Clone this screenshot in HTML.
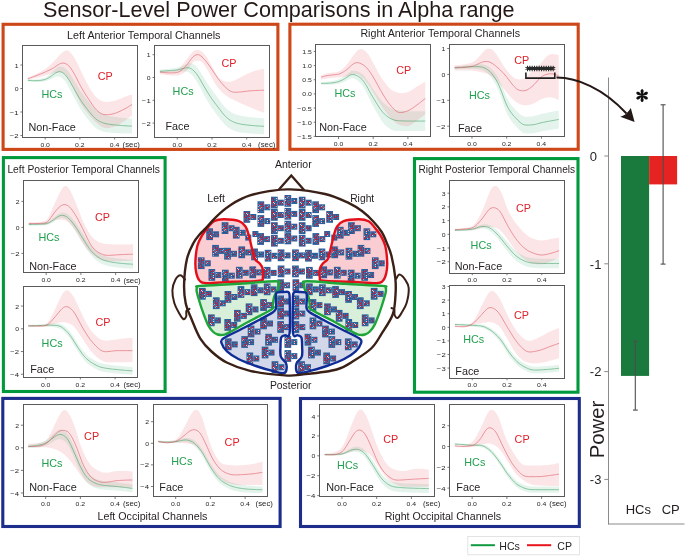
<!DOCTYPE html>
<html><head><meta charset="utf-8"><style>
html,body{margin:0;padding:0;background:#fff;width:685px;height:557px;overflow:hidden}
svg{display:block;will-change:transform}
text{font-family:"Liberation Sans", sans-serif}
</style></head><body>
<svg width="685" height="557" viewBox="0 0 685 557" font-family='"Liberation Sans", sans-serif'>
<rect width="685" height="557" fill="#ffffff"/>
<text x="43" y="17.1" font-size="22.4" fill="#231815" text-anchor="start" textLength="471.4" lengthAdjust="spacingAndGlyphs">Sensor-Level Power Comparisons in Alpha range</text>
<rect x="3.1" y="24.3" width="274.8" height="125.1" fill="none" stroke="#cd4719" stroke-width="3.1"/>
<rect x="289.9" y="24.2" width="288.3" height="125.1" fill="none" stroke="#cd4719" stroke-width="3.1"/>
<rect x="3.4" y="157.6" width="161.7" height="233.9" fill="none" stroke="#009a3d" stroke-width="3.1"/>
<rect x="414.5" y="158.6" width="163.5" height="233.6" fill="none" stroke="#009a3d" stroke-width="3.1"/>
<rect x="2.8" y="398.4" width="277.3" height="128.1" fill="none" stroke="#1c2d8c" stroke-width="3.1"/>
<rect x="300.5" y="398.5" width="278.8" height="128" fill="none" stroke="#1c2d8c" stroke-width="3.1"/>
<text x="67.1" y="38.5" font-size="10.6" fill="#231f20" text-anchor="start" textLength="153.4" lengthAdjust="spacingAndGlyphs">Left Anterior Temporal Channels</text>
<text x="360.4" y="37" font-size="10.6" fill="#231f20" text-anchor="start" textLength="159.6" lengthAdjust="spacingAndGlyphs">Right Anterior Temporal Channels</text>
<text x="7.4" y="172.8" font-size="10.4" fill="#231f20" text-anchor="start" textLength="152.6" lengthAdjust="spacingAndGlyphs">Left Posterior Temporal Channels</text>
<text x="418.5" y="173.3" font-size="10.3" fill="#231f20" text-anchor="start" textLength="156.6" lengthAdjust="spacingAndGlyphs">Right Posterior Temporal Channels</text>
<text x="97.5" y="520.1" font-size="10.6" fill="#231f20" text-anchor="start" textLength="109.9" lengthAdjust="spacingAndGlyphs">Left Occipital Channels</text>
<text x="384.7" y="520.1" font-size="10.6" fill="#231f20" text-anchor="start" textLength="116.4" lengthAdjust="spacingAndGlyphs">Right Occipital Channels</text>
<path d="M27.81,79.1 L28.98,79.21 L30.15,79.3 L31.32,79.37 L32.49,79.41 L33.66,79.41 L34.83,79.39 L36,79.35 L37.17,79.26 L38.34,79.14 L39.51,78.98 L40.68,78.77 L41.85,78.52 L43.02,78.22 L44.19,77.85 L45.36,77.38 L46.53,76.79 L47.7,76.05 L48.87,75.19 L50.04,74.22 L51.21,73.19 L52.39,72.1 L53.56,70.98 L54.73,69.84 L55.9,68.76 L57.07,67.82 L58.24,67.09 L59.41,66.64 L60.58,66.46 L61.75,66.54 L62.92,66.85 L64.09,67.38 L65.26,68.16 L66.43,69.21 L67.6,70.52 L68.77,72.05 L69.94,73.73 L71.11,75.51 L72.28,77.37 L73.45,79.29 L74.62,81.25 L75.79,83.23 L76.96,85.2 L78.13,87.12 L79.3,88.97 L80.47,90.73 L81.64,92.42 L82.81,94.04 L83.98,95.61 L85.15,97.14 L86.32,98.63 L87.5,100.1 L88.67,101.56 L89.84,103.02 L91.01,104.48 L92.18,105.9 L93.35,107.27 L94.52,108.54 L95.69,109.68 L96.86,110.68 L98.03,111.55 L99.2,112.3 L100.37,112.97 L101.54,113.57 L102.71,114.09 L103.88,114.55 L105.05,114.95 L106.22,115.29 L107.39,115.58 L108.56,115.83 L109.73,116.06 L110.9,116.26 L112.07,116.45 L113.24,116.63 L114.41,116.79 L115.58,116.95 L116.75,117.11 L117.92,117.26 L119.09,117.4 L120.26,117.54 L121.43,117.68 L122.61,117.81 L123.78,117.93 L124.95,118.05 L126.12,118.16 L127.29,118.26 L128.46,118.35 L129.63,118.43 L130.8,118.51 L131.97,118.58 L131.97,133.62 L130.8,133.61 L129.63,133.6 L128.46,133.58 L127.29,133.56 L126.12,133.53 L124.95,133.49 L123.78,133.45 L122.61,133.41 L121.43,133.36 L120.26,133.31 L119.09,133.25 L117.92,133.19 L116.75,133.13 L115.58,133.07 L114.41,133 L113.24,132.93 L112.07,132.85 L110.9,132.76 L109.73,132.65 L108.56,132.53 L107.39,132.38 L106.22,132.19 L105.05,131.97 L103.88,131.71 L102.71,131.39 L101.54,131.01 L100.37,130.58 L99.2,130.07 L98.03,129.48 L96.86,128.77 L95.69,127.92 L94.52,126.92 L93.35,125.77 L92.18,124.51 L91.01,123.16 L89.84,121.75 L88.67,120.32 L87.5,118.85 L86.32,117.34 L85.15,115.79 L83.98,114.17 L82.81,112.5 L81.64,110.75 L80.47,108.91 L79.3,106.98 L78.13,104.95 L76.96,102.83 L75.79,100.64 L74.62,98.42 L73.45,96.2 L72.28,94 L71.11,91.8 L69.94,89.59 L68.77,87.41 L67.6,85.29 L66.43,83.32 L65.26,81.57 L64.09,80.09 L62.92,78.86 L61.75,77.87 L60.58,77.12 L59.41,76.64 L58.24,76.44 L57.07,76.53 L55.9,76.86 L54.73,77.35 L53.56,77.92 L52.39,78.5 L51.21,79.06 L50.04,79.59 L48.87,80.1 L47.7,80.56 L46.53,80.95 L45.36,81.27 L44.19,81.52 L43.02,81.7 L41.85,81.85 L40.68,81.96 L39.51,82.03 L38.34,82.07 L37.17,82.08 L36,82.07 L34.83,82.03 L33.66,81.97 L32.49,81.9 L31.32,81.81 L30.15,81.7 L28.98,81.58 L27.81,81.45Z" fill="rgb(48,168,115)" fill-opacity="0.13"/>
<path d="M27.81,77.92 L28.98,77.41 L30.15,76.9 L31.32,76.37 L32.49,75.84 L33.66,75.29 L34.83,74.73 L36,74.16 L37.17,73.59 L38.34,73.01 L39.51,72.42 L40.68,71.81 L41.85,71.17 L43.02,70.49 L44.19,69.76 L45.36,68.97 L46.53,68.11 L47.7,67.17 L48.87,66.17 L50.04,65.12 L51.21,64.01 L52.39,62.87 L53.56,61.68 L54.73,60.44 L55.9,59.14 L57.07,57.81 L58.24,56.48 L59.41,55.2 L60.58,54 L61.75,52.92 L62.92,51.98 L64.09,51.22 L65.26,50.68 L66.43,50.44 L67.6,50.58 L68.77,51.11 L69.94,52.01 L71.11,53.23 L72.28,54.7 L73.45,56.35 L74.62,58.19 L75.79,60.22 L76.96,62.44 L78.13,64.8 L79.3,67.25 L80.47,69.73 L81.64,72.21 L82.81,74.69 L83.98,77.14 L85.15,79.54 L86.32,81.85 L87.5,84.07 L88.67,86.19 L89.84,88.21 L91.01,90.16 L92.18,92 L93.35,93.72 L94.52,95.27 L95.69,96.61 L96.86,97.75 L98.03,98.7 L99.2,99.5 L100.37,100.19 L101.54,100.78 L102.71,101.26 L103.88,101.62 L105.05,101.85 L106.22,101.95 L107.39,101.94 L108.56,101.85 L109.73,101.7 L110.9,101.5 L112.07,101.27 L113.24,101 L114.41,100.71 L115.58,100.38 L116.75,100 L117.92,99.58 L119.09,99.13 L120.26,98.66 L121.43,98.19 L122.61,97.73 L123.78,97.28 L124.95,96.84 L126.12,96.42 L127.29,96 L128.46,95.59 L129.63,95.18 L130.8,94.78 L131.97,94.38 L131.97,115.53 L130.8,116.45 L129.63,117.36 L128.46,118.25 L127.29,119.12 L126.12,119.95 L124.95,120.75 L123.78,121.53 L122.61,122.28 L121.43,123.01 L120.26,123.72 L119.09,124.4 L117.92,125.03 L116.75,125.6 L115.58,126.11 L114.41,126.56 L113.24,126.95 L112.07,127.3 L110.9,127.62 L109.73,127.88 L108.56,128.09 L107.39,128.2 L106.22,128.21 L105.05,128.07 L103.88,127.76 L102.71,127.29 L101.54,126.67 L100.37,125.95 L99.2,125.14 L98.03,124.26 L96.86,123.31 L95.69,122.28 L94.52,121.15 L93.35,119.93 L92.18,118.63 L91.01,117.27 L89.84,115.88 L88.67,114.47 L87.5,113.05 L86.32,111.61 L85.15,110.13 L83.98,108.58 L82.81,106.94 L81.64,105.16 L80.47,103.2 L79.3,101.02 L78.13,98.63 L76.96,96.09 L75.79,93.5 L74.62,90.93 L73.45,88.46 L72.28,86.09 L71.11,83.84 L69.94,81.71 L68.77,79.73 L67.6,77.89 L66.43,76.22 L65.26,74.77 L64.09,73.64 L62.92,72.87 L61.75,72.46 L60.58,72.32 L59.41,72.36 L58.24,72.49 L57.07,72.66 L55.9,72.86 L54.73,73.08 L53.56,73.32 L52.39,73.58 L51.21,73.87 L50.04,74.18 L48.87,74.5 L47.7,74.84 L46.53,75.18 L45.36,75.51 L44.19,75.85 L43.02,76.18 L41.85,76.51 L40.68,76.83 L39.51,77.15 L38.34,77.45 L37.17,77.74 L36,78.01 L34.83,78.27 L33.66,78.51 L32.49,78.74 L31.32,78.96 L30.15,79.17 L28.98,79.37 L27.81,79.57Z" fill="rgb(232,70,85)" fill-opacity="0.14"/>
<path d="M27.81,80.28 L28.98,80.39 L30.15,80.5 L31.32,80.59 L32.49,80.65 L33.66,80.69 L34.83,80.71 L36,80.71 L37.17,80.67 L38.34,80.61 L39.51,80.51 L40.68,80.36 L41.85,80.18 L43.02,79.96 L44.19,79.68 L45.36,79.33 L46.53,78.87 L47.7,78.31 L48.87,77.64 L50.04,76.91 L51.21,76.12 L52.39,75.3 L53.56,74.45 L54.73,73.6 L55.9,72.81 L57.07,72.17 L58.24,71.77 L59.41,71.64 L60.58,71.79 L61.75,72.21 L62.92,72.85 L64.09,73.73 L65.26,74.87 L66.43,76.26 L67.6,77.9 L68.77,79.73 L69.94,81.66 L71.11,83.65 L72.28,85.68 L73.45,87.74 L74.62,89.84 L75.79,91.94 L76.96,94.02 L78.13,96.04 L79.3,97.98 L80.47,99.82 L81.64,101.58 L82.81,103.27 L83.98,104.89 L85.15,106.46 L86.32,107.99 L87.5,109.48 L88.67,110.94 L89.84,112.39 L91.01,113.82 L92.18,115.2 L93.35,116.52 L94.52,117.73 L95.69,118.8 L96.86,119.72 L98.03,120.51 L99.2,121.19 L100.37,121.77 L101.54,122.29 L102.71,122.74 L103.88,123.13 L105.05,123.46 L106.22,123.74 L107.39,123.98 L108.56,124.18 L109.73,124.35 L110.9,124.51 L112.07,124.65 L113.24,124.78 L114.41,124.9 L115.58,125.01 L116.75,125.12 L117.92,125.22 L119.09,125.33 L120.26,125.42 L121.43,125.52 L122.61,125.61 L123.78,125.69 L124.95,125.77 L126.12,125.84 L127.29,125.91 L128.46,125.97 L129.63,126.02 L130.8,126.06 L131.97,126.1" fill="none" stroke="#45a266" stroke-width="0.6"/>
<path d="M27.81,78.63 L28.98,78.24 L30.15,77.84 L31.32,77.44 L32.49,77.03 L33.66,76.61 L34.83,76.18 L36,75.75 L37.17,75.3 L38.34,74.85 L39.51,74.4 L40.68,73.93 L41.85,73.45 L43.02,72.96 L44.19,72.46 L45.36,71.94 L46.53,71.42 L47.7,70.87 L48.87,70.32 L50.04,69.75 L51.21,69.16 L52.39,68.53 L53.56,67.87 L54.73,67.14 L55.9,66.36 L57.07,65.55 L58.24,64.76 L59.41,64.05 L60.58,63.51 L61.75,63.17 L62.92,63.07 L64.09,63.2 L65.26,63.54 L66.43,64.09 L67.6,64.85 L68.77,65.86 L69.94,67.15 L71.11,68.7 L72.28,70.47 L73.45,72.42 L74.62,74.51 L75.79,76.71 L76.96,79 L78.13,81.33 L79.3,83.63 L80.47,85.84 L81.64,87.95 L82.81,89.97 L83.98,91.92 L85.15,93.8 L86.32,95.64 L87.5,97.44 L88.67,99.23 L89.84,101.01 L91.01,102.76 L92.18,104.48 L93.35,106.12 L94.52,107.65 L95.69,109.02 L96.86,110.24 L98.03,111.3 L99.2,112.24 L100.37,113.05 L101.54,113.71 L102.71,114.19 L103.88,114.5 L105.05,114.65 L106.22,114.69 L107.39,114.65 L108.56,114.57 L109.73,114.46 L110.9,114.3 L112.07,114.1 L113.24,113.84 L114.41,113.52 L115.58,113.13 L116.75,112.68 L117.92,112.19 L119.09,111.66 L120.26,111.11 L121.43,110.54 L122.61,109.97 L123.78,109.37 L124.95,108.76 L126.12,108.12 L127.29,107.44 L128.46,106.74 L129.63,106 L130.8,105.25 L131.97,104.48" fill="none" stroke="#dc5a66" stroke-width="0.6"/>
<rect x="22.5" y="45.5" width="115" height="92" fill="none" stroke="#5a5a5a" stroke-width="1"/>
<line x1="20.4" y1="65" x2="22.6" y2="65" stroke="#5a5a5a" stroke-width="0.8"/>
<text x="18.6" y="67.5" font-size="6.25" fill="#1e1e1e" text-anchor="end" textLength="3.82" lengthAdjust="spacingAndGlyphs">1</text>
<line x1="20.4" y1="88.5" x2="22.6" y2="88.5" stroke="#5a5a5a" stroke-width="0.8"/>
<text x="18.6" y="91" font-size="6.25" fill="#1e1e1e" text-anchor="end" textLength="3.82" lengthAdjust="spacingAndGlyphs">0</text>
<line x1="20.4" y1="112" x2="22.6" y2="112" stroke="#5a5a5a" stroke-width="0.8"/>
<text x="18.6" y="114.5" font-size="6.25" fill="#1e1e1e" text-anchor="end" textLength="8.84" lengthAdjust="spacingAndGlyphs">−1</text>
<line x1="20.4" y1="135.5" x2="22.6" y2="135.5" stroke="#5a5a5a" stroke-width="0.8"/>
<text x="18.6" y="138" font-size="6.25" fill="#1e1e1e" text-anchor="end" textLength="8.84" lengthAdjust="spacingAndGlyphs">−2</text>
<line x1="45.17" y1="137.3" x2="45.17" y2="139.5" stroke="#5a5a5a" stroke-width="0.8"/>
<text x="45.17" y="146.6" font-size="6.25" fill="#1e1e1e" text-anchor="middle" textLength="9.54" lengthAdjust="spacingAndGlyphs">0.0</text>
<line x1="79.89" y1="137.3" x2="79.89" y2="139.5" stroke="#5a5a5a" stroke-width="0.8"/>
<text x="79.89" y="146.6" font-size="6.25" fill="#1e1e1e" text-anchor="middle" textLength="9.54" lengthAdjust="spacingAndGlyphs">0.2</text>
<line x1="114.61" y1="137.3" x2="114.61" y2="139.5" stroke="#5a5a5a" stroke-width="0.8"/>
<text x="114.61" y="146.6" font-size="6.25" fill="#1e1e1e" text-anchor="middle" textLength="9.54" lengthAdjust="spacingAndGlyphs">0.4</text>
<text x="122.6" y="146.9" font-size="7.3" fill="#1e1e1e" textLength="17.3" lengthAdjust="spacingAndGlyphs">(sec)</text>
<text x="97.8" y="79.9" font-size="10.8" fill="#e0202a" text-anchor="start" >CP</text>
<text x="41.5" y="97.8" font-size="10.8" fill="#22a050" text-anchor="start" >HCs</text>
<text x="28.4" y="131.3" font-size="10.8" fill="#231f20" text-anchor="start" >Non-Face</text>
<path d="M159.91,69.52 L161.08,69.42 L162.25,69.32 L163.42,69.21 L164.59,69.11 L165.76,68.99 L166.93,68.88 L168.1,68.76 L169.27,68.64 L170.44,68.52 L171.61,68.4 L172.78,68.27 L173.95,68.13 L175.12,67.97 L176.29,67.77 L177.46,67.52 L178.63,67.21 L179.8,66.82 L180.97,66.39 L182.14,65.93 L183.31,65.45 L184.49,64.97 L185.66,64.49 L186.83,64.01 L188,63.58 L189.17,63.27 L190.34,63.14 L191.51,63.27 L192.68,63.68 L193.85,64.35 L195.02,65.25 L196.19,66.35 L197.36,67.66 L198.53,69.17 L199.7,70.88 L200.87,72.72 L202.04,74.63 L203.21,76.55 L204.38,78.43 L205.55,80.28 L206.72,82.09 L207.89,83.89 L209.06,85.66 L210.23,87.41 L211.4,89.11 L212.57,90.77 L213.74,92.38 L214.91,93.96 L216.08,95.53 L217.25,97.1 L218.42,98.69 L219.6,100.29 L220.77,101.89 L221.94,103.44 L223.11,104.9 L224.28,106.27 L225.45,107.53 L226.62,108.69 L227.79,109.74 L228.96,110.69 L230.13,111.53 L231.3,112.26 L232.47,112.9 L233.64,113.46 L234.81,113.95 L235.98,114.39 L237.15,114.77 L238.32,115.09 L239.49,115.38 L240.66,115.64 L241.83,115.88 L243,116.09 L244.17,116.28 L245.34,116.47 L246.51,116.63 L247.68,116.79 L248.85,116.94 L250.02,117.08 L251.19,117.22 L252.36,117.35 L253.53,117.48 L254.71,117.6 L255.88,117.71 L257.05,117.82 L258.22,117.93 L259.39,118.02 L260.56,118.1 L261.73,118.18 L262.9,118.25 L264.07,118.31 L264.07,134.27 L262.9,134.25 L261.73,134.21 L260.56,134.18 L259.39,134.13 L258.22,134.08 L257.05,134.02 L255.88,133.95 L254.71,133.87 L253.53,133.79 L252.36,133.71 L251.19,133.62 L250.02,133.53 L248.85,133.43 L247.68,133.33 L246.51,133.22 L245.34,133.1 L244.17,132.97 L243,132.82 L241.83,132.65 L240.66,132.47 L239.49,132.26 L238.32,132.02 L237.15,131.74 L235.98,131.42 L234.81,131.04 L233.64,130.59 L232.47,130.09 L231.3,129.5 L230.13,128.82 L228.96,128.05 L227.79,127.16 L226.62,126.17 L225.45,125.09 L224.28,123.91 L223.11,122.62 L221.94,121.23 L220.77,119.76 L219.6,118.24 L218.42,116.7 L217.25,115.17 L216.08,113.65 L214.91,112.13 L213.74,110.58 L212.57,108.96 L211.4,107.28 L210.23,105.51 L209.06,103.65 L207.89,101.72 L206.72,99.73 L205.55,97.67 L204.38,95.54 L203.21,93.33 L202.04,91.07 L200.87,88.77 L199.7,86.52 L198.53,84.38 L197.36,82.41 L196.19,80.6 L195.02,78.92 L193.85,77.34 L192.68,75.87 L191.51,74.54 L190.34,73.42 L189.17,72.56 L188,71.96 L186.83,71.6 L185.66,71.42 L184.49,71.38 L183.31,71.42 L182.14,71.53 L180.97,71.68 L179.8,71.85 L178.63,72.02 L177.46,72.16 L176.29,72.27 L175.12,72.35 L173.95,72.41 L172.78,72.46 L171.61,72.5 L170.44,72.54 L169.27,72.59 L168.1,72.65 L166.93,72.71 L165.76,72.77 L164.59,72.84 L163.42,72.92 L162.25,73 L161.08,73.08 L159.91,73.17Z" fill="rgb(48,168,115)" fill-opacity="0.13"/>
<path d="M159.91,70.66 L161.08,70.66 L162.25,70.66 L163.42,70.66 L164.59,70.66 L165.76,70.66 L166.93,70.65 L168.1,70.63 L169.27,70.6 L170.44,70.54 L171.61,70.44 L172.78,70.3 L173.95,70.12 L175.12,69.89 L176.29,69.56 L177.46,69.09 L178.63,68.42 L179.8,67.51 L180.97,66.38 L182.14,65.08 L183.31,63.67 L184.49,62.2 L185.66,60.7 L186.83,59.17 L188,57.59 L189.17,56 L190.34,54.46 L191.51,53.06 L192.68,51.89 L193.85,51.02 L195.02,50.43 L196.19,50.1 L197.36,50 L198.53,50.11 L199.7,50.43 L200.87,50.98 L202.04,51.73 L203.21,52.71 L204.38,53.93 L205.55,55.39 L206.72,57.09 L207.89,58.98 L209.06,60.98 L210.23,63.04 L211.4,65.11 L212.57,67.19 L213.74,69.3 L214.91,71.41 L216.08,73.47 L217.25,75.37 L218.42,77.02 L219.6,78.35 L220.77,79.36 L221.94,80.1 L223.11,80.65 L224.28,81.07 L225.45,81.41 L226.62,81.65 L227.79,81.8 L228.96,81.85 L230.13,81.76 L231.3,81.54 L232.47,81.2 L233.64,80.75 L234.81,80.22 L235.98,79.66 L237.15,79.08 L238.32,78.49 L239.49,77.89 L240.66,77.28 L241.83,76.65 L243,76.02 L244.17,75.4 L245.34,74.8 L246.51,74.22 L247.68,73.67 L248.85,73.15 L250.02,72.64 L251.19,72.16 L252.36,71.72 L253.53,71.3 L254.71,70.92 L255.88,70.57 L257.05,70.25 L258.22,69.96 L259.39,69.69 L260.56,69.45 L261.73,69.23 L262.9,69.02 L264.07,68.84 L264.07,112.84 L262.9,112.41 L261.73,111.98 L260.56,111.54 L259.39,111.1 L258.22,110.65 L257.05,110.19 L255.88,109.73 L254.71,109.26 L253.53,108.79 L252.36,108.31 L251.19,107.83 L250.02,107.34 L248.85,106.85 L247.68,106.35 L246.51,105.84 L245.34,105.33 L244.17,104.81 L243,104.28 L241.83,103.75 L240.66,103.21 L239.49,102.67 L238.32,102.11 L237.15,101.55 L235.98,100.99 L234.81,100.43 L233.64,99.87 L232.47,99.31 L231.3,98.74 L230.13,98.15 L228.96,97.52 L227.79,96.85 L226.62,96.1 L225.45,95.26 L224.28,94.32 L223.11,93.28 L221.94,92.13 L220.77,90.89 L219.6,89.56 L218.42,88.13 L217.25,86.61 L216.08,84.97 L214.91,83.19 L213.74,81.24 L212.57,79.13 L211.4,76.92 L210.23,74.68 L209.06,72.49 L207.89,70.41 L206.72,68.47 L205.55,66.65 L204.38,64.97 L203.21,63.49 L202.04,62.28 L200.87,61.41 L199.7,60.88 L198.53,60.63 L197.36,60.59 L196.19,60.72 L195.02,61.05 L193.85,61.69 L192.68,62.68 L191.51,64.04 L190.34,65.65 L189.17,67.36 L188,69 L186.83,70.43 L185.66,71.62 L184.49,72.57 L183.31,73.36 L182.14,74.02 L180.97,74.57 L179.8,75 L178.63,75.31 L177.46,75.49 L176.29,75.57 L175.12,75.59 L173.95,75.56 L172.78,75.5 L171.61,75.43 L170.44,75.35 L169.27,75.26 L168.1,75.16 L166.93,75.05 L165.76,74.92 L164.59,74.77 L163.42,74.62 L162.25,74.45 L161.08,74.27 L159.91,74.08Z" fill="rgb(232,70,85)" fill-opacity="0.14"/>
<path d="M159.91,71.34 L161.08,71.25 L162.25,71.16 L163.42,71.07 L164.59,70.98 L165.76,70.88 L166.93,70.79 L168.1,70.7 L169.27,70.62 L170.44,70.53 L171.61,70.45 L172.78,70.37 L173.95,70.27 L175.12,70.16 L176.29,70.02 L177.46,69.84 L178.63,69.61 L179.8,69.34 L180.97,69.03 L182.14,68.73 L183.31,68.44 L184.49,68.17 L185.66,67.95 L186.83,67.81 L188,67.77 L189.17,67.91 L190.34,68.28 L191.51,68.91 L192.68,69.77 L193.85,70.85 L195.02,72.08 L196.19,73.48 L197.36,75.03 L198.53,76.78 L199.7,78.7 L200.87,80.75 L202.04,82.85 L203.21,84.94 L204.38,86.98 L205.55,88.97 L206.72,90.91 L207.89,92.81 L209.06,94.66 L210.23,96.46 L211.4,98.19 L212.57,99.87 L213.74,101.48 L214.91,103.05 L216.08,104.59 L217.25,106.14 L218.42,107.7 L219.6,109.27 L220.77,110.82 L221.94,112.33 L223.11,113.76 L224.28,115.09 L225.45,116.31 L226.62,117.43 L227.79,118.45 L228.96,119.37 L230.13,120.18 L231.3,120.88 L232.47,121.49 L233.64,122.03 L234.81,122.49 L235.98,122.9 L237.15,123.26 L238.32,123.56 L239.49,123.82 L240.66,124.06 L241.83,124.27 L243,124.45 L244.17,124.63 L245.34,124.78 L246.51,124.93 L247.68,125.06 L248.85,125.19 L250.02,125.3 L251.19,125.42 L252.36,125.53 L253.53,125.64 L254.71,125.74 L255.88,125.83 L257.05,125.92 L258.22,126 L259.39,126.07 L260.56,126.14 L261.73,126.2 L262.9,126.25 L264.07,126.29" fill="none" stroke="#45a266" stroke-width="0.6"/>
<path d="M159.91,72.03 L161.08,72.21 L162.25,72.38 L163.42,72.53 L164.59,72.66 L165.76,72.77 L166.93,72.84 L168.1,72.89 L169.27,72.91 L170.44,72.91 L171.61,72.9 L172.78,72.87 L173.95,72.83 L175.12,72.76 L176.29,72.63 L177.46,72.4 L178.63,72.01 L179.8,71.43 L180.97,70.65 L182.14,69.71 L183.31,68.64 L184.49,67.48 L185.66,66.22 L186.83,64.85 L188,63.36 L189.17,61.78 L190.34,60.17 L191.51,58.64 L192.68,57.29 L193.85,56.19 L195.02,55.37 L196.19,54.85 L197.36,54.63 L198.53,54.74 L199.7,55.2 L200.87,55.96 L202.04,56.96 L203.21,58.12 L204.38,59.4 L205.55,60.77 L206.72,62.23 L207.89,63.77 L209.06,65.38 L210.23,67.04 L211.4,68.73 L212.57,70.46 L213.74,72.21 L214.91,73.97 L216.08,75.71 L217.25,77.41 L218.42,79.03 L219.6,80.59 L220.77,82.09 L221.94,83.51 L223.11,84.85 L224.28,86.1 L225.45,87.26 L226.62,88.34 L227.79,89.34 L228.96,90.24 L230.13,90.99 L231.3,91.57 L232.47,91.95 L233.64,92.15 L234.81,92.23 L235.98,92.23 L237.15,92.2 L238.32,92.14 L239.49,92.07 L240.66,91.97 L241.83,91.84 L243,91.69 L244.17,91.53 L245.34,91.36 L246.51,91.2 L247.68,91.07 L248.85,90.95 L250.02,90.86 L251.19,90.77 L252.36,90.7 L253.53,90.63 L254.71,90.56 L255.88,90.5 L257.05,90.45 L258.22,90.4 L259.39,90.36 L260.56,90.33 L261.73,90.3 L262.9,90.28 L264.07,90.27" fill="none" stroke="#dc5a66" stroke-width="0.6"/>
<rect x="154.5" y="45.5" width="115" height="92" fill="none" stroke="#5a5a5a" stroke-width="1"/>
<line x1="152.5" y1="54.7" x2="154.7" y2="54.7" stroke="#5a5a5a" stroke-width="0.8"/>
<text x="150.7" y="57.2" font-size="6.25" fill="#1e1e1e" text-anchor="end" textLength="3.82" lengthAdjust="spacingAndGlyphs">1</text>
<line x1="152.5" y1="77.5" x2="154.7" y2="77.5" stroke="#5a5a5a" stroke-width="0.8"/>
<text x="150.7" y="80" font-size="6.25" fill="#1e1e1e" text-anchor="end" textLength="3.82" lengthAdjust="spacingAndGlyphs">0</text>
<line x1="152.5" y1="100.3" x2="154.7" y2="100.3" stroke="#5a5a5a" stroke-width="0.8"/>
<text x="150.7" y="102.8" font-size="6.25" fill="#1e1e1e" text-anchor="end" textLength="8.84" lengthAdjust="spacingAndGlyphs">−1</text>
<line x1="152.5" y1="123.1" x2="154.7" y2="123.1" stroke="#5a5a5a" stroke-width="0.8"/>
<text x="150.7" y="125.6" font-size="6.25" fill="#1e1e1e" text-anchor="end" textLength="8.84" lengthAdjust="spacingAndGlyphs">−2</text>
<line x1="177.27" y1="137.3" x2="177.27" y2="139.5" stroke="#5a5a5a" stroke-width="0.8"/>
<text x="177.27" y="146.6" font-size="6.25" fill="#1e1e1e" text-anchor="middle" textLength="9.54" lengthAdjust="spacingAndGlyphs">0.0</text>
<line x1="211.99" y1="137.3" x2="211.99" y2="139.5" stroke="#5a5a5a" stroke-width="0.8"/>
<text x="211.99" y="146.6" font-size="6.25" fill="#1e1e1e" text-anchor="middle" textLength="9.54" lengthAdjust="spacingAndGlyphs">0.2</text>
<line x1="246.71" y1="137.3" x2="246.71" y2="139.5" stroke="#5a5a5a" stroke-width="0.8"/>
<text x="246.71" y="146.6" font-size="6.25" fill="#1e1e1e" text-anchor="middle" textLength="9.54" lengthAdjust="spacingAndGlyphs">0.4</text>
<text x="258.1" y="146.9" font-size="7.3" fill="#1e1e1e" textLength="17.3" lengthAdjust="spacingAndGlyphs">(sec)</text>
<text x="221.4" y="67.2" font-size="10.8" fill="#e0202a" text-anchor="start" >CP</text>
<text x="172.6" y="94.8" font-size="10.8" fill="#22a050" text-anchor="start" >HCs</text>
<text x="165.4" y="130.2" font-size="10.8" fill="#231f20" text-anchor="start" >Face</text>
<path d="M321.11,82.01 L322.28,81.97 L323.45,81.91 L324.62,81.85 L325.79,81.77 L326.96,81.67 L328.13,81.57 L329.3,81.44 L330.47,81.29 L331.64,81.11 L332.81,80.9 L333.98,80.65 L335.15,80.37 L336.32,80.05 L337.49,79.69 L338.66,79.26 L339.83,78.76 L341,78.18 L342.17,77.52 L343.34,76.78 L344.51,75.97 L345.69,75.09 L346.86,74.14 L348.03,73.17 L349.2,72.27 L350.37,71.52 L351.54,70.99 L352.71,70.71 L353.88,70.66 L355.05,70.78 L356.22,71.02 L357.39,71.35 L358.56,71.77 L359.73,72.28 L360.9,72.92 L362.07,73.75 L363.24,74.81 L364.41,76.12 L365.58,77.64 L366.75,79.33 L367.92,81.13 L369.09,82.99 L370.26,84.85 L371.43,86.67 L372.6,88.43 L373.77,90.14 L374.94,91.82 L376.11,93.49 L377.28,95.15 L378.45,96.78 L379.62,98.37 L380.8,99.87 L381.97,101.26 L383.14,102.51 L384.31,103.62 L385.48,104.58 L386.65,105.44 L387.82,106.22 L388.99,106.94 L390.16,107.61 L391.33,108.22 L392.5,108.77 L393.67,109.22 L394.84,109.59 L396.01,109.88 L397.18,110.11 L398.35,110.3 L399.52,110.46 L400.69,110.61 L401.86,110.75 L403.03,110.87 L404.2,110.97 L405.37,111.05 L406.54,111.1 L407.71,111.13 L408.88,111.15 L410.05,111.16 L411.22,111.16 L412.39,111.16 L413.56,111.16 L414.73,111.16 L415.91,111.16 L417.08,111.16 L418.25,111.16 L419.42,111.16 L420.59,111.16 L421.76,111.16 L422.93,111.16 L424.1,111.16 L425.27,111.16 L425.27,130.97 L424.1,130.97 L422.93,130.97 L421.76,130.97 L420.59,130.97 L419.42,130.97 L418.25,130.97 L417.08,130.97 L415.91,130.97 L414.73,130.97 L413.56,130.97 L412.39,130.97 L411.22,130.97 L410.05,130.97 L408.88,130.98 L407.71,130.98 L406.54,130.99 L405.37,131 L404.2,131.02 L403.03,131.04 L401.86,131.06 L400.69,131.07 L399.52,131.08 L398.35,131.08 L397.18,131.04 L396.01,130.96 L394.84,130.8 L393.67,130.54 L392.5,130.16 L391.33,129.65 L390.16,129.03 L388.99,128.29 L387.82,127.46 L386.65,126.52 L385.48,125.44 L384.31,124.22 L383.14,122.81 L381.97,121.23 L380.8,119.48 L379.62,117.59 L378.45,115.61 L377.28,113.57 L376.11,111.5 L374.94,109.41 L373.77,107.3 L372.6,105.14 L371.43,102.9 L370.26,100.56 L369.09,98.13 L367.92,95.68 L366.75,93.25 L365.58,90.91 L364.41,88.74 L363.24,86.79 L362.07,85.09 L360.9,83.65 L359.73,82.43 L358.56,81.39 L357.39,80.48 L356.22,79.71 L355.05,79.07 L353.88,78.59 L352.71,78.3 L351.54,78.25 L350.37,78.46 L349.2,78.91 L348.03,79.53 L346.86,80.23 L345.69,80.91 L344.51,81.55 L343.34,82.13 L342.17,82.65 L341,83.12 L339.83,83.51 L338.66,83.83 L337.49,84.09 L336.32,84.3 L335.15,84.46 L333.98,84.6 L332.81,84.7 L331.64,84.78 L330.47,84.83 L329.3,84.85 L328.13,84.87 L326.96,84.87 L325.79,84.87 L324.62,84.87 L323.45,84.86 L322.28,84.86 L321.11,84.84Z" fill="rgb(48,168,115)" fill-opacity="0.13"/>
<path d="M321.11,75.22 L322.28,74.87 L323.45,74.52 L324.62,74.19 L325.79,73.87 L326.96,73.59 L328.13,73.33 L329.3,73.1 L330.47,72.9 L331.64,72.74 L332.81,72.59 L333.98,72.45 L335.15,72.3 L336.32,72.12 L337.49,71.85 L338.66,71.47 L339.83,70.93 L341,70.2 L342.17,69.28 L343.34,68.21 L344.51,67.02 L345.69,65.74 L346.86,64.37 L348.03,62.91 L349.2,61.35 L350.37,59.69 L351.54,57.98 L352.71,56.29 L353.88,54.66 L355.05,53.15 L356.22,51.79 L357.39,50.63 L358.56,49.73 L359.73,49.18 L360.9,49 L362.07,49.17 L363.24,49.64 L364.41,50.34 L365.58,51.26 L366.75,52.43 L367.92,53.86 L369.09,55.57 L370.26,57.49 L371.43,59.56 L372.6,61.71 L373.77,63.89 L374.94,66.11 L376.11,68.34 L377.28,70.55 L378.45,72.7 L379.62,74.75 L380.8,76.68 L381.97,78.5 L383.14,80.25 L384.31,81.92 L385.48,83.52 L386.65,85.03 L387.82,86.42 L388.99,87.66 L390.16,88.75 L391.33,89.66 L392.5,90.43 L393.67,91.08 L394.84,91.63 L396.01,92.11 L397.18,92.51 L398.35,92.83 L399.52,93.04 L400.69,93.15 L401.86,93.17 L403.03,93.09 L404.2,92.94 L405.37,92.73 L406.54,92.45 L407.71,92.1 L408.88,91.66 L410.05,91.11 L411.22,90.45 L412.39,89.71 L413.56,88.92 L414.73,88.12 L415.91,87.34 L417.08,86.58 L418.25,85.85 L419.42,85.15 L420.59,84.45 L421.76,83.77 L422.93,83.08 L424.1,82.41 L425.27,81.73 L425.27,114.28 L424.1,115.19 L422.93,116.09 L421.76,116.99 L420.59,117.87 L419.42,118.74 L418.25,119.61 L417.08,120.48 L415.91,121.38 L414.73,122.3 L413.56,123.22 L412.39,124.09 L411.22,124.87 L410.05,125.5 L408.88,125.93 L407.71,126.17 L406.54,126.24 L405.37,126.19 L404.2,126.06 L403.03,125.87 L401.86,125.62 L400.69,125.32 L399.52,124.93 L398.35,124.43 L397.18,123.79 L396.01,123 L394.84,122.06 L393.67,121.01 L392.5,119.88 L391.33,118.69 L390.16,117.44 L388.99,116.12 L387.82,114.72 L386.65,113.24 L385.48,111.69 L384.31,110.07 L383.14,108.41 L381.97,106.68 L380.8,104.9 L379.62,103.06 L378.45,101.17 L377.28,99.24 L376.11,97.29 L374.94,95.36 L373.77,93.45 L372.6,91.56 L371.43,89.67 L370.26,87.82 L369.09,86 L367.92,84.27 L366.75,82.65 L365.58,81.17 L364.41,79.82 L363.24,78.59 L362.07,77.45 L360.9,76.42 L359.73,75.51 L358.56,74.78 L357.39,74.26 L356.22,73.97 L355.05,73.92 L353.88,74.07 L352.71,74.37 L351.54,74.77 L350.37,75.2 L349.2,75.62 L348.03,75.99 L346.86,76.3 L345.69,76.55 L344.51,76.76 L343.34,76.93 L342.17,77.08 L341,77.22 L339.83,77.34 L338.66,77.45 L337.49,77.54 L336.32,77.62 L335.15,77.7 L333.98,77.77 L332.81,77.84 L331.64,77.93 L330.47,78.03 L329.3,78.15 L328.13,78.31 L326.96,78.49 L325.79,78.7 L324.62,78.93 L323.45,79.19 L322.28,79.47 L321.11,79.75Z" fill="rgb(232,70,85)" fill-opacity="0.14"/>
<path d="M321.11,83.43 L322.28,83.41 L323.45,83.39 L324.62,83.36 L325.79,83.32 L326.96,83.27 L328.13,83.22 L329.3,83.15 L330.47,83.06 L331.64,82.94 L332.81,82.8 L333.98,82.62 L335.15,82.42 L336.32,82.18 L337.49,81.89 L338.66,81.55 L339.83,81.14 L341,80.65 L342.17,80.09 L343.34,79.45 L344.51,78.76 L345.69,78 L346.86,77.18 L348.03,76.35 L349.2,75.59 L350.37,74.99 L351.54,74.62 L352.71,74.51 L353.88,74.62 L355.05,74.92 L356.22,75.36 L357.39,75.92 L358.56,76.58 L359.73,77.35 L360.9,78.28 L362.07,79.42 L363.24,80.8 L364.41,82.43 L365.58,84.27 L366.75,86.29 L367.92,88.41 L369.09,90.56 L370.26,92.71 L371.43,94.79 L372.6,96.79 L373.77,98.72 L374.94,100.62 L376.11,102.5 L377.28,104.36 L378.45,106.2 L379.62,107.98 L380.8,109.67 L381.97,111.24 L383.14,112.66 L384.31,113.92 L385.48,115.01 L386.65,115.98 L387.82,116.84 L388.99,117.62 L390.16,118.32 L391.33,118.94 L392.5,119.46 L393.67,119.88 L394.84,120.2 L396.01,120.42 L397.18,120.57 L398.35,120.69 L399.52,120.77 L400.69,120.84 L401.86,120.9 L403.03,120.95 L404.2,120.99 L405.37,121.02 L406.54,121.05 L407.71,121.06 L408.88,121.06 L410.05,121.07 L411.22,121.07 L412.39,121.07 L413.56,121.07 L414.73,121.07 L415.91,121.07 L417.08,121.07 L418.25,121.07 L419.42,121.07 L420.59,121.07 L421.76,121.07 L422.93,121.07 L424.1,121.07 L425.27,121.07" fill="none" stroke="#45a266" stroke-width="0.6"/>
<path d="M321.11,77.2 L322.28,76.85 L323.45,76.52 L324.62,76.2 L325.79,75.91 L326.96,75.65 L328.13,75.44 L329.3,75.26 L330.47,75.11 L331.64,75 L332.81,74.9 L333.98,74.81 L335.15,74.7 L336.32,74.57 L337.49,74.39 L338.66,74.13 L339.83,73.75 L341,73.26 L342.17,72.65 L343.34,71.96 L344.51,71.2 L345.69,70.37 L346.86,69.45 L348.03,68.46 L349.2,67.4 L350.37,66.32 L351.54,65.28 L352.71,64.34 L353.88,63.57 L355.05,63 L356.22,62.68 L357.39,62.61 L358.56,62.76 L359.73,63.1 L360.9,63.6 L362.07,64.22 L363.24,64.95 L364.41,65.79 L365.58,66.76 L366.75,67.89 L367.92,69.22 L369.09,70.73 L370.26,72.41 L371.43,74.2 L372.6,76.07 L373.77,78.03 L374.94,80.07 L376.11,82.17 L377.28,84.32 L378.45,86.47 L379.62,88.59 L380.8,90.65 L381.97,92.66 L383.14,94.62 L384.31,96.54 L385.48,98.4 L386.65,100.18 L387.82,101.87 L388.99,103.45 L390.16,104.93 L391.33,106.32 L392.5,107.65 L393.67,108.9 L394.84,110.04 L396.01,111.01 L397.18,111.76 L398.35,112.26 L399.52,112.52 L400.69,112.57 L401.86,112.47 L403.03,112.27 L404.2,111.99 L405.37,111.66 L406.54,111.27 L407.71,110.83 L408.88,110.32 L410.05,109.72 L411.22,109.03 L412.39,108.26 L413.56,107.44 L414.73,106.59 L415.91,105.73 L417.08,104.86 L418.25,103.99 L419.42,103.11 L420.59,102.21 L421.76,101.28 L422.93,100.35 L424.1,99.39 L425.27,98.43" fill="none" stroke="#dc5a66" stroke-width="0.6"/>
<rect x="315.5" y="44.5" width="115" height="92" fill="none" stroke="#5a5a5a" stroke-width="1"/>
<line x1="313.7" y1="51.45" x2="315.9" y2="51.45" stroke="#5a5a5a" stroke-width="0.8"/>
<text x="311.9" y="53.95" font-size="6.25" fill="#1e1e1e" text-anchor="end" textLength="9.54" lengthAdjust="spacingAndGlyphs">1.5</text>
<line x1="313.7" y1="65.6" x2="315.9" y2="65.6" stroke="#5a5a5a" stroke-width="0.8"/>
<text x="311.9" y="68.1" font-size="6.25" fill="#1e1e1e" text-anchor="end" textLength="9.54" lengthAdjust="spacingAndGlyphs">1.0</text>
<line x1="313.7" y1="79.75" x2="315.9" y2="79.75" stroke="#5a5a5a" stroke-width="0.8"/>
<text x="311.9" y="82.25" font-size="6.25" fill="#1e1e1e" text-anchor="end" textLength="9.54" lengthAdjust="spacingAndGlyphs">0.5</text>
<line x1="313.7" y1="93.9" x2="315.9" y2="93.9" stroke="#5a5a5a" stroke-width="0.8"/>
<text x="311.9" y="96.4" font-size="6.25" fill="#1e1e1e" text-anchor="end" textLength="9.54" lengthAdjust="spacingAndGlyphs">0.0</text>
<line x1="313.7" y1="108.05" x2="315.9" y2="108.05" stroke="#5a5a5a" stroke-width="0.8"/>
<text x="311.9" y="110.55" font-size="6.25" fill="#1e1e1e" text-anchor="end" textLength="14.57" lengthAdjust="spacingAndGlyphs">−0.5</text>
<line x1="313.7" y1="122.2" x2="315.9" y2="122.2" stroke="#5a5a5a" stroke-width="0.8"/>
<text x="311.9" y="124.7" font-size="6.25" fill="#1e1e1e" text-anchor="end" textLength="14.57" lengthAdjust="spacingAndGlyphs">−1.0</text>
<line x1="313.7" y1="136.35" x2="315.9" y2="136.35" stroke="#5a5a5a" stroke-width="0.8"/>
<text x="311.9" y="138.85" font-size="6.25" fill="#1e1e1e" text-anchor="end" textLength="14.57" lengthAdjust="spacingAndGlyphs">−1.5</text>
<line x1="338.47" y1="136.9" x2="338.47" y2="139.1" stroke="#5a5a5a" stroke-width="0.8"/>
<text x="338.47" y="146.2" font-size="6.25" fill="#1e1e1e" text-anchor="middle" textLength="9.54" lengthAdjust="spacingAndGlyphs">0.0</text>
<line x1="373.19" y1="136.9" x2="373.19" y2="139.1" stroke="#5a5a5a" stroke-width="0.8"/>
<text x="373.19" y="146.2" font-size="6.25" fill="#1e1e1e" text-anchor="middle" textLength="9.54" lengthAdjust="spacingAndGlyphs">0.2</text>
<line x1="407.91" y1="136.9" x2="407.91" y2="139.1" stroke="#5a5a5a" stroke-width="0.8"/>
<text x="407.91" y="146.2" font-size="6.25" fill="#1e1e1e" text-anchor="middle" textLength="9.54" lengthAdjust="spacingAndGlyphs">0.4</text>
<text x="396.2" y="74.2" font-size="10.8" fill="#e0202a" text-anchor="start" >CP</text>
<text x="334.4" y="96.8" font-size="10.8" fill="#22a050" text-anchor="start" >HCs</text>
<text x="319.3" y="131.2" font-size="10.8" fill="#231f20" text-anchor="start" >Non-Face</text>
<path d="M454.61,66.63 L455.78,66.54 L456.95,66.45 L458.12,66.35 L459.29,66.25 L460.46,66.13 L461.63,66 L462.8,65.86 L463.97,65.71 L465.14,65.53 L466.31,65.35 L467.48,65.17 L468.65,64.99 L469.82,64.83 L470.99,64.69 L472.16,64.57 L473.33,64.47 L474.5,64.38 L475.67,64.28 L476.84,64.19 L478.01,64.09 L479.19,64.02 L480.36,64 L481.53,64.06 L482.7,64.22 L483.87,64.5 L485.04,64.88 L486.21,65.36 L487.38,65.93 L488.55,66.62 L489.72,67.44 L490.89,68.41 L492.06,69.53 L493.23,70.79 L494.4,72.18 L495.57,73.7 L496.74,75.37 L497.91,77.24 L499.08,79.38 L500.25,81.82 L501.42,84.54 L502.59,87.46 L503.76,90.44 L504.93,93.36 L506.1,96.07 L507.27,98.52 L508.44,100.66 L509.61,102.54 L510.78,104.21 L511.95,105.73 L513.12,107.14 L514.3,108.45 L515.47,109.69 L516.64,110.88 L517.81,112.04 L518.98,113.15 L520.15,114.21 L521.32,115.14 L522.49,115.87 L523.66,116.36 L524.83,116.63 L526,116.72 L527.17,116.72 L528.34,116.68 L529.51,116.61 L530.68,116.52 L531.85,116.4 L533.02,116.24 L534.19,116.02 L535.36,115.74 L536.53,115.41 L537.7,115.05 L538.87,114.7 L540.04,114.37 L541.21,114.07 L542.38,113.79 L543.55,113.52 L544.72,113.26 L545.89,113 L547.06,112.75 L548.23,112.51 L549.41,112.26 L550.58,112.02 L551.75,111.78 L552.92,111.54 L554.09,111.31 L555.26,111.08 L556.43,110.85 L557.6,110.63 L558.77,110.4 L558.77,128.53 L557.6,128.71 L556.43,128.9 L555.26,129.08 L554.09,129.27 L552.92,129.46 L551.75,129.65 L550.58,129.84 L549.41,130.04 L548.23,130.23 L547.06,130.43 L545.89,130.63 L544.72,130.83 L543.55,131.04 L542.38,131.26 L541.21,131.49 L540.04,131.74 L538.87,132.01 L537.7,132.31 L536.53,132.61 L535.36,132.88 L534.19,133.11 L533.02,133.27 L531.85,133.38 L530.68,133.44 L529.51,133.47 L528.34,133.47 L527.17,133.46 L526,133.4 L524.83,133.24 L523.66,132.92 L522.49,132.38 L521.32,131.59 L520.15,130.6 L518.98,129.49 L517.81,128.32 L516.64,127.11 L515.47,125.87 L514.3,124.56 L513.12,123.18 L511.95,121.7 L510.78,120.1 L509.61,118.33 L508.44,116.34 L507.27,114.04 L506.1,111.4 L504.93,108.42 L503.76,105.15 L502.59,101.74 L501.42,98.32 L500.25,95.03 L499.08,91.99 L497.91,89.21 L496.74,86.69 L495.57,84.37 L494.4,82.23 L493.23,80.24 L492.06,78.43 L490.89,76.82 L489.72,75.42 L488.55,74.22 L487.38,73.19 L486.21,72.3 L485.04,71.52 L483.87,70.85 L482.7,70.3 L481.53,69.88 L480.36,69.57 L479.19,69.36 L478.01,69.2 L476.84,69.08 L475.67,68.98 L474.5,68.89 L473.33,68.81 L472.16,68.76 L470.99,68.72 L469.82,68.71 L468.65,68.74 L467.48,68.78 L466.31,68.83 L465.14,68.89 L463.97,68.94 L462.8,68.99 L461.63,69.02 L460.46,69.06 L459.29,69.09 L458.12,69.12 L456.95,69.15 L455.78,69.19 L454.61,69.22Z" fill="rgb(48,168,115)" fill-opacity="0.13"/>
<path d="M454.61,65.34 L455.78,65.27 L456.95,65.19 L458.12,65.1 L459.29,64.99 L460.46,64.88 L461.63,64.75 L462.8,64.6 L463.97,64.45 L465.14,64.27 L466.31,64.08 L467.48,63.86 L468.65,63.6 L469.82,63.29 L470.99,62.9 L472.16,62.4 L473.33,61.75 L474.5,60.94 L475.67,59.97 L476.84,58.88 L478.01,57.69 L479.19,56.45 L480.36,55.14 L481.53,53.79 L482.7,52.42 L483.87,51.14 L485.04,50.07 L486.21,49.31 L487.38,48.86 L488.55,48.68 L489.72,48.73 L490.89,49.01 L492.06,49.58 L493.23,50.47 L494.4,51.66 L495.57,53.1 L496.74,54.73 L497.91,56.52 L499.08,58.42 L500.25,60.37 L501.42,62.32 L502.59,64.2 L503.76,66.01 L504.93,67.73 L506.1,69.36 L507.27,70.9 L508.44,72.35 L509.61,73.69 L510.78,74.93 L511.95,76.08 L513.12,77.12 L514.3,78 L515.47,78.67 L516.64,79.12 L517.81,79.35 L518.98,79.43 L520.15,79.4 L521.32,79.3 L522.49,79.1 L523.66,78.76 L524.83,78.19 L526,77.35 L527.17,76.25 L528.34,74.98 L529.51,73.66 L530.68,72.39 L531.85,71.21 L533.02,70.14 L534.19,69.13 L535.36,68.16 L536.53,67.18 L537.7,66.17 L538.87,65.08 L540.04,63.91 L541.21,62.63 L542.38,61.28 L543.55,59.9 L544.72,58.55 L545.89,57.3 L547.06,56.21 L548.23,55.33 L549.41,54.7 L550.58,54.31 L551.75,54.12 L552.92,54.08 L554.09,54.15 L555.26,54.31 L556.43,54.55 L557.6,54.87 L558.77,55.23 L558.77,100.3 L557.6,99.66 L556.43,99.07 L555.26,98.53 L554.09,98.09 L552.92,97.75 L551.75,97.51 L550.58,97.38 L549.41,97.36 L548.23,97.44 L547.06,97.59 L545.89,97.81 L544.72,98.09 L543.55,98.42 L542.38,98.8 L541.21,99.27 L540.04,99.83 L538.87,100.5 L537.7,101.24 L536.53,102 L535.36,102.73 L534.19,103.36 L533.02,103.87 L531.85,104.27 L530.68,104.59 L529.51,104.83 L528.34,105.04 L527.17,105.19 L526,105.29 L524.83,105.32 L523.66,105.24 L522.49,105.05 L521.32,104.72 L520.15,104.26 L518.98,103.7 L517.81,103.04 L516.64,102.31 L515.47,101.51 L514.3,100.6 L513.12,99.58 L511.95,98.44 L510.78,97.21 L509.61,95.9 L508.44,94.56 L507.27,93.19 L506.1,91.79 L504.93,90.38 L503.76,88.94 L502.59,87.5 L501.42,86.07 L500.25,84.7 L499.08,83.41 L497.91,82.19 L496.74,81.03 L495.57,79.93 L494.4,78.86 L493.23,77.84 L492.06,76.87 L490.89,75.98 L489.72,75.17 L488.55,74.46 L487.38,73.87 L486.21,73.39 L485.04,73.01 L483.87,72.71 L482.7,72.47 L481.53,72.25 L480.36,72.04 L479.19,71.82 L478.01,71.58 L476.84,71.34 L475.67,71.1 L474.5,70.89 L473.33,70.73 L472.16,70.62 L470.99,70.56 L469.82,70.53 L468.65,70.52 L467.48,70.52 L466.31,70.52 L465.14,70.52 L463.97,70.52 L462.8,70.52 L461.63,70.52 L460.46,70.52 L459.29,70.52 L458.12,70.52 L456.95,70.52 L455.78,70.52 L454.61,70.52Z" fill="rgb(232,70,85)" fill-opacity="0.14"/>
<path d="M454.61,67.93 L455.78,67.86 L456.95,67.8 L458.12,67.74 L459.29,67.67 L460.46,67.59 L461.63,67.51 L462.8,67.42 L463.97,67.32 L465.14,67.21 L466.31,67.09 L467.48,66.97 L468.65,66.86 L469.82,66.77 L470.99,66.7 L472.16,66.66 L473.33,66.64 L474.5,66.63 L475.67,66.63 L476.84,66.63 L478.01,66.65 L479.19,66.69 L480.36,66.79 L481.53,66.97 L482.7,67.26 L483.87,67.67 L485.04,68.2 L486.21,68.83 L487.38,69.56 L488.55,70.42 L489.72,71.43 L490.89,72.62 L492.06,73.98 L493.23,75.52 L494.4,77.21 L495.57,79.04 L496.74,81.03 L497.91,83.23 L499.08,85.68 L500.25,88.43 L501.42,91.43 L502.59,94.6 L503.76,97.8 L504.93,100.89 L506.1,103.74 L507.27,106.28 L508.44,108.5 L509.61,110.43 L510.78,112.15 L511.95,113.72 L513.12,115.16 L514.3,116.51 L515.47,117.78 L516.64,119 L517.81,120.18 L518.98,121.32 L520.15,122.41 L521.32,123.36 L522.49,124.12 L523.66,124.64 L524.83,124.93 L526,125.06 L527.17,125.09 L528.34,125.08 L529.51,125.04 L530.68,124.98 L531.85,124.89 L533.02,124.76 L534.19,124.56 L535.36,124.31 L536.53,124.01 L537.7,123.68 L538.87,123.36 L540.04,123.06 L541.21,122.78 L542.38,122.52 L543.55,122.28 L544.72,122.04 L545.89,121.82 L547.06,121.59 L548.23,121.37 L549.41,121.15 L550.58,120.93 L551.75,120.71 L552.92,120.5 L554.09,120.29 L555.26,120.08 L556.43,119.87 L557.6,119.67 L558.77,119.47" fill="none" stroke="#45a266" stroke-width="0.6"/>
<path d="M454.61,67.41 L455.78,67.38 L456.95,67.35 L458.12,67.32 L459.29,67.29 L460.46,67.25 L461.63,67.21 L462.8,67.16 L463.97,67.12 L465.14,67.07 L466.31,67.02 L467.48,66.95 L468.65,66.88 L469.82,66.77 L470.99,66.63 L472.16,66.4 L473.33,66.08 L474.5,65.66 L475.67,65.14 L476.84,64.57 L478.01,63.99 L479.19,63.41 L480.36,62.86 L481.53,62.38 L482.7,61.99 L483.87,61.72 L485.04,61.57 L486.21,61.53 L487.38,61.58 L488.55,61.76 L489.72,62.1 L490.89,62.62 L492.06,63.31 L493.23,64.12 L494.4,64.99 L495.57,65.91 L496.74,66.87 L497.91,67.88 L499.08,68.93 L500.25,70.04 L501.42,71.2 L502.59,72.4 L503.76,73.65 L504.93,74.96 L506.1,76.34 L507.27,77.81 L508.44,79.34 L509.61,80.9 L510.78,82.45 L511.95,83.94 L513.12,85.34 L514.3,86.63 L515.47,87.79 L516.64,88.78 L517.81,89.57 L518.98,90.12 L520.15,90.48 L521.32,90.69 L522.49,90.79 L523.66,90.78 L524.83,90.65 L526,90.35 L527.17,89.87 L528.34,89.22 L529.51,88.44 L530.68,87.56 L531.85,86.61 L533.02,85.59 L534.19,84.49 L535.36,83.28 L536.53,81.99 L537.7,80.65 L538.87,79.34 L540.04,78.12 L541.21,77.06 L542.38,76.19 L543.55,75.51 L544.72,74.99 L545.89,74.58 L547.06,74.26 L548.23,74.01 L549.41,73.86 L550.58,73.79 L551.75,73.82 L552.92,73.96 L554.09,74.19 L555.26,74.53 L556.43,74.94 L557.6,75.43 L558.77,75.95" fill="none" stroke="#dc5a66" stroke-width="0.6"/>
<rect x="449.5" y="44.5" width="115" height="92" fill="none" stroke="#5a5a5a" stroke-width="1"/>
<line x1="447.2" y1="48.5" x2="449.4" y2="48.5" stroke="#5a5a5a" stroke-width="0.8"/>
<text x="445.4" y="51" font-size="6.25" fill="#1e1e1e" text-anchor="end" textLength="3.82" lengthAdjust="spacingAndGlyphs">1</text>
<line x1="447.2" y1="74.4" x2="449.4" y2="74.4" stroke="#5a5a5a" stroke-width="0.8"/>
<text x="445.4" y="76.9" font-size="6.25" fill="#1e1e1e" text-anchor="end" textLength="3.82" lengthAdjust="spacingAndGlyphs">0</text>
<line x1="447.2" y1="100.3" x2="449.4" y2="100.3" stroke="#5a5a5a" stroke-width="0.8"/>
<text x="445.4" y="102.8" font-size="6.25" fill="#1e1e1e" text-anchor="end" textLength="8.84" lengthAdjust="spacingAndGlyphs">−1</text>
<line x1="447.2" y1="126.2" x2="449.4" y2="126.2" stroke="#5a5a5a" stroke-width="0.8"/>
<text x="445.4" y="128.7" font-size="6.25" fill="#1e1e1e" text-anchor="end" textLength="8.84" lengthAdjust="spacingAndGlyphs">−2</text>
<line x1="471.97" y1="136.5" x2="471.97" y2="138.7" stroke="#5a5a5a" stroke-width="0.8"/>
<text x="471.97" y="145.8" font-size="6.25" fill="#1e1e1e" text-anchor="middle" textLength="9.54" lengthAdjust="spacingAndGlyphs">0.0</text>
<line x1="506.69" y1="136.5" x2="506.69" y2="138.7" stroke="#5a5a5a" stroke-width="0.8"/>
<text x="506.69" y="145.8" font-size="6.25" fill="#1e1e1e" text-anchor="middle" textLength="9.54" lengthAdjust="spacingAndGlyphs">0.2</text>
<line x1="541.41" y1="136.5" x2="541.41" y2="138.7" stroke="#5a5a5a" stroke-width="0.8"/>
<text x="541.41" y="145.8" font-size="6.25" fill="#1e1e1e" text-anchor="middle" textLength="9.54" lengthAdjust="spacingAndGlyphs">0.4</text>
<text x="514.2" y="63.7" font-size="10.8" fill="#e0202a" text-anchor="start" >CP</text>
<text x="468.9" y="98.6" font-size="10.8" fill="#22a050" text-anchor="start" >HCs</text>
<text x="457.9" y="131.6" font-size="10.8" fill="#231f20" text-anchor="start" >Face</text>
<path d="M28.81,223.24 L29.98,223.21 L31.15,223.17 L32.32,223.13 L33.49,223.08 L34.66,223.03 L35.83,222.98 L37,222.93 L38.17,222.87 L39.34,222.81 L40.51,222.74 L41.68,222.67 L42.85,222.59 L44.02,222.48 L45.19,222.31 L46.36,222.06 L47.53,221.68 L48.7,221.15 L49.87,220.49 L51.04,219.72 L52.21,218.87 L53.39,217.97 L54.56,217.02 L55.73,216.04 L56.9,215.07 L58.07,214.18 L59.24,213.46 L60.41,212.95 L61.58,212.68 L62.75,212.6 L63.92,212.69 L65.09,212.94 L66.26,213.38 L67.43,214.02 L68.6,214.87 L69.77,215.89 L70.94,217.04 L72.11,218.3 L73.28,219.65 L74.45,221.12 L75.62,222.7 L76.79,224.39 L77.96,226.15 L79.13,227.96 L80.3,229.79 L81.47,231.65 L82.64,233.52 L83.81,235.41 L84.98,237.32 L86.15,239.22 L87.32,241.07 L88.5,242.83 L89.67,244.46 L90.84,245.93 L92.01,247.26 L93.18,248.45 L94.35,249.55 L95.52,250.57 L96.69,251.52 L97.86,252.4 L99.03,253.21 L100.2,253.94 L101.37,254.58 L102.54,255.14 L103.71,255.6 L104.88,256 L106.05,256.35 L107.22,256.65 L108.39,256.92 L109.56,257.17 L110.73,257.4 L111.9,257.61 L113.07,257.8 L114.24,257.98 L115.41,258.15 L116.58,258.3 L117.75,258.44 L118.92,258.57 L120.09,258.7 L121.26,258.82 L122.43,258.93 L123.61,259.04 L124.78,259.15 L125.95,259.24 L127.12,259.33 L128.29,259.41 L129.46,259.48 L130.63,259.54 L131.8,259.59 L132.97,259.64 L132.97,268.74 L131.8,268.69 L130.63,268.64 L129.46,268.58 L128.29,268.51 L127.12,268.43 L125.95,268.34 L124.78,268.25 L123.61,268.14 L122.43,268.03 L121.26,267.92 L120.09,267.8 L118.92,267.67 L117.75,267.54 L116.58,267.4 L115.41,267.25 L114.24,267.08 L113.07,266.9 L111.9,266.71 L110.73,266.5 L109.56,266.27 L108.39,266.02 L107.22,265.75 L106.05,265.45 L104.88,265.1 L103.71,264.7 L102.54,264.24 L101.37,263.68 L100.2,263.04 L99.03,262.31 L97.86,261.5 L96.69,260.62 L95.52,259.67 L94.35,258.65 L93.18,257.55 L92.01,256.36 L90.84,255.03 L89.67,253.56 L88.5,251.93 L87.32,250.17 L86.15,248.32 L84.98,246.42 L83.81,244.51 L82.64,242.61 L81.47,240.72 L80.3,238.82 L79.13,236.91 L77.96,234.99 L76.79,233.07 L75.62,231.19 L74.45,229.38 L73.28,227.66 L72.11,226.03 L70.94,224.49 L69.77,223.04 L68.6,221.73 L67.43,220.6 L66.26,219.68 L65.09,218.99 L63.92,218.5 L62.75,218.19 L61.58,218.05 L60.41,218.12 L59.24,218.41 L58.07,218.92 L56.9,219.6 L55.73,220.36 L54.56,221.15 L53.39,221.91 L52.21,222.63 L51.04,223.32 L49.87,223.96 L48.7,224.5 L47.53,224.92 L46.36,225.21 L45.19,225.4 L44.02,225.5 L42.85,225.55 L41.68,225.59 L40.51,225.61 L39.34,225.63 L38.17,225.65 L37,225.67 L35.83,225.69 L34.66,225.71 L33.49,225.74 L32.32,225.76 L31.15,225.79 L29.98,225.81 L28.81,225.84Z" fill="rgb(48,168,115)" fill-opacity="0.13"/>
<path d="M28.81,222.2 L29.98,222.2 L31.15,222.2 L32.32,222.2 L33.49,222.2 L34.66,222.2 L35.83,222.19 L37,222.17 L38.17,222.13 L39.34,222.06 L40.51,221.96 L41.68,221.8 L42.85,221.58 L44.02,221.26 L45.19,220.76 L46.36,219.93 L47.53,218.64 L48.7,216.82 L49.87,214.52 L51.04,211.87 L52.21,209.06 L53.39,206.27 L54.56,203.58 L55.73,201 L56.9,198.5 L58.07,196.04 L59.24,193.65 L60.41,191.4 L61.58,189.4 L62.75,187.76 L63.92,186.59 L65.09,185.98 L66.26,186.02 L67.43,186.72 L68.6,188.03 L69.77,189.85 L70.94,192.04 L72.11,194.47 L73.28,197.03 L74.45,199.69 L75.62,202.45 L76.79,205.34 L77.96,208.36 L79.13,211.47 L80.3,214.57 L81.47,217.58 L82.64,220.42 L83.81,223.05 L84.98,225.48 L86.15,227.74 L87.32,229.86 L88.5,231.85 L89.67,233.69 L90.84,235.36 L92.01,236.83 L93.18,238.1 L94.35,239.16 L95.52,240.07 L96.69,240.85 L97.86,241.54 L99.03,242.13 L100.2,242.63 L101.37,243.04 L102.54,243.35 L103.71,243.59 L104.88,243.76 L106.05,243.9 L107.22,244.01 L108.39,244.11 L109.56,244.19 L110.73,244.27 L111.9,244.34 L113.07,244.4 L114.24,244.45 L115.41,244.49 L116.58,244.52 L117.75,244.54 L118.92,244.55 L120.09,244.55 L121.26,244.55 L122.43,244.55 L123.61,244.54 L124.78,244.53 L125.95,244.52 L127.12,244.5 L128.29,244.47 L129.46,244.44 L130.63,244.4 L131.8,244.35 L132.97,244.3 L132.97,260.55 L131.8,260.62 L130.63,260.69 L129.46,260.75 L128.29,260.82 L127.12,260.88 L125.95,260.93 L124.78,260.98 L123.61,261.03 L122.43,261.07 L121.26,261.11 L120.09,261.14 L118.92,261.16 L117.75,261.18 L116.58,261.19 L115.41,261.19 L114.24,261.2 L113.07,261.2 L111.9,261.2 L110.73,261.2 L109.56,261.19 L108.39,261.17 L107.22,261.12 L106.05,261.01 L104.88,260.84 L103.71,260.58 L102.54,260.24 L101.37,259.84 L100.2,259.38 L99.03,258.87 L97.86,258.3 L96.69,257.66 L95.52,256.94 L94.35,256.12 L93.18,255.22 L92.01,254.24 L90.84,253.18 L89.67,252.03 L88.5,250.77 L87.32,249.41 L86.15,247.93 L84.98,246.35 L83.81,244.69 L82.64,242.96 L81.47,241.17 L80.3,239.3 L79.13,237.35 L77.96,235.33 L76.79,233.29 L75.62,231.31 L74.45,229.45 L73.28,227.76 L72.11,226.25 L70.94,224.91 L69.77,223.69 L68.6,222.6 L67.43,221.65 L66.26,220.88 L65.09,220.32 L63.92,219.96 L62.75,219.78 L61.58,219.72 L60.41,219.75 L59.24,219.82 L58.07,219.92 L56.9,220.07 L55.73,220.28 L54.56,220.59 L53.39,221.04 L52.21,221.63 L51.04,222.31 L49.87,223.01 L48.7,223.65 L47.53,224.15 L46.36,224.49 L45.19,224.67 L44.02,224.76 L42.85,224.79 L41.68,224.8 L40.51,224.8 L39.34,224.8 L38.17,224.8 L37,224.8 L35.83,224.8 L34.66,224.8 L33.49,224.8 L32.32,224.8 L31.15,224.8 L29.98,224.8 L28.81,224.8Z" fill="rgb(232,70,85)" fill-opacity="0.14"/>
<path d="M28.81,224.54 L29.98,224.51 L31.15,224.48 L32.32,224.45 L33.49,224.41 L34.66,224.37 L35.83,224.34 L37,224.3 L38.17,224.26 L39.34,224.22 L40.51,224.18 L41.68,224.13 L42.85,224.07 L44.02,223.99 L45.19,223.85 L46.36,223.64 L47.53,223.3 L48.7,222.83 L49.87,222.22 L51.04,221.52 L52.21,220.75 L53.39,219.94 L54.56,219.08 L55.73,218.2 L56.9,217.33 L58.07,216.55 L59.24,215.93 L60.41,215.54 L61.58,215.37 L62.75,215.4 L63.92,215.6 L65.09,215.97 L66.26,216.53 L67.43,217.31 L68.6,218.3 L69.77,219.47 L70.94,220.76 L72.11,222.16 L73.28,223.66 L74.45,225.25 L75.62,226.95 L76.79,228.73 L77.96,230.57 L79.13,232.43 L80.3,234.31 L81.47,236.18 L82.64,238.06 L83.81,239.96 L84.98,241.87 L86.15,243.77 L87.32,245.62 L88.5,247.38 L89.67,249.01 L90.84,250.48 L92.01,251.81 L93.18,253 L94.35,254.1 L95.52,255.12 L96.69,256.07 L97.86,256.95 L99.03,257.76 L100.2,258.49 L101.37,259.13 L102.54,259.69 L103.71,260.15 L104.88,260.55 L106.05,260.9 L107.22,261.2 L108.39,261.47 L109.56,261.72 L110.73,261.95 L111.9,262.16 L113.07,262.35 L114.24,262.53 L115.41,262.7 L116.58,262.85 L117.75,262.99 L118.92,263.12 L120.09,263.25 L121.26,263.37 L122.43,263.48 L123.61,263.59 L124.78,263.7 L125.95,263.79 L127.12,263.88 L128.29,263.96 L129.46,264.03 L130.63,264.09 L131.8,264.14 L132.97,264.19" fill="none" stroke="#45a266" stroke-width="0.6"/>
<path d="M28.81,223.5 L29.98,223.5 L31.15,223.5 L32.32,223.5 L33.49,223.5 L34.66,223.5 L35.83,223.5 L37,223.49 L38.17,223.48 L39.34,223.46 L40.51,223.43 L41.68,223.38 L42.85,223.31 L44.02,223.18 L45.19,222.93 L46.36,222.47 L47.53,221.7 L48.7,220.57 L49.87,219.12 L51.04,217.45 L52.21,215.7 L53.39,214 L54.56,212.42 L55.73,210.97 L56.9,209.63 L58.07,208.38 L59.24,207.23 L60.41,206.23 L61.58,205.43 L62.75,204.89 L63.92,204.63 L65.09,204.65 L66.26,204.92 L67.43,205.45 L68.6,206.23 L69.77,207.27 L70.94,208.56 L72.11,210.05 L73.28,211.71 L74.45,213.48 L75.62,215.36 L76.79,217.34 L77.96,219.44 L79.13,221.64 L80.3,223.9 L81.47,226.22 L82.64,228.56 L83.81,230.94 L84.98,233.36 L86.15,235.81 L87.32,238.27 L88.5,240.65 L89.67,242.87 L90.84,244.84 L92.01,246.55 L93.18,247.99 L94.35,249.23 L95.52,250.3 L96.69,251.23 L97.86,252.04 L99.03,252.75 L100.2,253.36 L101.37,253.91 L102.54,254.38 L103.71,254.77 L104.88,255.07 L106.05,255.26 L107.22,255.36 L108.39,255.39 L109.56,255.36 L110.73,255.31 L111.9,255.23 L113.07,255.14 L114.24,255.05 L115.41,254.96 L116.58,254.87 L117.75,254.79 L118.92,254.72 L120.09,254.66 L121.26,254.6 L122.43,254.55 L123.61,254.5 L124.78,254.45 L125.95,254.41 L127.12,254.36 L128.29,254.32 L129.46,254.28 L130.63,254.25 L131.8,254.21 L132.97,254.18" fill="none" stroke="#dc5a66" stroke-width="0.6"/>
<rect x="23.5" y="180.5" width="115" height="92" fill="none" stroke="#5a5a5a" stroke-width="1"/>
<line x1="21.4" y1="201.4" x2="23.6" y2="201.4" stroke="#5a5a5a" stroke-width="0.8"/>
<text x="19.6" y="203.9" font-size="6.25" fill="#1e1e1e" text-anchor="end" textLength="3.82" lengthAdjust="spacingAndGlyphs">2</text>
<line x1="21.4" y1="227.4" x2="23.6" y2="227.4" stroke="#5a5a5a" stroke-width="0.8"/>
<text x="19.6" y="229.9" font-size="6.25" fill="#1e1e1e" text-anchor="end" textLength="3.82" lengthAdjust="spacingAndGlyphs">0</text>
<line x1="21.4" y1="253.4" x2="23.6" y2="253.4" stroke="#5a5a5a" stroke-width="0.8"/>
<text x="19.6" y="255.9" font-size="6.25" fill="#1e1e1e" text-anchor="end" textLength="8.84" lengthAdjust="spacingAndGlyphs">−2</text>
<line x1="46.17" y1="272.9" x2="46.17" y2="275.1" stroke="#5a5a5a" stroke-width="0.8"/>
<text x="46.17" y="282.2" font-size="6.25" fill="#1e1e1e" text-anchor="middle" textLength="9.54" lengthAdjust="spacingAndGlyphs">0.0</text>
<line x1="80.89" y1="272.9" x2="80.89" y2="275.1" stroke="#5a5a5a" stroke-width="0.8"/>
<text x="80.89" y="282.2" font-size="6.25" fill="#1e1e1e" text-anchor="middle" textLength="9.54" lengthAdjust="spacingAndGlyphs">0.2</text>
<line x1="115.61" y1="272.9" x2="115.61" y2="275.1" stroke="#5a5a5a" stroke-width="0.8"/>
<text x="115.61" y="282.2" font-size="6.25" fill="#1e1e1e" text-anchor="middle" textLength="9.54" lengthAdjust="spacingAndGlyphs">0.4</text>
<text x="123.4" y="282.5" font-size="7.3" fill="#1e1e1e" textLength="17.3" lengthAdjust="spacingAndGlyphs">(sec)</text>
<text x="94.9" y="220.9" font-size="10.8" fill="#e0202a" text-anchor="start" >CP</text>
<text x="38.4" y="240.8" font-size="10.8" fill="#22a050" text-anchor="start" >HCs</text>
<text x="29.2" y="269.9" font-size="10.8" fill="#231f20" text-anchor="start" >Non-Face</text>
<path d="M28.31,324.71 L29.48,324.67 L30.65,324.64 L31.82,324.61 L32.99,324.57 L34.16,324.52 L35.33,324.48 L36.5,324.43 L37.67,324.37 L38.84,324.31 L40.01,324.24 L41.18,324.17 L42.35,324.1 L43.52,324.02 L44.69,323.94 L45.86,323.87 L47.03,323.79 L48.2,323.7 L49.37,323.62 L50.54,323.54 L51.71,323.46 L52.89,323.39 L54.06,323.33 L55.23,323.29 L56.4,323.27 L57.57,323.31 L58.74,323.44 L59.91,323.71 L61.08,324.14 L62.25,324.74 L63.42,325.49 L64.59,326.36 L65.76,327.33 L66.93,328.39 L68.1,329.57 L69.27,330.89 L70.44,332.37 L71.61,333.98 L72.78,335.7 L73.95,337.49 L75.12,339.31 L76.29,341.13 L77.46,342.91 L78.63,344.66 L79.8,346.38 L80.97,348.05 L82.14,349.65 L83.31,351.16 L84.48,352.54 L85.65,353.79 L86.82,354.92 L88,355.94 L89.17,356.88 L90.34,357.74 L91.51,358.53 L92.68,359.28 L93.85,359.99 L95.02,360.65 L96.19,361.28 L97.36,361.85 L98.53,362.36 L99.7,362.8 L100.87,363.17 L102.04,363.48 L103.21,363.74 L104.38,363.97 L105.55,364.18 L106.72,364.37 L107.89,364.54 L109.06,364.71 L110.23,364.86 L111.4,365 L112.57,365.13 L113.74,365.26 L114.91,365.38 L116.08,365.5 L117.25,365.62 L118.42,365.74 L119.59,365.85 L120.76,365.96 L121.93,366.07 L123.11,366.18 L124.28,366.29 L125.45,366.38 L126.62,366.48 L127.79,366.57 L128.96,366.66 L130.13,366.74 L131.3,366.81 L132.47,366.89 L132.47,374.85 L131.3,374.77 L130.13,374.7 L128.96,374.61 L127.79,374.53 L126.62,374.44 L125.45,374.34 L124.28,374.24 L123.11,374.14 L121.93,374.03 L120.76,373.92 L119.59,373.81 L118.42,373.69 L117.25,373.58 L116.08,373.46 L114.91,373.34 L113.74,373.22 L112.57,373.09 L111.4,372.96 L110.23,372.82 L109.06,372.67 L107.89,372.5 L106.72,372.33 L105.55,372.14 L104.38,371.93 L103.21,371.7 L102.04,371.44 L100.87,371.13 L99.7,370.76 L98.53,370.32 L97.36,369.81 L96.19,369.24 L95.02,368.61 L93.85,367.94 L92.68,367.24 L91.51,366.49 L90.34,365.69 L89.17,364.84 L88,363.9 L86.82,362.88 L85.65,361.75 L84.48,360.5 L83.31,359.12 L82.14,357.61 L80.97,355.99 L79.8,354.29 L78.63,352.54 L77.46,350.72 L76.29,348.83 L75.12,346.9 L73.95,344.93 L72.78,342.98 L71.61,341.09 L70.44,339.29 L69.27,337.62 L68.1,336.1 L66.93,334.72 L65.76,333.46 L64.59,332.29 L63.42,331.23 L62.25,330.28 L61.08,329.48 L59.91,328.83 L58.74,328.33 L57.57,327.97 L56.4,327.69 L55.23,327.46 L54.06,327.27 L52.89,327.1 L51.71,326.96 L50.54,326.84 L49.37,326.75 L48.2,326.69 L47.03,326.65 L45.86,326.64 L44.69,326.65 L43.52,326.66 L42.35,326.69 L41.18,326.72 L40.01,326.75 L38.84,326.77 L37.67,326.8 L36.5,326.82 L35.33,326.84 L34.16,326.87 L32.99,326.89 L31.82,326.91 L30.65,326.93 L29.48,326.96 L28.31,326.98Z" fill="rgb(48,168,115)" fill-opacity="0.13"/>
<path d="M28.31,325.39 L29.48,325.39 L30.65,325.39 L31.82,325.39 L32.99,325.39 L34.16,325.39 L35.33,325.38 L36.5,325.38 L37.67,325.36 L38.84,325.33 L40.01,325.28 L41.18,325.22 L42.35,325.11 L43.52,324.94 L44.69,324.64 L45.86,324.09 L47.03,323.18 L48.2,321.84 L49.37,320.1 L50.54,318.05 L51.71,315.81 L52.89,313.49 L54.06,311.16 L55.23,308.8 L56.4,306.37 L57.57,303.86 L58.74,301.3 L59.91,298.79 L61.08,296.41 L62.25,294.29 L63.42,292.54 L64.59,291.25 L65.76,290.5 L66.93,290.3 L68.1,290.61 L69.27,291.36 L70.44,292.45 L71.61,293.81 L72.78,295.45 L73.95,297.35 L75.12,299.51 L76.29,301.89 L77.46,304.41 L78.63,306.99 L79.8,309.57 L80.97,312.08 L82.14,314.51 L83.31,316.88 L84.48,319.21 L85.65,321.49 L86.82,323.71 L88,325.82 L89.17,327.77 L90.34,329.53 L91.51,331.09 L92.68,332.48 L93.85,333.74 L95.02,334.9 L96.19,335.99 L97.36,337 L98.53,337.92 L99.7,338.72 L100.87,339.4 L102.04,339.92 L103.21,340.29 L104.38,340.5 L105.55,340.59 L106.72,340.58 L107.89,340.51 L109.06,340.4 L110.23,340.26 L111.4,340.11 L112.57,339.95 L113.74,339.79 L114.91,339.63 L116.08,339.48 L117.25,339.32 L118.42,339.16 L119.59,339 L120.76,338.85 L121.93,338.7 L123.11,338.56 L124.28,338.42 L125.45,338.3 L126.62,338.18 L127.79,338.07 L128.96,337.96 L130.13,337.86 L131.3,337.76 L132.47,337.67 L132.47,361.77 L131.3,361.88 L130.13,361.98 L128.96,362.07 L127.79,362.15 L126.62,362.22 L125.45,362.27 L124.28,362.31 L123.11,362.33 L121.93,362.34 L120.76,362.34 L119.59,362.34 L118.42,362.34 L117.25,362.34 L116.08,362.34 L114.91,362.34 L113.74,362.34 L112.57,362.34 L111.4,362.34 L110.23,362.34 L109.06,362.33 L107.89,362.29 L106.72,362.19 L105.55,362 L104.38,361.68 L103.21,361.22 L102.04,360.62 L100.87,359.92 L99.7,359.14 L98.53,358.29 L97.36,357.38 L96.19,356.4 L95.02,355.32 L93.85,354.16 L92.68,352.9 L91.51,351.57 L90.34,350.16 L89.17,348.68 L88,347.11 L86.82,345.45 L85.65,343.71 L84.48,341.92 L83.31,340.11 L82.14,338.3 L80.97,336.5 L79.8,334.72 L78.63,332.93 L77.46,331.17 L76.29,329.47 L75.12,327.9 L73.95,326.54 L72.78,325.43 L71.61,324.56 L70.44,323.89 L69.27,323.38 L68.1,322.97 L66.93,322.64 L65.76,322.39 L64.59,322.22 L63.42,322.14 L62.25,322.14 L61.08,322.23 L59.91,322.4 L58.74,322.62 L57.57,322.88 L56.4,323.17 L55.23,323.49 L54.06,323.84 L52.89,324.22 L51.71,324.64 L50.54,325.07 L49.37,325.49 L48.2,325.86 L47.03,326.16 L45.86,326.37 L44.69,326.51 L43.52,326.59 L42.35,326.65 L41.18,326.68 L40.01,326.71 L38.84,326.73 L37.67,326.74 L36.5,326.74 L35.33,326.73 L34.16,326.72 L32.99,326.69 L31.82,326.66 L30.65,326.62 L29.48,326.57 L28.31,326.53Z" fill="rgb(232,70,85)" fill-opacity="0.14"/>
<path d="M28.31,325.84 L29.48,325.82 L30.65,325.79 L31.82,325.76 L32.99,325.73 L34.16,325.7 L35.33,325.66 L36.5,325.63 L37.67,325.59 L38.84,325.54 L40.01,325.49 L41.18,325.44 L42.35,325.39 L43.52,325.34 L44.69,325.29 L45.86,325.25 L47.03,325.22 L48.2,325.2 L49.37,325.19 L50.54,325.19 L51.71,325.21 L52.89,325.25 L54.06,325.3 L55.23,325.38 L56.4,325.48 L57.57,325.64 L58.74,325.89 L59.91,326.27 L61.08,326.81 L62.25,327.51 L63.42,328.36 L64.59,329.33 L65.76,330.39 L66.93,331.56 L68.1,332.84 L69.27,334.26 L70.44,335.83 L71.61,337.53 L72.78,339.34 L73.95,341.21 L75.12,343.1 L76.29,344.98 L77.46,346.81 L78.63,348.6 L79.8,350.34 L80.97,352.02 L82.14,353.63 L83.31,355.14 L84.48,356.52 L85.65,357.77 L86.82,358.9 L88,359.92 L89.17,360.86 L90.34,361.71 L91.51,362.51 L92.68,363.26 L93.85,363.97 L95.02,364.63 L96.19,365.26 L97.36,365.83 L98.53,366.34 L99.7,366.78 L100.87,367.15 L102.04,367.46 L103.21,367.72 L104.38,367.95 L105.55,368.16 L106.72,368.35 L107.89,368.52 L109.06,368.69 L110.23,368.84 L111.4,368.98 L112.57,369.11 L113.74,369.24 L114.91,369.36 L116.08,369.48 L117.25,369.6 L118.42,369.71 L119.59,369.83 L120.76,369.94 L121.93,370.05 L123.11,370.16 L124.28,370.27 L125.45,370.36 L126.62,370.46 L127.79,370.55 L128.96,370.64 L130.13,370.72 L131.3,370.79 L132.47,370.87" fill="none" stroke="#45a266" stroke-width="0.6"/>
<path d="M28.31,325.84 L29.48,325.89 L30.65,325.94 L31.82,325.98 L32.99,326.01 L34.16,326.03 L35.33,326.05 L36.5,326.06 L37.67,326.06 L38.84,326.05 L40.01,326.03 L41.18,326 L42.35,325.96 L43.52,325.88 L44.69,325.72 L45.86,325.43 L47.03,324.93 L48.2,324.19 L49.37,323.2 L50.54,322.02 L51.71,320.72 L52.89,319.37 L54.06,318.02 L55.23,316.66 L56.4,315.28 L57.57,313.87 L58.74,312.43 L59.91,311.02 L61.08,309.69 L62.25,308.53 L63.42,307.6 L64.59,306.97 L65.76,306.67 L66.93,306.7 L68.1,307.04 L69.27,307.63 L70.44,308.45 L71.61,309.46 L72.78,310.7 L73.95,312.19 L75.12,313.94 L76.29,315.93 L77.46,318.09 L78.63,320.33 L79.8,322.57 L80.97,324.76 L82.14,326.86 L83.31,328.88 L84.48,330.85 L85.65,332.76 L86.82,334.62 L88,336.41 L89.17,338.1 L90.34,339.67 L91.51,341.14 L92.68,342.51 L93.85,343.81 L95.02,345.08 L96.19,346.29 L97.36,347.45 L98.53,348.51 L99.7,349.46 L100.87,350.26 L102.04,350.89 L103.21,351.33 L104.38,351.59 L105.55,351.7 L106.72,351.69 L107.89,351.61 L109.06,351.48 L110.23,351.33 L111.4,351.17 L112.57,351.02 L113.74,350.88 L114.91,350.78 L116.08,350.71 L117.25,350.66 L118.42,350.64 L119.59,350.63 L120.76,350.63 L121.93,350.63 L123.11,350.63 L124.28,350.63 L125.45,350.63 L126.62,350.63 L127.79,350.63 L128.96,350.63 L130.13,350.63 L131.3,350.63 L132.47,350.63" fill="none" stroke="#dc5a66" stroke-width="0.6"/>
<rect x="23.5" y="286.5" width="114" height="91" fill="none" stroke="#5a5a5a" stroke-width="1"/>
<line x1="20.9" y1="306.06" x2="23.1" y2="306.06" stroke="#5a5a5a" stroke-width="0.8"/>
<text x="19.1" y="308.56" font-size="6.25" fill="#1e1e1e" text-anchor="end" textLength="3.82" lengthAdjust="spacingAndGlyphs">2</text>
<line x1="20.9" y1="328.8" x2="23.1" y2="328.8" stroke="#5a5a5a" stroke-width="0.8"/>
<text x="19.1" y="331.3" font-size="6.25" fill="#1e1e1e" text-anchor="end" textLength="3.82" lengthAdjust="spacingAndGlyphs">0</text>
<line x1="20.9" y1="351.54" x2="23.1" y2="351.54" stroke="#5a5a5a" stroke-width="0.8"/>
<text x="19.1" y="354.04" font-size="6.25" fill="#1e1e1e" text-anchor="end" textLength="8.84" lengthAdjust="spacingAndGlyphs">−2</text>
<line x1="20.9" y1="374.28" x2="23.1" y2="374.28" stroke="#5a5a5a" stroke-width="0.8"/>
<text x="19.1" y="376.78" font-size="6.25" fill="#1e1e1e" text-anchor="end" textLength="8.84" lengthAdjust="spacingAndGlyphs">−4</text>
<line x1="45.67" y1="377.2" x2="45.67" y2="379.4" stroke="#5a5a5a" stroke-width="0.8"/>
<text x="45.67" y="386.5" font-size="6.25" fill="#1e1e1e" text-anchor="middle" textLength="9.54" lengthAdjust="spacingAndGlyphs">0.0</text>
<line x1="80.39" y1="377.2" x2="80.39" y2="379.4" stroke="#5a5a5a" stroke-width="0.8"/>
<text x="80.39" y="386.5" font-size="6.25" fill="#1e1e1e" text-anchor="middle" textLength="9.54" lengthAdjust="spacingAndGlyphs">0.2</text>
<line x1="115.11" y1="377.2" x2="115.11" y2="379.4" stroke="#5a5a5a" stroke-width="0.8"/>
<text x="115.11" y="386.5" font-size="6.25" fill="#1e1e1e" text-anchor="middle" textLength="9.54" lengthAdjust="spacingAndGlyphs">0.4</text>
<text x="123.4" y="386.8" font-size="7.3" fill="#1e1e1e" textLength="17.3" lengthAdjust="spacingAndGlyphs">(sec)</text>
<text x="95.5" y="325.5" font-size="10.8" fill="#e0202a" text-anchor="start" >CP</text>
<text x="41.6" y="347.1" font-size="10.8" fill="#22a050" text-anchor="start" >HCs</text>
<text x="30.2" y="372.6" font-size="10.8" fill="#231f20" text-anchor="start" >Face</text>
<path d="M454.91,229.09 L456.08,229.07 L457.25,229.03 L458.42,229 L459.59,228.95 L460.76,228.89 L461.93,228.83 L463.1,228.76 L464.27,228.68 L465.44,228.59 L466.61,228.5 L467.78,228.39 L468.95,228.26 L470.12,228.11 L471.29,227.93 L472.46,227.69 L473.63,227.39 L474.8,227.01 L475.97,226.57 L477.14,226.09 L478.31,225.6 L479.49,225.15 L480.66,224.77 L481.83,224.48 L483,224.31 L484.17,224.23 L485.34,224.25 L486.51,224.36 L487.68,224.56 L488.85,224.88 L490.02,225.33 L491.19,225.91 L492.36,226.63 L493.53,227.44 L494.7,228.33 L495.87,229.27 L497.04,230.26 L498.21,231.32 L499.38,232.46 L500.55,233.69 L501.72,235 L502.89,236.37 L504.06,237.79 L505.23,239.21 L506.4,240.62 L507.57,242.01 L508.74,243.38 L509.91,244.73 L511.08,246.06 L512.25,247.36 L513.42,248.61 L514.6,249.78 L515.77,250.86 L516.94,251.82 L518.11,252.67 L519.28,253.43 L520.45,254.12 L521.62,254.76 L522.79,255.36 L523.96,255.92 L525.13,256.43 L526.3,256.88 L527.47,257.27 L528.64,257.59 L529.81,257.83 L530.98,258.02 L532.15,258.16 L533.32,258.26 L534.49,258.34 L535.66,258.4 L536.83,258.46 L538,258.52 L539.17,258.56 L540.34,258.6 L541.51,258.63 L542.68,258.65 L543.85,258.67 L545.02,258.68 L546.19,258.68 L547.36,258.69 L548.53,258.69 L549.71,258.69 L550.88,258.69 L552.05,258.69 L553.22,258.69 L554.39,258.69 L555.56,258.69 L556.73,258.69 L557.9,258.69 L559.07,258.69 L559.07,268.28 L557.9,268.28 L556.73,268.28 L555.56,268.28 L554.39,268.28 L553.22,268.28 L552.05,268.28 L550.88,268.28 L549.71,268.28 L548.53,268.28 L547.36,268.28 L546.19,268.27 L545.02,268.27 L543.85,268.26 L542.68,268.24 L541.51,268.22 L540.34,268.19 L539.17,268.15 L538,268.11 L536.83,268.05 L535.66,267.99 L534.49,267.93 L533.32,267.85 L532.15,267.75 L530.98,267.61 L529.81,267.42 L528.64,267.18 L527.47,266.86 L526.3,266.47 L525.13,266.02 L523.96,265.51 L522.79,264.95 L521.62,264.35 L520.45,263.71 L519.28,263.02 L518.11,262.26 L516.94,261.41 L515.77,260.45 L514.6,259.37 L513.42,258.2 L512.25,256.95 L511.08,255.65 L509.91,254.32 L508.74,252.96 L507.57,251.56 L506.4,250.12 L505.23,248.62 L504.06,247.05 L502.89,245.45 L501.72,243.83 L500.55,242.23 L499.38,240.69 L498.21,239.21 L497.04,237.8 L495.87,236.45 L494.7,235.16 L493.53,233.93 L492.36,232.79 L491.19,231.78 L490.02,230.92 L488.85,230.22 L487.68,229.67 L486.51,229.23 L485.34,228.9 L484.17,228.65 L483,228.51 L481.83,228.47 L480.66,228.55 L479.49,228.74 L478.31,229.01 L477.14,229.33 L475.97,229.66 L474.8,229.98 L473.63,230.25 L472.46,230.47 L471.29,230.63 L470.12,230.75 L468.95,230.84 L467.78,230.91 L466.61,230.97 L465.44,231.02 L464.27,231.06 L463.1,231.1 L461.93,231.14 L460.76,231.17 L459.59,231.2 L458.42,231.22 L457.25,231.25 L456.08,231.27 L454.91,231.29Z" fill="rgb(48,168,115)" fill-opacity="0.13"/>
<path d="M454.91,228.82 L456.08,228.75 L457.25,228.68 L458.42,228.6 L459.59,228.5 L460.76,228.4 L461.93,228.29 L463.1,228.18 L464.27,228.06 L465.44,227.93 L466.61,227.78 L467.78,227.62 L468.95,227.42 L470.12,227.15 L471.29,226.75 L472.46,226.15 L473.63,225.25 L474.8,224.01 L475.97,222.44 L477.14,220.59 L478.31,218.55 L479.49,216.37 L480.66,214.07 L481.83,211.61 L483,208.95 L484.17,206.07 L485.34,203.02 L486.51,199.89 L487.68,196.81 L488.85,193.9 L490.02,191.29 L491.19,189.1 L492.36,187.44 L493.53,186.38 L494.7,185.93 L495.87,186.03 L497.04,186.61 L498.21,187.6 L499.38,189.01 L500.55,190.89 L501.72,193.31 L502.89,196.23 L504.06,199.5 L505.23,202.89 L506.4,206.14 L507.57,209.1 L508.74,211.71 L509.91,214.02 L511.08,216.09 L512.25,218 L513.42,219.79 L514.6,221.46 L515.77,223.03 L516.94,224.53 L518.11,225.95 L519.28,227.33 L520.45,228.66 L521.62,229.96 L522.79,231.21 L523.96,232.41 L525.13,233.54 L526.3,234.59 L527.47,235.54 L528.64,236.38 L529.81,237.1 L530.98,237.72 L532.15,238.24 L533.32,238.71 L534.49,239.12 L535.66,239.48 L536.83,239.81 L538,240.07 L539.17,240.28 L540.34,240.41 L541.51,240.46 L542.68,240.44 L543.85,240.34 L545.02,240.18 L546.19,239.97 L547.36,239.74 L548.53,239.5 L549.71,239.25 L550.88,239.02 L552.05,238.79 L553.22,238.57 L554.39,238.35 L555.56,238.13 L556.73,237.9 L557.9,237.68 L559.07,237.45 L559.07,257.73 L557.9,258.32 L556.73,258.89 L555.56,259.46 L554.39,260 L553.22,260.52 L552.05,261.02 L550.88,261.5 L549.71,261.98 L548.53,262.45 L547.36,262.91 L546.19,263.33 L545.02,263.7 L543.85,264 L542.68,264.2 L541.51,264.31 L540.34,264.34 L539.17,264.32 L538,264.26 L536.83,264.16 L535.66,264.04 L534.49,263.88 L533.32,263.66 L532.15,263.36 L530.98,262.95 L529.81,262.43 L528.64,261.8 L527.47,261.08 L526.3,260.3 L525.13,259.47 L523.96,258.6 L522.79,257.67 L521.62,256.69 L520.45,255.63 L519.28,254.5 L518.11,253.31 L516.94,252.04 L515.77,250.68 L514.6,249.22 L513.42,247.66 L512.25,246.01 L511.08,244.31 L509.91,242.59 L508.74,240.91 L507.57,239.27 L506.4,237.68 L505.23,236.13 L504.06,234.62 L502.89,233.19 L501.72,231.88 L500.55,230.74 L499.38,229.8 L498.21,229.06 L497.04,228.48 L495.87,228.03 L494.7,227.66 L493.53,227.37 L492.36,227.14 L491.19,226.98 L490.02,226.9 L488.85,226.9 L487.68,226.98 L486.51,227.11 L485.34,227.28 L484.17,227.49 L483,227.73 L481.83,227.97 L480.66,228.24 L479.49,228.52 L478.31,228.82 L477.14,229.13 L475.97,229.43 L474.8,229.7 L473.63,229.92 L472.46,230.08 L471.29,230.19 L470.12,230.26 L468.95,230.31 L467.78,230.35 L466.61,230.38 L465.44,230.41 L464.27,230.45 L463.1,230.49 L461.93,230.54 L460.76,230.59 L459.59,230.64 L458.42,230.69 L457.25,230.75 L456.08,230.81 L454.91,230.88Z" fill="rgb(232,70,85)" fill-opacity="0.14"/>
<path d="M454.91,230.19 L456.08,230.17 L457.25,230.14 L458.42,230.11 L459.59,230.07 L460.76,230.03 L461.93,229.98 L463.1,229.93 L464.27,229.87 L465.44,229.81 L466.61,229.73 L467.78,229.65 L468.95,229.55 L470.12,229.43 L471.29,229.28 L472.46,229.08 L473.63,228.82 L474.8,228.5 L475.97,228.12 L477.14,227.71 L478.31,227.3 L479.49,226.94 L480.66,226.66 L481.83,226.48 L483,226.41 L484.17,226.44 L485.34,226.57 L486.51,226.8 L487.68,227.11 L488.85,227.55 L490.02,228.13 L491.19,228.85 L492.36,229.71 L493.53,230.69 L494.7,231.74 L495.87,232.86 L497.04,234.03 L498.21,235.26 L499.38,236.57 L500.55,237.96 L501.72,239.41 L502.89,240.91 L504.06,242.42 L505.23,243.91 L506.4,245.37 L507.57,246.79 L508.74,248.17 L509.91,249.52 L511.08,250.86 L512.25,252.16 L513.42,253.41 L514.6,254.58 L515.77,255.65 L516.94,256.61 L518.11,257.47 L519.28,258.22 L520.45,258.92 L521.62,259.56 L522.79,260.16 L523.96,260.71 L525.13,261.22 L526.3,261.67 L527.47,262.06 L528.64,262.38 L529.81,262.63 L530.98,262.82 L532.15,262.95 L533.32,263.05 L534.49,263.13 L535.66,263.2 L536.83,263.26 L538,263.31 L539.17,263.36 L540.34,263.4 L541.51,263.43 L542.68,263.45 L543.85,263.46 L545.02,263.47 L546.19,263.48 L547.36,263.48 L548.53,263.48 L549.71,263.48 L550.88,263.48 L552.05,263.48 L553.22,263.48 L554.39,263.48 L555.56,263.48 L556.73,263.48 L557.9,263.48 L559.07,263.48" fill="none" stroke="#45a266" stroke-width="0.6"/>
<path d="M454.91,229.64 L456.08,229.59 L457.25,229.53 L458.42,229.46 L459.59,229.39 L460.76,229.31 L461.93,229.22 L463.1,229.13 L464.27,229.03 L465.44,228.92 L466.61,228.81 L467.78,228.68 L468.95,228.52 L470.12,228.32 L471.29,228.04 L472.46,227.64 L473.63,227.08 L474.8,226.33 L475.97,225.38 L477.14,224.28 L478.31,223.07 L479.49,221.79 L480.66,220.45 L481.83,219.04 L483,217.52 L484.17,215.91 L485.34,214.24 L486.51,212.59 L487.68,211.05 L488.85,209.74 L490.02,208.73 L491.19,208.07 L492.36,207.73 L493.53,207.66 L494.7,207.8 L495.87,208.12 L497.04,208.67 L498.21,209.51 L499.38,210.72 L500.55,212.31 L501.72,214.24 L502.89,216.42 L504.06,218.73 L505.23,221.07 L506.4,223.34 L507.57,225.51 L508.74,227.56 L509.91,229.54 L511.08,231.47 L512.25,233.35 L513.42,235.18 L514.6,236.94 L515.77,238.61 L516.94,240.17 L518.11,241.62 L519.28,242.99 L520.45,244.27 L521.62,245.49 L522.79,246.63 L523.96,247.7 L525.13,248.68 L526.3,249.55 L527.47,250.33 L528.64,251 L529.81,251.6 L530.98,252.15 L532.15,252.66 L533.32,253.13 L534.49,253.57 L535.66,253.96 L536.83,254.3 L538,254.58 L539.17,254.79 L540.34,254.93 L541.51,254.98 L542.68,254.96 L543.85,254.86 L545.02,254.69 L546.19,254.47 L547.36,254.22 L548.53,253.94 L549.71,253.64 L550.88,253.33 L552.05,253.01 L553.22,252.66 L554.39,252.29 L555.56,251.89 L556.73,251.48 L557.9,251.05 L559.07,250.6" fill="none" stroke="#dc5a66" stroke-width="0.6"/>
<rect x="449.5" y="180.5" width="115" height="93" fill="none" stroke="#5a5a5a" stroke-width="1"/>
<line x1="447.5" y1="193.2" x2="449.7" y2="193.2" stroke="#5a5a5a" stroke-width="0.8"/>
<text x="445.7" y="195.7" font-size="6.25" fill="#1e1e1e" text-anchor="end" textLength="3.82" lengthAdjust="spacingAndGlyphs">3</text>
<line x1="447.5" y1="206.9" x2="449.7" y2="206.9" stroke="#5a5a5a" stroke-width="0.8"/>
<text x="445.7" y="209.4" font-size="6.25" fill="#1e1e1e" text-anchor="end" textLength="3.82" lengthAdjust="spacingAndGlyphs">2</text>
<line x1="447.5" y1="220.6" x2="449.7" y2="220.6" stroke="#5a5a5a" stroke-width="0.8"/>
<text x="445.7" y="223.1" font-size="6.25" fill="#1e1e1e" text-anchor="end" textLength="3.82" lengthAdjust="spacingAndGlyphs">1</text>
<line x1="447.5" y1="234.3" x2="449.7" y2="234.3" stroke="#5a5a5a" stroke-width="0.8"/>
<text x="445.7" y="236.8" font-size="6.25" fill="#1e1e1e" text-anchor="end" textLength="3.82" lengthAdjust="spacingAndGlyphs">0</text>
<line x1="447.5" y1="248" x2="449.7" y2="248" stroke="#5a5a5a" stroke-width="0.8"/>
<text x="445.7" y="250.5" font-size="6.25" fill="#1e1e1e" text-anchor="end" textLength="8.84" lengthAdjust="spacingAndGlyphs">−1</text>
<line x1="447.5" y1="261.7" x2="449.7" y2="261.7" stroke="#5a5a5a" stroke-width="0.8"/>
<text x="445.7" y="264.2" font-size="6.25" fill="#1e1e1e" text-anchor="end" textLength="8.84" lengthAdjust="spacingAndGlyphs">−2</text>
<line x1="472.27" y1="273" x2="472.27" y2="275.2" stroke="#5a5a5a" stroke-width="0.8"/>
<text x="472.27" y="282.3" font-size="6.25" fill="#1e1e1e" text-anchor="middle" textLength="9.54" lengthAdjust="spacingAndGlyphs">0.0</text>
<line x1="506.99" y1="273" x2="506.99" y2="275.2" stroke="#5a5a5a" stroke-width="0.8"/>
<text x="506.99" y="282.3" font-size="6.25" fill="#1e1e1e" text-anchor="middle" textLength="9.54" lengthAdjust="spacingAndGlyphs">0.2</text>
<line x1="541.71" y1="273" x2="541.71" y2="275.2" stroke="#5a5a5a" stroke-width="0.8"/>
<text x="541.71" y="282.3" font-size="6.25" fill="#1e1e1e" text-anchor="middle" textLength="9.54" lengthAdjust="spacingAndGlyphs">0.4</text>
<text x="516" y="212.2" font-size="10.8" fill="#e0202a" text-anchor="start" >CP</text>
<text x="470.6" y="248.5" font-size="10.8" fill="#22a050" text-anchor="start" >HCs</text>
<text x="454.8" y="269.9" font-size="10.8" fill="#231f20" text-anchor="start" >Non-Face</text>
<path d="M454.91,323.36 L456.08,323.4 L457.25,323.44 L458.42,323.48 L459.59,323.52 L460.76,323.57 L461.93,323.61 L463.1,323.65 L464.27,323.7 L465.44,323.75 L466.61,323.79 L467.78,323.84 L468.95,323.89 L470.12,323.94 L471.29,323.99 L472.46,324.03 L473.63,324.06 L474.8,324.09 L475.97,324.12 L477.14,324.14 L478.31,324.18 L479.49,324.23 L480.66,324.32 L481.83,324.48 L483,324.71 L484.17,325.04 L485.34,325.47 L486.51,325.97 L487.68,326.53 L488.85,327.15 L490.02,327.81 L491.19,328.52 L492.36,329.29 L493.53,330.12 L494.7,331.02 L495.87,331.98 L497.04,333 L498.21,334.1 L499.38,335.29 L500.55,336.6 L501.72,338.05 L502.89,339.64 L504.06,341.35 L505.23,343.14 L506.4,344.95 L507.57,346.74 L508.74,348.46 L509.91,350.08 L511.08,351.6 L512.25,353.04 L513.42,354.42 L514.6,355.73 L515.77,356.97 L516.94,358.14 L518.11,359.2 L519.28,360.16 L520.45,361.02 L521.62,361.8 L522.79,362.51 L523.96,363.18 L525.13,363.82 L526.3,364.41 L527.47,364.95 L528.64,365.44 L529.81,365.85 L530.98,366.18 L532.15,366.42 L533.32,366.57 L534.49,366.65 L535.66,366.68 L536.83,366.66 L538,366.63 L539.17,366.57 L540.34,366.51 L541.51,366.44 L542.68,366.36 L543.85,366.28 L545.02,366.19 L546.19,366.11 L547.36,366.02 L548.53,365.93 L549.71,365.83 L550.88,365.73 L552.05,365.62 L553.22,365.5 L554.39,365.37 L555.56,365.25 L556.73,365.11 L557.9,364.98 L559.07,364.84 L559.07,371.64 L557.9,371.78 L556.73,371.91 L555.56,372.05 L554.39,372.17 L553.22,372.3 L552.05,372.42 L550.88,372.53 L549.71,372.63 L548.53,372.73 L547.36,372.82 L546.19,372.91 L545.02,372.99 L543.85,373.08 L542.68,373.16 L541.51,373.24 L540.34,373.31 L539.17,373.37 L538,373.43 L536.83,373.46 L535.66,373.48 L534.49,373.45 L533.32,373.37 L532.15,373.22 L530.98,372.98 L529.81,372.65 L528.64,372.24 L527.47,371.75 L526.3,371.21 L525.13,370.62 L523.96,369.98 L522.79,369.31 L521.62,368.6 L520.45,367.82 L519.28,366.96 L518.11,366 L516.94,364.94 L515.77,363.77 L514.6,362.53 L513.42,361.22 L512.25,359.84 L511.08,358.4 L509.91,356.88 L508.74,355.25 L507.57,353.51 L506.4,351.69 L505.23,349.81 L504.06,347.92 L502.89,346.08 L501.72,344.32 L500.55,342.68 L499.38,341.15 L498.21,339.73 L497.04,338.4 L495.87,337.14 L494.7,335.94 L493.53,334.83 L492.36,333.79 L491.19,332.84 L490.02,331.97 L488.85,331.16 L487.68,330.42 L486.51,329.74 L485.34,329.13 L484.17,328.6 L483,328.16 L481.83,327.82 L480.66,327.58 L479.49,327.4 L478.31,327.26 L477.14,327.14 L475.97,327.04 L474.8,326.95 L473.63,326.86 L472.46,326.76 L471.29,326.67 L470.12,326.57 L468.95,326.47 L467.78,326.37 L466.61,326.28 L465.44,326.18 L464.27,326.09 L463.1,326.01 L461.93,325.93 L460.76,325.85 L459.59,325.78 L458.42,325.71 L457.25,325.65 L456.08,325.59 L454.91,325.53Z" fill="rgb(48,168,115)" fill-opacity="0.13"/>
<path d="M454.91,325.67 L456.08,325.67 L457.25,325.67 L458.42,325.67 L459.59,325.67 L460.76,325.66 L461.93,325.65 L463.1,325.61 L464.27,325.53 L465.44,325.4 L466.61,325.19 L467.78,324.89 L468.95,324.51 L470.12,324.01 L471.29,323.34 L472.46,322.41 L473.63,321.11 L474.8,319.41 L475.97,317.32 L477.14,314.97 L478.31,312.5 L479.49,310.02 L480.66,307.62 L481.83,305.28 L483,302.97 L484.17,300.68 L485.34,298.44 L486.51,296.32 L487.68,294.43 L488.85,292.87 L490.02,291.73 L491.19,291.08 L492.36,290.96 L493.53,291.32 L494.7,292.11 L495.87,293.24 L497.04,294.63 L498.21,296.24 L499.38,298.1 L500.55,300.21 L501.72,302.56 L502.89,305.09 L504.06,307.72 L505.23,310.36 L506.4,312.92 L507.57,315.37 L508.74,317.7 L509.91,319.94 L511.08,322.11 L512.25,324.21 L513.42,326.21 L514.6,328.11 L515.77,329.86 L516.94,331.46 L518.11,332.91 L519.28,334.25 L520.45,335.51 L521.62,336.68 L522.79,337.77 L523.96,338.74 L525.13,339.56 L526.3,340.2 L527.47,340.62 L528.64,340.83 L529.81,340.85 L530.98,340.7 L532.15,340.42 L533.32,340.04 L534.49,339.57 L535.66,339.04 L536.83,338.48 L538,337.89 L539.17,337.29 L540.34,336.69 L541.51,336.09 L542.68,335.49 L543.85,334.88 L545.02,334.24 L546.19,333.61 L547.36,332.97 L548.53,332.35 L549.71,331.77 L550.88,331.21 L552.05,330.68 L553.22,330.18 L554.39,329.71 L555.56,329.25 L556.73,328.81 L557.9,328.39 L559.07,327.98 L559.07,358.31 L557.9,358.63 L556.73,358.95 L555.56,359.27 L554.39,359.58 L553.22,359.89 L552.05,360.2 L550.88,360.5 L549.71,360.81 L548.53,361.11 L547.36,361.42 L546.19,361.71 L545.02,361.99 L543.85,362.24 L542.68,362.46 L541.51,362.64 L540.34,362.79 L539.17,362.93 L538,363.04 L536.83,363.14 L535.66,363.21 L534.49,363.25 L533.32,363.25 L532.15,363.19 L530.98,363.07 L529.81,362.88 L528.64,362.62 L527.47,362.3 L526.3,361.92 L525.13,361.46 L523.96,360.89 L522.79,360.2 L521.62,359.34 L520.45,358.34 L519.28,357.19 L518.11,355.92 L516.94,354.53 L515.77,353.02 L514.6,351.37 L513.42,349.56 L512.25,347.6 L511.08,345.54 L509.91,343.43 L508.74,341.32 L507.57,339.25 L506.4,337.2 L505.23,335.18 L504.06,333.2 L502.89,331.29 L501.72,329.51 L500.55,327.95 L499.38,326.62 L498.21,325.55 L497.04,324.68 L495.87,323.96 L494.7,323.36 L493.53,322.87 L492.36,322.49 L491.19,322.22 L490.02,322.07 L488.85,322.03 L487.68,322.08 L486.51,322.2 L485.34,322.38 L484.17,322.58 L483,322.81 L481.83,323.05 L480.66,323.29 L479.49,323.54 L478.31,323.8 L477.14,324.07 L475.97,324.35 L474.8,324.64 L473.63,324.94 L472.46,325.24 L471.29,325.55 L470.12,325.88 L468.95,326.2 L467.78,326.51 L466.61,326.79 L465.44,327 L464.27,327.15 L463.1,327.23 L461.93,327.28 L460.76,327.29 L459.59,327.3 L458.42,327.3 L457.25,327.3 L456.08,327.3 L454.91,327.3Z" fill="rgb(232,70,85)" fill-opacity="0.14"/>
<path d="M454.91,324.44 L456.08,324.49 L457.25,324.54 L458.42,324.6 L459.59,324.65 L460.76,324.71 L461.93,324.77 L463.1,324.83 L464.27,324.9 L465.44,324.96 L466.61,325.04 L467.78,325.11 L468.95,325.18 L470.12,325.26 L471.29,325.33 L472.46,325.4 L473.63,325.46 L474.8,325.52 L475.97,325.58 L477.14,325.64 L478.31,325.72 L479.49,325.81 L480.66,325.95 L481.83,326.15 L483,326.44 L484.17,326.82 L485.34,327.3 L486.51,327.86 L487.68,328.48 L488.85,329.16 L490.02,329.89 L491.19,330.68 L492.36,331.54 L493.53,332.47 L494.7,333.48 L495.87,334.56 L497.04,335.7 L498.21,336.92 L499.38,338.22 L500.55,339.64 L501.72,341.18 L502.89,342.86 L504.06,344.63 L505.23,346.47 L506.4,348.32 L507.57,350.13 L508.74,351.85 L509.91,353.48 L511.08,355 L512.25,356.44 L513.42,357.82 L514.6,359.13 L515.77,360.37 L516.94,361.54 L518.11,362.6 L519.28,363.56 L520.45,364.42 L521.62,365.2 L522.79,365.91 L523.96,366.58 L525.13,367.22 L526.3,367.81 L527.47,368.35 L528.64,368.84 L529.81,369.25 L530.98,369.58 L532.15,369.82 L533.32,369.97 L534.49,370.05 L535.66,370.08 L536.83,370.06 L538,370.03 L539.17,369.97 L540.34,369.91 L541.51,369.84 L542.68,369.76 L543.85,369.68 L545.02,369.59 L546.19,369.51 L547.36,369.42 L548.53,369.33 L549.71,369.23 L550.88,369.13 L552.05,369.02 L553.22,368.9 L554.39,368.77 L555.56,368.65 L556.73,368.51 L557.9,368.38 L559.07,368.24" fill="none" stroke="#45a266" stroke-width="0.6"/>
<path d="M454.91,326.21 L456.08,326.34 L457.25,326.45 L458.42,326.55 L459.59,326.62 L460.76,326.68 L461.93,326.71 L463.1,326.72 L464.27,326.69 L465.44,326.6 L466.61,326.42 L467.78,326.12 L468.95,325.69 L470.12,325.14 L471.29,324.48 L472.46,323.73 L473.63,322.85 L474.8,321.86 L475.97,320.75 L477.14,319.56 L478.31,318.31 L479.49,317.04 L480.66,315.76 L481.83,314.46 L483,313.14 L484.17,311.81 L485.34,310.53 L486.51,309.39 L487.68,308.48 L488.85,307.87 L490.02,307.59 L491.19,307.62 L492.36,307.92 L493.53,308.42 L494.7,309.09 L495.87,309.94 L497.04,310.99 L498.21,312.27 L499.38,313.8 L500.55,315.53 L501.72,317.44 L502.89,319.45 L504.06,321.52 L505.23,323.58 L506.4,325.61 L507.57,327.58 L508.74,329.52 L509.91,331.44 L511.08,333.35 L512.25,335.25 L513.42,337.1 L514.6,338.88 L515.77,340.56 L516.94,342.12 L518.11,343.56 L519.28,344.91 L520.45,346.19 L521.62,347.42 L522.79,348.56 L523.96,349.59 L525.13,350.46 L526.3,351.14 L527.47,351.62 L528.64,351.89 L529.81,351.99 L530.98,351.96 L532.15,351.84 L533.32,351.67 L534.49,351.46 L535.66,351.23 L536.83,350.97 L538,350.7 L539.17,350.4 L540.34,350.08 L541.51,349.72 L542.68,349.33 L543.85,348.91 L545.02,348.46 L546.19,347.99 L547.36,347.53 L548.53,347.07 L549.71,346.62 L550.88,346.19 L552.05,345.77 L553.22,345.35 L554.39,344.95 L555.56,344.54 L556.73,344.14 L557.9,343.74 L559.07,343.35" fill="none" stroke="#dc5a66" stroke-width="0.6"/>
<rect x="449.5" y="285.5" width="115" height="93" fill="none" stroke="#5a5a5a" stroke-width="1"/>
<line x1="447.5" y1="286.5" x2="449.7" y2="286.5" stroke="#5a5a5a" stroke-width="0.8"/>
<text x="445.7" y="289" font-size="6.25" fill="#1e1e1e" text-anchor="end" textLength="3.82" lengthAdjust="spacingAndGlyphs">3</text>
<line x1="447.5" y1="300.1" x2="449.7" y2="300.1" stroke="#5a5a5a" stroke-width="0.8"/>
<text x="445.7" y="302.6" font-size="6.25" fill="#1e1e1e" text-anchor="end" textLength="3.82" lengthAdjust="spacingAndGlyphs">2</text>
<line x1="447.5" y1="313.7" x2="449.7" y2="313.7" stroke="#5a5a5a" stroke-width="0.8"/>
<text x="445.7" y="316.2" font-size="6.25" fill="#1e1e1e" text-anchor="end" textLength="3.82" lengthAdjust="spacingAndGlyphs">1</text>
<line x1="447.5" y1="327.3" x2="449.7" y2="327.3" stroke="#5a5a5a" stroke-width="0.8"/>
<text x="445.7" y="329.8" font-size="6.25" fill="#1e1e1e" text-anchor="end" textLength="3.82" lengthAdjust="spacingAndGlyphs">0</text>
<line x1="447.5" y1="340.9" x2="449.7" y2="340.9" stroke="#5a5a5a" stroke-width="0.8"/>
<text x="445.7" y="343.4" font-size="6.25" fill="#1e1e1e" text-anchor="end" textLength="8.84" lengthAdjust="spacingAndGlyphs">−1</text>
<line x1="447.5" y1="354.5" x2="449.7" y2="354.5" stroke="#5a5a5a" stroke-width="0.8"/>
<text x="445.7" y="357" font-size="6.25" fill="#1e1e1e" text-anchor="end" textLength="8.84" lengthAdjust="spacingAndGlyphs">−2</text>
<line x1="447.5" y1="368.1" x2="449.7" y2="368.1" stroke="#5a5a5a" stroke-width="0.8"/>
<text x="445.7" y="370.6" font-size="6.25" fill="#1e1e1e" text-anchor="end" textLength="8.84" lengthAdjust="spacingAndGlyphs">−3</text>
<line x1="472.27" y1="378" x2="472.27" y2="380.2" stroke="#5a5a5a" stroke-width="0.8"/>
<text x="472.27" y="387.3" font-size="6.25" fill="#1e1e1e" text-anchor="middle" textLength="9.54" lengthAdjust="spacingAndGlyphs">0.0</text>
<line x1="506.99" y1="378" x2="506.99" y2="380.2" stroke="#5a5a5a" stroke-width="0.8"/>
<text x="506.99" y="387.3" font-size="6.25" fill="#1e1e1e" text-anchor="middle" textLength="9.54" lengthAdjust="spacingAndGlyphs">0.2</text>
<line x1="541.71" y1="378" x2="541.71" y2="380.2" stroke="#5a5a5a" stroke-width="0.8"/>
<text x="541.71" y="387.3" font-size="6.25" fill="#1e1e1e" text-anchor="middle" textLength="9.54" lengthAdjust="spacingAndGlyphs">0.4</text>
<text x="513.9" y="318.9" font-size="10.8" fill="#e0202a" text-anchor="start" >CP</text>
<text x="463.2" y="343.3" font-size="10.8" fill="#22a050" text-anchor="start" >HCs</text>
<text x="455.3" y="375.3" font-size="10.8" fill="#231f20" text-anchor="start" >Face</text>
<path d="M28.31,444.75 L29.48,444.63 L30.65,444.49 L31.82,444.33 L32.99,444.15 L34.16,443.95 L35.33,443.72 L36.5,443.47 L37.67,443.2 L38.84,442.9 L40.01,442.56 L41.18,442.19 L42.35,441.77 L43.52,441.3 L44.69,440.76 L45.86,440.13 L47.03,439.37 L48.2,438.48 L49.37,437.49 L50.54,436.44 L51.71,435.36 L52.89,434.28 L54.06,433.22 L55.23,432.21 L56.4,431.28 L57.57,430.51 L58.74,429.95 L59.91,429.66 L61.08,429.63 L62.25,429.84 L63.42,430.26 L64.59,430.9 L65.76,431.81 L66.93,433.04 L68.1,434.65 L69.27,436.6 L70.44,438.84 L71.61,441.25 L72.78,443.77 L73.95,446.37 L75.12,449.04 L76.29,451.77 L77.46,454.5 L78.63,457.18 L79.8,459.74 L80.97,462.15 L82.14,464.42 L83.31,466.55 L84.48,468.53 L85.65,470.33 L86.82,471.92 L88,473.27 L89.17,474.42 L90.34,475.41 L91.51,476.28 L92.68,477.07 L93.85,477.77 L95.02,478.4 L96.19,478.96 L97.36,479.44 L98.53,479.85 L99.7,480.19 L100.87,480.47 L102.04,480.71 L103.21,480.91 L104.38,481.09 L105.55,481.25 L106.72,481.39 L107.89,481.52 L109.06,481.65 L110.23,481.76 L111.4,481.88 L112.57,481.99 L113.74,482.1 L114.91,482.22 L116.08,482.34 L117.25,482.47 L118.42,482.6 L119.59,482.75 L120.76,482.9 L121.93,483.05 L123.11,483.21 L124.28,483.36 L125.45,483.53 L126.62,483.69 L127.79,483.85 L128.96,484.02 L130.13,484.19 L131.3,484.36 L132.47,484.53 L132.47,492.44 L131.3,492.27 L130.13,492.11 L128.96,491.95 L127.79,491.79 L126.62,491.64 L125.45,491.5 L124.28,491.36 L123.11,491.22 L121.93,491.09 L120.76,490.96 L119.59,490.84 L118.42,490.73 L117.25,490.63 L116.08,490.54 L114.91,490.46 L113.74,490.39 L112.57,490.32 L111.4,490.25 L110.23,490.19 L109.06,490.12 L107.89,490.05 L106.72,489.97 L105.55,489.88 L104.38,489.78 L103.21,489.66 L102.04,489.52 L100.87,489.34 L99.7,489.13 L98.53,488.86 L97.36,488.54 L96.19,488.17 L95.02,487.74 L93.85,487.27 L92.68,486.74 L91.51,486.15 L90.34,485.48 L89.17,484.69 L88,483.74 L86.82,482.57 L85.65,481.16 L84.48,479.51 L83.31,477.64 L82.14,475.6 L80.97,473.39 L79.8,471 L78.63,468.44 L77.46,465.74 L76.29,462.97 L75.12,460.19 L73.95,457.46 L72.78,454.79 L71.61,452.19 L70.44,449.69 L69.27,447.36 L68.1,445.31 L66.93,443.59 L65.76,442.25 L64.59,441.22 L63.42,440.44 L62.25,439.85 L61.08,439.45 L59.91,439.24 L58.74,439.26 L57.57,439.51 L56.4,439.95 L55.23,440.53 L54.06,441.18 L52.89,441.88 L51.71,442.59 L50.54,443.33 L49.37,444.05 L48.2,444.73 L47.03,445.34 L45.86,445.85 L44.69,446.27 L43.52,446.6 L42.35,446.87 L41.18,447.1 L40.01,447.29 L38.84,447.45 L37.67,447.59 L36.5,447.7 L35.33,447.8 L34.16,447.89 L32.99,447.96 L31.82,448.03 L30.65,448.08 L29.48,448.11 L28.31,448.14Z" fill="rgb(48,168,115)" fill-opacity="0.13"/>
<path d="M28.31,443.85 L29.48,443.81 L30.65,443.76 L31.82,443.7 L32.99,443.62 L34.16,443.53 L35.33,443.43 L36.5,443.31 L37.67,443.19 L38.84,443.04 L40.01,442.87 L41.18,442.67 L42.35,442.41 L43.52,442.06 L44.69,441.54 L45.86,440.73 L47.03,439.53 L48.2,437.88 L49.37,435.8 L50.54,433.43 L51.71,430.92 L52.89,428.39 L54.06,425.92 L55.23,423.52 L56.4,421.14 L57.57,418.79 L58.74,416.51 L59.91,414.39 L61.08,412.56 L62.25,411.13 L63.42,410.22 L64.59,409.91 L65.76,410.21 L66.93,411.09 L68.1,412.47 L69.27,414.25 L70.44,416.37 L71.61,418.82 L72.78,421.6 L73.95,424.69 L75.12,428.06 L76.29,431.61 L77.46,435.28 L78.63,438.99 L79.8,442.63 L80.97,446.1 L82.14,449.3 L83.31,452.18 L84.48,454.76 L85.65,457.1 L86.82,459.25 L88,461.21 L89.17,462.98 L90.34,464.55 L91.51,465.9 L92.68,467.04 L93.85,468 L95.02,468.82 L96.19,469.54 L97.36,470.19 L98.53,470.78 L99.7,471.31 L100.87,471.77 L102.04,472.14 L103.21,472.43 L104.38,472.62 L105.55,472.72 L106.72,472.72 L107.89,472.64 L109.06,472.49 L110.23,472.28 L111.4,472.05 L112.57,471.8 L113.74,471.55 L114.91,471.33 L116.08,471.15 L117.25,471.01 L118.42,470.93 L119.59,470.89 L120.76,470.87 L121.93,470.88 L123.11,470.89 L124.28,470.92 L125.45,470.96 L126.62,471.01 L127.79,471.08 L128.96,471.17 L130.13,471.27 L131.3,471.4 L132.47,471.53 L132.47,487.92 L131.3,487.86 L130.13,487.8 L128.96,487.75 L127.79,487.7 L126.62,487.64 L125.45,487.6 L124.28,487.55 L123.11,487.51 L121.93,487.47 L120.76,487.44 L119.59,487.41 L118.42,487.39 L117.25,487.37 L116.08,487.36 L114.91,487.35 L113.74,487.35 L112.57,487.35 L111.4,487.35 L110.23,487.35 L109.06,487.35 L107.89,487.35 L106.72,487.35 L105.55,487.35 L104.38,487.35 L103.21,487.35 L102.04,487.35 L100.87,487.34 L99.7,487.33 L98.53,487.28 L97.36,487.18 L96.19,486.99 L95.02,486.7 L93.85,486.3 L92.68,485.81 L91.51,485.24 L90.34,484.59 L89.17,483.85 L88,483 L86.82,482.03 L85.65,480.93 L84.48,479.71 L83.31,478.39 L82.14,477 L80.97,475.55 L79.8,474.03 L78.63,472.44 L77.46,470.77 L76.29,469.06 L75.12,467.35 L73.95,465.66 L72.78,464.04 L71.61,462.5 L70.44,461.05 L69.27,459.66 L68.1,458.33 L66.93,457.08 L65.76,455.92 L64.59,454.86 L63.42,453.9 L62.25,453.03 L61.08,452.24 L59.91,451.53 L58.74,450.87 L57.57,450.29 L56.4,449.77 L55.23,449.31 L54.06,448.91 L52.89,448.56 L51.71,448.24 L50.54,447.96 L49.37,447.72 L48.2,447.53 L47.03,447.4 L45.86,447.31 L44.69,447.26 L43.52,447.24 L42.35,447.24 L41.18,447.24 L40.01,447.24 L38.84,447.24 L37.67,447.24 L36.5,447.24 L35.33,447.24 L34.16,447.24 L32.99,447.24 L31.82,447.24 L30.65,447.24 L29.48,447.24 L28.31,447.24Z" fill="rgb(232,70,85)" fill-opacity="0.14"/>
<path d="M28.31,446.44 L29.48,446.37 L30.65,446.28 L31.82,446.18 L32.99,446.06 L34.16,445.92 L35.33,445.76 L36.5,445.59 L37.67,445.39 L38.84,445.18 L40.01,444.93 L41.18,444.65 L42.35,444.32 L43.52,443.95 L44.69,443.52 L45.86,442.99 L47.03,442.36 L48.2,441.61 L49.37,440.77 L50.54,439.88 L51.71,438.98 L52.89,438.08 L54.06,437.2 L55.23,436.37 L56.4,435.62 L57.57,435.01 L58.74,434.61 L59.91,434.45 L61.08,434.54 L62.25,434.84 L63.42,435.35 L64.59,436.06 L65.76,437.03 L66.93,438.32 L68.1,439.98 L69.27,441.98 L70.44,444.26 L71.61,446.72 L72.78,449.28 L73.95,451.92 L75.12,454.62 L76.29,457.37 L77.46,460.12 L78.63,462.81 L79.8,465.37 L80.97,467.77 L82.14,470.01 L83.31,472.1 L84.48,474.02 L85.65,475.74 L86.82,477.24 L88,478.51 L89.17,479.56 L90.34,480.45 L91.51,481.22 L92.68,481.9 L93.85,482.52 L95.02,483.07 L96.19,483.56 L97.36,483.99 L98.53,484.35 L99.7,484.66 L100.87,484.91 L102.04,485.11 L103.21,485.28 L104.38,485.43 L105.55,485.56 L106.72,485.68 L107.89,485.79 L109.06,485.88 L110.23,485.98 L111.4,486.06 L112.57,486.15 L113.74,486.24 L114.91,486.34 L116.08,486.44 L117.25,486.55 L118.42,486.67 L119.59,486.8 L120.76,486.93 L121.93,487.07 L123.11,487.21 L124.28,487.36 L125.45,487.51 L126.62,487.67 L127.79,487.82 L128.96,487.98 L130.13,488.15 L131.3,488.31 L132.47,488.48" fill="none" stroke="#45a266" stroke-width="0.6"/>
<path d="M28.31,446.44 L29.48,446.44 L30.65,446.44 L31.82,446.44 L32.99,446.44 L34.16,446.44 L35.33,446.42 L36.5,446.38 L37.67,446.3 L38.84,446.15 L40.01,445.92 L41.18,445.62 L42.35,445.24 L43.52,444.78 L44.69,444.24 L45.86,443.57 L47.03,442.75 L48.2,441.77 L49.37,440.65 L50.54,439.44 L51.71,438.2 L52.89,436.95 L54.06,435.72 L55.23,434.5 L56.4,433.34 L57.57,432.3 L58.74,431.46 L59.91,430.86 L61.08,430.51 L62.25,430.38 L63.42,430.39 L64.59,430.51 L65.76,430.77 L66.93,431.24 L68.1,432.01 L69.27,433.17 L70.44,434.75 L71.61,436.68 L72.78,438.9 L73.95,441.32 L75.12,443.91 L76.29,446.69 L77.46,449.66 L78.63,452.81 L79.8,456.05 L80.97,459.21 L82.14,462.17 L83.31,464.84 L84.48,467.22 L85.65,469.38 L86.82,471.35 L88,473.15 L89.17,474.78 L90.34,476.2 L91.51,477.42 L92.68,478.42 L93.85,479.24 L95.02,479.92 L96.19,480.5 L97.36,481 L98.53,481.43 L99.7,481.79 L100.87,482.06 L102.04,482.25 L103.21,482.35 L104.38,482.37 L105.55,482.32 L106.72,482.22 L107.89,482.07 L109.06,481.9 L110.23,481.7 L111.4,481.5 L112.57,481.29 L113.74,481.09 L114.91,480.91 L116.08,480.75 L117.25,480.61 L118.42,480.51 L119.59,480.42 L120.76,480.36 L121.93,480.3 L123.11,480.24 L124.28,480.2 L125.45,480.15 L126.62,480.11 L127.79,480.08 L128.96,480.05 L130.13,480.03 L131.3,480.02 L132.47,480" fill="none" stroke="#dc5a66" stroke-width="0.6"/>
<rect x="23.5" y="404.5" width="114" height="92" fill="none" stroke="#5a5a5a" stroke-width="1"/>
<line x1="20.9" y1="425.2" x2="23.1" y2="425.2" stroke="#5a5a5a" stroke-width="0.8"/>
<text x="19.1" y="427.7" font-size="6.25" fill="#1e1e1e" text-anchor="end" textLength="3.82" lengthAdjust="spacingAndGlyphs">2</text>
<line x1="20.9" y1="447.8" x2="23.1" y2="447.8" stroke="#5a5a5a" stroke-width="0.8"/>
<text x="19.1" y="450.3" font-size="6.25" fill="#1e1e1e" text-anchor="end" textLength="3.82" lengthAdjust="spacingAndGlyphs">0</text>
<line x1="20.9" y1="470.4" x2="23.1" y2="470.4" stroke="#5a5a5a" stroke-width="0.8"/>
<text x="19.1" y="472.9" font-size="6.25" fill="#1e1e1e" text-anchor="end" textLength="8.84" lengthAdjust="spacingAndGlyphs">−2</text>
<line x1="20.9" y1="493" x2="23.1" y2="493" stroke="#5a5a5a" stroke-width="0.8"/>
<text x="19.1" y="495.5" font-size="6.25" fill="#1e1e1e" text-anchor="end" textLength="8.84" lengthAdjust="spacingAndGlyphs">−4</text>
<line x1="45.67" y1="496.8" x2="45.67" y2="499" stroke="#5a5a5a" stroke-width="0.8"/>
<text x="45.67" y="506.1" font-size="6.25" fill="#1e1e1e" text-anchor="middle" textLength="9.54" lengthAdjust="spacingAndGlyphs">0.0</text>
<line x1="80.39" y1="496.8" x2="80.39" y2="499" stroke="#5a5a5a" stroke-width="0.8"/>
<text x="80.39" y="506.1" font-size="6.25" fill="#1e1e1e" text-anchor="middle" textLength="9.54" lengthAdjust="spacingAndGlyphs">0.2</text>
<line x1="115.11" y1="496.8" x2="115.11" y2="499" stroke="#5a5a5a" stroke-width="0.8"/>
<text x="115.11" y="506.1" font-size="6.25" fill="#1e1e1e" text-anchor="middle" textLength="9.54" lengthAdjust="spacingAndGlyphs">0.4</text>
<text x="123" y="506.4" font-size="7.3" fill="#1e1e1e" textLength="17.3" lengthAdjust="spacingAndGlyphs">(sec)</text>
<text x="84.1" y="440.4" font-size="10.8" fill="#e0202a" text-anchor="start" >CP</text>
<text x="41.4" y="467.3" font-size="10.8" fill="#22a050" text-anchor="start" >HCs</text>
<text x="29.3" y="491.4" font-size="10.8" fill="#231f20" text-anchor="start" >Non-Face</text>
<path d="M158.31,440.38 L159.48,440.54 L160.65,440.68 L161.82,440.8 L162.99,440.9 L164.16,440.98 L165.33,441.02 L166.5,441.03 L167.67,441.02 L168.84,440.98 L170.01,440.91 L171.18,440.83 L172.35,440.72 L173.52,440.6 L174.69,440.45 L175.86,440.27 L177.03,440.04 L178.2,439.76 L179.37,439.43 L180.54,439.08 L181.71,438.73 L182.89,438.4 L184.06,438.13 L185.23,437.95 L186.4,437.88 L187.57,437.91 L188.74,438.07 L189.91,438.33 L191.08,438.7 L192.25,439.19 L193.42,439.83 L194.59,440.64 L195.76,441.6 L196.93,442.7 L198.1,443.93 L199.27,445.26 L200.44,446.71 L201.61,448.29 L202.78,450.02 L203.95,451.91 L205.12,453.93 L206.29,456.02 L207.46,458.13 L208.63,460.2 L209.8,462.19 L210.97,464.09 L212.14,465.9 L213.31,467.65 L214.48,469.32 L215.65,470.92 L216.82,472.42 L218,473.78 L219.17,475 L220.34,476.07 L221.51,477.01 L222.68,477.84 L223.85,478.6 L225.02,479.3 L226.19,479.95 L227.36,480.56 L228.53,481.13 L229.7,481.65 L230.87,482.13 L232.04,482.56 L233.21,482.95 L234.38,483.29 L235.55,483.59 L236.72,483.87 L237.89,484.11 L239.06,484.34 L240.23,484.55 L241.4,484.75 L242.57,484.93 L243.74,485.09 L244.91,485.24 L246.08,485.38 L247.25,485.5 L248.42,485.61 L249.59,485.71 L250.76,485.81 L251.93,485.9 L253.11,485.99 L254.28,486.07 L255.45,486.15 L256.62,486.22 L257.79,486.29 L258.96,486.35 L260.13,486.41 L261.3,486.46 L262.47,486.5 L262.47,492.98 L261.3,492.99 L260.13,493.01 L258.96,493.01 L257.79,493.01 L256.62,492.99 L255.45,492.98 L254.28,492.95 L253.11,492.92 L251.93,492.88 L250.76,492.84 L249.59,492.79 L248.42,492.74 L247.25,492.67 L246.08,492.59 L244.91,492.49 L243.74,492.38 L242.57,492.25 L241.4,492.1 L240.23,491.94 L239.06,491.76 L237.89,491.56 L236.72,491.33 L235.55,491.08 L234.38,490.8 L233.21,490.47 L232.04,490.09 L230.87,489.67 L229.7,489.2 L228.53,488.68 L227.36,488.12 L226.19,487.51 L225.02,486.86 L223.85,486.16 L222.68,485.4 L221.51,484.57 L220.34,483.63 L219.17,482.56 L218,481.34 L216.82,479.98 L215.65,478.48 L214.48,476.88 L213.31,475.2 L212.14,473.46 L210.97,471.64 L209.8,469.71 L208.63,467.68 L207.46,465.54 L206.29,463.34 L205.12,461.13 L203.95,458.98 L202.78,456.94 L201.61,455.04 L200.44,453.28 L199.27,451.65 L198.1,450.13 L196.93,448.72 L195.76,447.42 L194.59,446.27 L193.42,445.29 L192.25,444.46 L191.08,443.77 L189.91,443.19 L188.74,442.71 L187.57,442.34 L186.4,442.07 L185.23,441.92 L184.06,441.88 L182.89,441.93 L181.71,442.05 L180.54,442.22 L179.37,442.41 L178.2,442.59 L177.03,442.76 L175.86,442.9 L174.69,443.02 L173.52,443.11 L172.35,443.18 L171.18,443.25 L170.01,443.29 L168.84,443.32 L167.67,443.33 L166.5,443.31 L165.33,443.27 L164.16,443.2 L162.99,443.11 L161.82,442.99 L160.65,442.86 L159.48,442.7 L158.31,442.54Z" fill="rgb(48,168,115)" fill-opacity="0.13"/>
<path d="M158.31,440.6 L159.48,440.73 L160.65,440.85 L161.82,440.95 L162.99,441.02 L164.16,441.07 L165.33,441.1 L166.5,441.1 L167.67,441.08 L168.84,441.02 L170.01,440.93 L171.18,440.81 L172.35,440.63 L173.52,440.38 L174.69,440.01 L175.86,439.42 L177.03,438.52 L178.2,437.26 L179.37,435.66 L180.54,433.79 L181.71,431.77 L182.89,429.69 L184.06,427.58 L185.23,425.43 L186.4,423.22 L187.57,420.93 L188.74,418.62 L189.91,416.38 L191.08,414.3 L192.25,412.5 L193.42,411.11 L194.59,410.2 L195.76,409.84 L196.93,410.06 L198.1,410.82 L199.27,412.11 L200.44,413.95 L201.61,416.4 L202.78,419.5 L203.95,423.16 L205.12,427.15 L206.29,431.19 L207.46,435.11 L208.63,438.84 L209.8,442.35 L210.97,445.61 L212.14,448.58 L213.31,451.25 L214.48,453.64 L215.65,455.81 L216.82,457.77 L218,459.53 L219.17,461.05 L220.34,462.27 L221.51,463.18 L222.68,463.81 L223.85,464.23 L225.02,464.5 L226.19,464.7 L227.36,464.86 L228.53,464.99 L229.7,465.11 L230.87,465.2 L232.04,465.28 L233.21,465.34 L234.38,465.38 L235.55,465.4 L236.72,465.41 L237.89,465.39 L239.06,465.36 L240.23,465.3 L241.4,465.23 L242.57,465.15 L243.74,465.05 L244.91,464.95 L246.08,464.83 L247.25,464.7 L248.42,464.57 L249.59,464.43 L250.76,464.27 L251.93,464.09 L253.11,463.9 L254.28,463.67 L255.45,463.42 L256.62,463.15 L257.79,462.86 L258.96,462.55 L260.13,462.23 L261.3,461.89 L262.47,461.55 L262.47,484.99 L261.3,484.99 L260.13,484.99 L258.96,484.99 L257.79,484.98 L256.62,484.98 L255.45,484.98 L254.28,484.98 L253.11,484.98 L251.93,484.97 L250.76,484.97 L249.59,484.97 L248.42,484.96 L247.25,484.96 L246.08,484.95 L244.91,484.94 L243.74,484.94 L242.57,484.93 L241.4,484.92 L240.23,484.91 L239.06,484.9 L237.89,484.88 L236.72,484.84 L235.55,484.77 L234.38,484.66 L233.21,484.5 L232.04,484.29 L230.87,484.04 L229.7,483.75 L228.53,483.4 L227.36,483 L226.19,482.52 L225.02,481.95 L223.85,481.29 L222.68,480.53 L221.51,479.7 L220.34,478.78 L219.17,477.78 L218,476.68 L216.82,475.46 L215.65,474.12 L214.48,472.67 L213.31,471.12 L212.14,469.48 L210.97,467.74 L209.8,465.89 L208.63,463.92 L207.46,461.84 L206.29,459.7 L205.12,457.59 L203.95,455.59 L202.78,453.76 L201.61,452.11 L200.44,450.62 L199.27,449.28 L198.1,448.06 L196.93,446.99 L195.76,446.07 L194.59,445.33 L193.42,444.78 L192.25,444.38 L191.08,444.1 L189.91,443.9 L188.74,443.74 L187.57,443.6 L186.4,443.48 L185.23,443.38 L184.06,443.28 L182.89,443.18 L181.71,443.08 L180.54,443 L179.37,442.92 L178.2,442.86 L177.03,442.83 L175.86,442.82 L174.69,442.84 L173.52,442.89 L172.35,442.96 L171.18,443.04 L170.01,443.12 L168.84,443.19 L167.67,443.24 L166.5,443.25 L165.33,443.24 L164.16,443.21 L162.99,443.15 L161.82,443.08 L160.65,442.98 L159.48,442.88 L158.31,442.76Z" fill="rgb(232,70,85)" fill-opacity="0.14"/>
<path d="M158.31,441.46 L159.48,441.62 L160.65,441.77 L161.82,441.9 L162.99,442.01 L164.16,442.09 L165.33,442.14 L166.5,442.17 L167.67,442.17 L168.84,442.15 L170.01,442.1 L171.18,442.04 L172.35,441.95 L173.52,441.85 L174.69,441.73 L175.86,441.59 L177.03,441.4 L178.2,441.18 L179.37,440.92 L180.54,440.65 L181.71,440.39 L182.89,440.16 L184.06,440.01 L185.23,439.94 L186.4,439.97 L187.57,440.13 L188.74,440.39 L189.91,440.76 L191.08,441.23 L192.25,441.83 L193.42,442.56 L194.59,443.45 L195.76,444.51 L196.93,445.71 L198.1,447.03 L199.27,448.46 L200.44,450 L201.61,451.66 L202.78,453.48 L203.95,455.45 L205.12,457.53 L206.29,459.68 L207.46,461.84 L208.63,463.94 L209.8,465.95 L210.97,467.86 L212.14,469.68 L213.31,471.43 L214.48,473.1 L215.65,474.7 L216.82,476.2 L218,477.56 L219.17,478.78 L220.34,479.85 L221.51,480.79 L222.68,481.62 L223.85,482.38 L225.02,483.08 L226.19,483.73 L227.36,484.34 L228.53,484.91 L229.7,485.42 L230.87,485.9 L232.04,486.33 L233.21,486.71 L234.38,487.04 L235.55,487.34 L236.72,487.6 L237.89,487.83 L239.06,488.05 L240.23,488.24 L241.4,488.42 L242.57,488.59 L243.74,488.74 L244.91,488.87 L246.08,488.98 L247.25,489.09 L248.42,489.17 L249.59,489.25 L250.76,489.32 L251.93,489.39 L253.11,489.45 L254.28,489.51 L255.45,489.56 L256.62,489.61 L257.79,489.65 L258.96,489.68 L260.13,489.71 L261.3,489.73 L262.47,489.74" fill="none" stroke="#45a266" stroke-width="0.6"/>
<path d="M158.31,441.46 L159.48,441.74 L160.65,441.99 L161.82,442.21 L162.99,442.39 L164.16,442.52 L165.33,442.62 L166.5,442.67 L167.67,442.69 L168.84,442.65 L170.01,442.56 L171.18,442.41 L172.35,442.21 L173.52,441.94 L174.69,441.61 L175.86,441.2 L177.03,440.67 L178.2,440.02 L179.37,439.26 L180.54,438.43 L181.71,437.55 L182.89,436.64 L184.06,435.69 L185.23,434.71 L186.4,433.71 L187.57,432.71 L188.74,431.77 L189.91,430.96 L191.08,430.33 L192.25,429.92 L193.42,429.73 L194.59,429.77 L195.76,430.01 L196.93,430.46 L198.1,431.18 L199.27,432.24 L200.44,433.7 L201.61,435.55 L202.78,437.7 L203.95,440.06 L205.12,442.52 L206.29,445.06 L207.46,447.65 L208.63,450.3 L209.8,452.92 L210.97,455.45 L212.14,457.8 L213.31,459.93 L214.48,461.84 L215.65,463.58 L216.82,465.18 L218,466.64 L219.17,467.97 L220.34,469.15 L221.51,470.18 L222.68,471.04 L223.85,471.78 L225.02,472.41 L226.19,472.96 L227.36,473.45 L228.53,473.87 L229.7,474.23 L230.87,474.51 L232.04,474.71 L233.21,474.83 L234.38,474.88 L235.55,474.89 L236.72,474.87 L237.89,474.84 L239.06,474.79 L240.23,474.74 L241.4,474.67 L242.57,474.6 L243.74,474.53 L244.91,474.45 L246.08,474.37 L247.25,474.28 L248.42,474.19 L249.59,474.09 L250.76,473.98 L251.93,473.86 L253.11,473.73 L254.28,473.59 L255.45,473.44 L256.62,473.27 L257.79,473.1 L258.96,472.92 L260.13,472.74 L261.3,472.55 L262.47,472.35" fill="none" stroke="#dc5a66" stroke-width="0.6"/>
<rect x="153.5" y="404.5" width="114" height="92" fill="none" stroke="#5a5a5a" stroke-width="1"/>
<line x1="150.9" y1="421.7" x2="153.1" y2="421.7" stroke="#5a5a5a" stroke-width="0.8"/>
<text x="149.1" y="424.2" font-size="6.25" fill="#1e1e1e" text-anchor="end" textLength="3.82" lengthAdjust="spacingAndGlyphs">2</text>
<line x1="150.9" y1="443.3" x2="153.1" y2="443.3" stroke="#5a5a5a" stroke-width="0.8"/>
<text x="149.1" y="445.8" font-size="6.25" fill="#1e1e1e" text-anchor="end" textLength="3.82" lengthAdjust="spacingAndGlyphs">0</text>
<line x1="150.9" y1="464.9" x2="153.1" y2="464.9" stroke="#5a5a5a" stroke-width="0.8"/>
<text x="149.1" y="467.4" font-size="6.25" fill="#1e1e1e" text-anchor="end" textLength="8.84" lengthAdjust="spacingAndGlyphs">−2</text>
<line x1="150.9" y1="486.5" x2="153.1" y2="486.5" stroke="#5a5a5a" stroke-width="0.8"/>
<text x="149.1" y="489" font-size="6.25" fill="#1e1e1e" text-anchor="end" textLength="8.84" lengthAdjust="spacingAndGlyphs">−4</text>
<line x1="175.67" y1="496.8" x2="175.67" y2="499" stroke="#5a5a5a" stroke-width="0.8"/>
<text x="175.67" y="506.1" font-size="6.25" fill="#1e1e1e" text-anchor="middle" textLength="9.54" lengthAdjust="spacingAndGlyphs">0.0</text>
<line x1="210.39" y1="496.8" x2="210.39" y2="499" stroke="#5a5a5a" stroke-width="0.8"/>
<text x="210.39" y="506.1" font-size="6.25" fill="#1e1e1e" text-anchor="middle" textLength="9.54" lengthAdjust="spacingAndGlyphs">0.2</text>
<line x1="245.11" y1="496.8" x2="245.11" y2="499" stroke="#5a5a5a" stroke-width="0.8"/>
<text x="245.11" y="506.1" font-size="6.25" fill="#1e1e1e" text-anchor="middle" textLength="9.54" lengthAdjust="spacingAndGlyphs">0.4</text>
<text x="255.6" y="506.4" font-size="7.3" fill="#1e1e1e" textLength="17.3" lengthAdjust="spacingAndGlyphs">(sec)</text>
<text x="224.6" y="445.9" font-size="10.8" fill="#e0202a" text-anchor="start" >CP</text>
<text x="171.3" y="465" font-size="10.8" fill="#22a050" text-anchor="start" >HCs</text>
<text x="159.3" y="491.4" font-size="10.8" fill="#231f20" text-anchor="start" >Face</text>
<path d="M324.61,453.61 L325.78,453.61 L326.95,453.6 L328.12,453.6 L329.29,453.59 L330.46,453.58 L331.63,453.57 L332.8,453.55 L333.97,453.52 L335.14,453.47 L336.31,453.41 L337.48,453.34 L338.65,453.24 L339.82,453.11 L340.99,452.93 L342.16,452.68 L343.33,452.32 L344.5,451.83 L345.67,451.24 L346.84,450.56 L348.01,449.85 L349.19,449.16 L350.36,448.53 L351.53,447.98 L352.7,447.51 L353.87,447.12 L355.04,446.82 L356.21,446.64 L357.38,446.6 L358.55,446.72 L359.72,446.99 L360.89,447.42 L362.06,447.99 L363.23,448.72 L364.4,449.63 L365.57,450.75 L366.74,452.08 L367.91,453.58 L369.08,455.2 L370.25,456.89 L371.42,458.62 L372.59,460.37 L373.76,462.14 L374.93,463.97 L376.1,465.84 L377.27,467.73 L378.44,469.59 L379.61,471.37 L380.78,473 L381.95,474.47 L383.12,475.75 L384.3,476.89 L385.47,477.91 L386.64,478.84 L387.81,479.67 L388.98,480.41 L390.15,481.04 L391.32,481.55 L392.49,481.94 L393.66,482.23 L394.83,482.44 L396,482.61 L397.17,482.75 L398.34,482.87 L399.51,482.98 L400.68,483.08 L401.85,483.17 L403.02,483.25 L404.19,483.33 L405.36,483.39 L406.53,483.45 L407.7,483.51 L408.87,483.56 L410.04,483.61 L411.21,483.65 L412.38,483.69 L413.55,483.73 L414.72,483.77 L415.89,483.81 L417.06,483.85 L418.23,483.88 L419.41,483.91 L420.58,483.94 L421.75,483.97 L422.92,483.99 L424.09,484.01 L425.26,484.03 L426.43,484.04 L427.6,484.05 L428.77,484.06 L428.77,493.01 L427.6,493.01 L426.43,493 L425.26,492.98 L424.09,492.97 L422.92,492.95 L421.75,492.92 L420.58,492.9 L419.41,492.87 L418.23,492.84 L417.06,492.8 L415.89,492.77 L414.72,492.73 L413.55,492.69 L412.38,492.65 L411.21,492.61 L410.04,492.56 L408.87,492.51 L407.7,492.46 L406.53,492.41 L405.36,492.35 L404.19,492.28 L403.02,492.21 L401.85,492.13 L400.68,492.04 L399.51,491.94 L398.34,491.83 L397.17,491.71 L396,491.57 L394.83,491.4 L393.66,491.18 L392.49,490.9 L391.32,490.5 L390.15,490 L388.98,489.37 L387.81,488.63 L386.64,487.79 L385.47,486.86 L384.3,485.85 L383.12,484.71 L381.95,483.42 L380.78,481.96 L379.61,480.32 L378.44,478.54 L377.27,476.66 L376.1,474.74 L374.93,472.81 L373.76,470.89 L372.59,468.99 L371.42,467.08 L370.25,465.16 L369.08,463.26 L367.91,461.4 L366.74,459.66 L365.57,458.08 L364.4,456.69 L363.23,455.52 L362.06,454.53 L360.89,453.71 L359.72,453.04 L358.55,452.51 L357.38,452.13 L356.21,451.91 L355.04,451.8 L353.87,451.81 L352.7,451.9 L351.53,452.07 L350.36,452.34 L349.19,452.7 L348.01,453.13 L346.84,453.6 L345.67,454.08 L344.5,454.51 L343.33,454.86 L342.16,455.12 L340.99,455.3 L339.82,455.42 L338.65,455.5 L337.48,455.56 L336.31,455.6 L335.14,455.63 L333.97,455.64 L332.8,455.64 L331.63,455.64 L330.46,455.63 L329.29,455.62 L328.12,455.61 L326.95,455.61 L325.78,455.6 L324.61,455.6Z" fill="rgb(48,168,115)" fill-opacity="0.13"/>
<path d="M324.61,453.81 L325.78,453.75 L326.95,453.67 L328.12,453.56 L329.29,453.43 L330.46,453.26 L331.63,453.07 L332.8,452.82 L333.97,452.51 L335.14,452.12 L336.31,451.63 L337.48,451.02 L338.65,450.29 L339.82,449.39 L340.99,448.28 L342.16,446.86 L343.33,445.01 L344.5,442.72 L345.67,440.02 L346.84,437.03 L348.01,433.93 L349.19,430.83 L350.36,427.8 L351.53,424.85 L352.7,421.94 L353.87,419.08 L355.04,416.35 L356.21,413.89 L357.38,411.85 L358.55,410.39 L359.72,409.58 L360.89,409.47 L362.06,410.01 L363.23,411.11 L364.4,412.65 L365.57,414.59 L366.74,416.89 L367.91,419.6 L369.08,422.7 L370.25,426.1 L371.42,429.63 L372.59,433.16 L373.76,436.6 L374.93,439.93 L376.1,443.13 L377.27,446.16 L378.44,449.01 L379.61,451.64 L380.78,454.06 L381.95,456.31 L383.12,458.42 L384.3,460.39 L385.47,462.21 L386.64,463.84 L387.81,465.25 L388.98,466.42 L390.15,467.35 L391.32,468.08 L392.49,468.67 L393.66,469.16 L394.83,469.59 L396,469.97 L397.17,470.3 L398.34,470.58 L399.51,470.81 L400.68,470.97 L401.85,471.07 L403.02,471.09 L404.19,471.03 L405.36,470.89 L406.53,470.68 L407.7,470.42 L408.87,470.12 L410.04,469.81 L411.21,469.52 L412.38,469.26 L413.55,469.05 L414.72,468.9 L415.89,468.82 L417.06,468.78 L418.23,468.77 L419.41,468.79 L420.58,468.83 L421.75,468.89 L422.92,468.97 L424.09,469.07 L425.26,469.2 L426.43,469.36 L427.6,469.54 L428.77,469.73 L428.77,486.64 L427.6,486.64 L426.43,486.64 L425.26,486.64 L424.09,486.64 L422.92,486.64 L421.75,486.64 L420.58,486.64 L419.41,486.64 L418.23,486.64 L417.06,486.64 L415.89,486.64 L414.72,486.64 L413.55,486.64 L412.38,486.64 L411.21,486.64 L410.04,486.64 L408.87,486.64 L407.7,486.64 L406.53,486.64 L405.36,486.63 L404.19,486.61 L403.02,486.55 L401.85,486.43 L400.68,486.22 L399.51,485.93 L398.34,485.54 L397.17,485.07 L396,484.55 L394.83,483.98 L393.66,483.35 L392.49,482.65 L391.32,481.87 L390.15,481 L388.98,480.03 L387.81,478.98 L386.64,477.83 L385.47,476.56 L384.3,475.15 L383.12,473.59 L381.95,471.9 L380.78,470.12 L379.61,468.29 L378.44,466.47 L377.27,464.68 L376.1,462.92 L374.93,461.19 L373.76,459.49 L372.59,457.86 L371.42,456.36 L370.25,455.04 L369.08,453.95 L367.91,453.08 L366.74,452.4 L365.57,451.86 L364.4,451.42 L363.23,451.06 L362.06,450.78 L360.89,450.59 L359.72,450.49 L358.55,450.48 L357.38,450.55 L356.21,450.68 L355.04,450.87 L353.87,451.1 L352.7,451.36 L351.53,451.66 L350.36,451.98 L349.19,452.35 L348.01,452.76 L346.84,453.19 L345.67,453.63 L344.5,454.03 L343.33,454.38 L342.16,454.65 L340.99,454.87 L339.82,455.03 L338.65,455.17 L337.48,455.27 L336.31,455.36 L335.14,455.42 L333.97,455.46 L332.8,455.48 L331.63,455.49 L330.46,455.48 L329.29,455.47 L328.12,455.44 L326.95,455.4 L325.78,455.36 L324.61,455.3Z" fill="rgb(232,70,85)" fill-opacity="0.14"/>
<path d="M324.61,454.61 L325.78,454.61 L326.95,454.61 L328.12,454.61 L329.29,454.61 L330.46,454.6 L331.63,454.6 L332.8,454.59 L333.97,454.58 L335.14,454.55 L336.31,454.51 L337.48,454.45 L338.65,454.37 L339.82,454.26 L340.99,454.12 L342.16,453.9 L343.33,453.59 L344.5,453.17 L345.67,452.66 L346.84,452.08 L348.01,451.49 L349.19,450.93 L350.36,450.43 L351.53,450.02 L352.7,449.7 L353.87,449.46 L355.04,449.31 L356.21,449.27 L357.38,449.37 L358.55,449.61 L359.72,450.02 L360.89,450.57 L362.06,451.26 L363.23,452.12 L364.4,453.16 L365.57,454.41 L366.74,455.87 L367.91,457.49 L369.08,459.23 L370.25,461.03 L371.42,462.85 L372.59,464.68 L373.76,466.52 L374.93,468.39 L376.1,470.29 L377.27,472.2 L378.44,474.07 L379.61,475.84 L380.78,477.48 L381.95,478.94 L383.12,480.23 L384.3,481.37 L385.47,482.39 L386.64,483.31 L387.81,484.15 L388.98,484.89 L390.15,485.52 L391.32,486.03 L392.49,486.42 L393.66,486.71 L394.83,486.92 L396,487.09 L397.17,487.23 L398.34,487.35 L399.51,487.46 L400.68,487.56 L401.85,487.65 L403.02,487.73 L404.19,487.81 L405.36,487.87 L406.53,487.93 L407.7,487.99 L408.87,488.04 L410.04,488.08 L411.21,488.13 L412.38,488.17 L413.55,488.21 L414.72,488.25 L415.89,488.29 L417.06,488.32 L418.23,488.36 L419.41,488.39 L420.58,488.42 L421.75,488.45 L422.92,488.47 L424.09,488.49 L425.26,488.51 L426.43,488.52 L427.6,488.53 L428.77,488.54" fill="none" stroke="#45a266" stroke-width="0.6"/>
<path d="M324.61,454.61 L325.78,454.66 L326.95,454.71 L328.12,454.75 L329.29,454.77 L330.46,454.78 L331.63,454.77 L332.8,454.72 L333.97,454.63 L335.14,454.47 L336.31,454.24 L337.48,453.94 L338.65,453.56 L339.82,453.09 L340.99,452.46 L342.16,451.61 L343.33,450.46 L344.5,448.99 L345.67,447.25 L346.84,445.36 L348.01,443.42 L349.19,441.48 L350.36,439.56 L351.53,437.65 L352.7,435.78 L353.87,434.04 L355.04,432.52 L356.21,431.31 L357.38,430.49 L358.55,430.08 L359.72,430.05 L360.89,430.35 L362.06,430.97 L363.23,431.91 L364.4,433.24 L365.57,434.97 L366.74,437.06 L367.91,439.43 L369.08,441.97 L370.25,444.6 L371.42,447.28 L372.59,450 L373.76,452.78 L374.93,455.57 L376.1,458.32 L377.27,460.93 L378.44,463.35 L379.61,465.53 L380.78,467.5 L381.95,469.28 L383.12,470.89 L384.3,472.35 L385.47,473.65 L386.64,474.8 L387.81,475.84 L388.98,476.77 L390.15,477.61 L391.32,478.36 L392.49,478.99 L393.66,479.48 L394.83,479.81 L396,480 L397.17,480.09 L398.34,480.1 L399.51,480.07 L400.68,480.02 L401.85,479.96 L403.02,479.89 L404.19,479.81 L405.36,479.73 L406.53,479.64 L407.7,479.55 L408.87,479.47 L410.04,479.39 L411.21,479.31 L412.38,479.23 L413.55,479.17 L414.72,479.1 L415.89,479.04 L417.06,478.97 L418.23,478.91 L419.41,478.85 L420.58,478.79 L421.75,478.73 L422.92,478.67 L424.09,478.62 L425.26,478.56 L426.43,478.5 L427.6,478.44 L428.77,478.39" fill="none" stroke="#dc5a66" stroke-width="0.6"/>
<rect x="319.5" y="404.5" width="115" height="92" fill="none" stroke="#5a5a5a" stroke-width="1"/>
<line x1="317.2" y1="416" x2="319.4" y2="416" stroke="#5a5a5a" stroke-width="0.8"/>
<text x="315.4" y="418.5" font-size="6.25" fill="#1e1e1e" text-anchor="end" textLength="3.82" lengthAdjust="spacingAndGlyphs">4</text>
<line x1="317.2" y1="435.9" x2="319.4" y2="435.9" stroke="#5a5a5a" stroke-width="0.8"/>
<text x="315.4" y="438.4" font-size="6.25" fill="#1e1e1e" text-anchor="end" textLength="3.82" lengthAdjust="spacingAndGlyphs">2</text>
<line x1="317.2" y1="455.8" x2="319.4" y2="455.8" stroke="#5a5a5a" stroke-width="0.8"/>
<text x="315.4" y="458.3" font-size="6.25" fill="#1e1e1e" text-anchor="end" textLength="3.82" lengthAdjust="spacingAndGlyphs">0</text>
<line x1="317.2" y1="475.7" x2="319.4" y2="475.7" stroke="#5a5a5a" stroke-width="0.8"/>
<text x="315.4" y="478.2" font-size="6.25" fill="#1e1e1e" text-anchor="end" textLength="8.84" lengthAdjust="spacingAndGlyphs">−2</text>
<line x1="317.2" y1="495.6" x2="319.4" y2="495.6" stroke="#5a5a5a" stroke-width="0.8"/>
<text x="315.4" y="498.1" font-size="6.25" fill="#1e1e1e" text-anchor="end" textLength="8.84" lengthAdjust="spacingAndGlyphs">−4</text>
<line x1="341.97" y1="496.8" x2="341.97" y2="499" stroke="#5a5a5a" stroke-width="0.8"/>
<text x="341.97" y="506.1" font-size="6.25" fill="#1e1e1e" text-anchor="middle" textLength="9.54" lengthAdjust="spacingAndGlyphs">0.0</text>
<line x1="376.69" y1="496.8" x2="376.69" y2="499" stroke="#5a5a5a" stroke-width="0.8"/>
<text x="376.69" y="506.1" font-size="6.25" fill="#1e1e1e" text-anchor="middle" textLength="9.54" lengthAdjust="spacingAndGlyphs">0.2</text>
<line x1="411.41" y1="496.8" x2="411.41" y2="499" stroke="#5a5a5a" stroke-width="0.8"/>
<text x="411.41" y="506.1" font-size="6.25" fill="#1e1e1e" text-anchor="middle" textLength="9.54" lengthAdjust="spacingAndGlyphs">0.4</text>
<text x="423" y="506.4" font-size="7.3" fill="#1e1e1e" textLength="17.3" lengthAdjust="spacingAndGlyphs">(sec)</text>
<text x="383.3" y="442.9" font-size="10.8" fill="#e0202a" text-anchor="start" >CP</text>
<text x="337.1" y="468.8" font-size="10.8" fill="#22a050" text-anchor="start" >HCs</text>
<text x="326.3" y="491.4" font-size="10.8" fill="#231f20" text-anchor="start" >Non-Face</text>
<path d="M454.81,443.17 L455.98,443.25 L457.15,443.33 L458.32,443.41 L459.49,443.49 L460.66,443.56 L461.83,443.64 L463,443.71 L464.17,443.79 L465.34,443.87 L466.51,443.95 L467.68,444.03 L468.85,444.1 L470.02,444.14 L471.19,444.17 L472.36,444.17 L473.53,444.15 L474.7,444.12 L475.87,444.07 L477.04,444.01 L478.21,443.96 L479.39,443.93 L480.56,443.94 L481.73,444.06 L482.9,444.3 L484.07,444.68 L485.24,445.19 L486.41,445.81 L487.58,446.52 L488.75,447.32 L489.92,448.22 L491.09,449.24 L492.26,450.37 L493.43,451.61 L494.6,452.93 L495.77,454.31 L496.94,455.74 L498.11,457.21 L499.28,458.75 L500.45,460.35 L501.62,462.04 L502.79,463.77 L503.96,465.54 L505.13,467.29 L506.3,469 L507.47,470.64 L508.64,472.2 L509.81,473.69 L510.98,475.11 L512.15,476.49 L513.32,477.79 L514.5,479 L515.67,480.09 L516.84,481.05 L518.01,481.88 L519.18,482.6 L520.35,483.23 L521.52,483.8 L522.69,484.32 L523.86,484.8 L525.03,485.24 L526.2,485.61 L527.37,485.93 L528.54,486.17 L529.71,486.34 L530.88,486.45 L532.05,486.5 L533.22,486.53 L534.39,486.54 L535.56,486.54 L536.73,486.54 L537.9,486.54 L539.07,486.54 L540.24,486.54 L541.41,486.54 L542.58,486.54 L543.75,486.54 L544.92,486.54 L546.09,486.54 L547.26,486.54 L548.43,486.54 L549.61,486.54 L550.78,486.54 L551.95,486.54 L553.12,486.54 L554.29,486.54 L555.46,486.54 L556.63,486.54 L557.8,486.54 L558.97,486.54 L558.97,492.78 L557.8,492.78 L556.63,492.78 L555.46,492.78 L554.29,492.78 L553.12,492.78 L551.95,492.78 L550.78,492.78 L549.61,492.78 L548.43,492.78 L547.26,492.78 L546.09,492.78 L544.92,492.78 L543.75,492.78 L542.58,492.78 L541.41,492.78 L540.24,492.78 L539.07,492.78 L537.9,492.78 L536.73,492.78 L535.56,492.78 L534.39,492.78 L533.22,492.77 L532.05,492.74 L530.88,492.69 L529.71,492.58 L528.54,492.41 L527.37,492.17 L526.2,491.85 L525.03,491.48 L523.86,491.04 L522.69,490.56 L521.52,490.04 L520.35,489.47 L519.18,488.84 L518.01,488.12 L516.84,487.29 L515.67,486.33 L514.5,485.24 L513.32,484.03 L512.15,482.73 L510.98,481.35 L509.81,479.92 L508.64,478.43 L507.47,476.86 L506.3,475.2 L505.13,473.45 L503.96,471.63 L502.79,469.77 L501.62,467.92 L500.45,466.1 L499.28,464.34 L498.11,462.64 L496.94,460.99 L495.77,459.38 L494.6,457.82 L493.43,456.33 L492.26,454.92 L491.09,453.62 L489.92,452.44 L488.75,451.38 L487.58,450.42 L486.41,449.55 L485.24,448.76 L484.07,448.09 L482.9,447.54 L481.73,447.13 L480.56,446.86 L479.39,446.69 L478.21,446.58 L477.04,446.5 L475.87,446.44 L474.7,446.38 L473.53,446.33 L472.36,446.28 L471.19,446.22 L470.02,446.15 L468.85,446.05 L467.68,445.95 L466.51,445.83 L465.34,445.71 L464.17,445.6 L463,445.49 L461.83,445.39 L460.66,445.29 L459.49,445.19 L458.32,445.1 L457.15,445.01 L455.98,444.92 L454.81,444.84Z" fill="rgb(48,168,115)" fill-opacity="0.13"/>
<path d="M454.81,445.46 L455.98,445.46 L457.15,445.46 L458.32,445.46 L459.49,445.46 L460.66,445.45 L461.83,445.43 L463,445.39 L464.17,445.28 L465.34,445.1 L466.51,444.82 L467.68,444.45 L468.85,443.97 L470.02,443.38 L471.19,442.64 L472.36,441.7 L473.53,440.49 L474.7,438.96 L475.87,437.13 L477.04,435.08 L478.21,432.87 L479.39,430.57 L480.56,428.2 L481.73,425.75 L482.9,423.18 L484.07,420.52 L485.24,417.88 L486.41,415.38 L487.58,413.2 L488.75,411.49 L489.92,410.35 L491.09,409.82 L492.26,409.86 L493.43,410.37 L494.6,411.27 L495.77,412.53 L496.94,414.18 L498.11,416.31 L499.28,419.03 L500.45,422.29 L501.62,425.89 L502.79,429.53 L503.96,432.96 L505.13,436.08 L506.3,438.92 L507.47,441.54 L508.64,443.99 L509.81,446.28 L510.98,448.44 L512.15,450.47 L513.32,452.42 L514.5,454.3 L515.67,456.14 L516.84,457.93 L518.01,459.63 L519.18,461.19 L520.35,462.55 L521.52,463.64 L522.69,464.44 L523.86,464.95 L525.03,465.24 L526.2,465.36 L527.37,465.41 L528.54,465.42 L529.71,465.43 L530.88,465.43 L532.05,465.43 L533.22,465.43 L534.39,465.43 L535.56,465.43 L536.73,465.43 L537.9,465.43 L539.07,465.43 L540.24,465.42 L541.41,465.4 L542.58,465.37 L543.75,465.32 L544.92,465.25 L546.09,465.15 L547.26,465.04 L548.43,464.91 L549.61,464.76 L550.78,464.61 L551.95,464.43 L553.12,464.23 L554.29,464.01 L555.46,463.76 L556.63,463.5 L557.8,463.22 L558.97,462.93 L558.97,486.02 L557.8,486.01 L556.63,486.01 L555.46,486 L554.29,485.98 L553.12,485.97 L551.95,485.95 L550.78,485.92 L549.61,485.89 L548.43,485.86 L547.26,485.82 L546.09,485.78 L544.92,485.73 L543.75,485.68 L542.58,485.62 L541.41,485.56 L540.24,485.5 L539.07,485.43 L537.9,485.35 L536.73,485.27 L535.56,485.17 L534.39,485.05 L533.22,484.89 L532.05,484.65 L530.88,484.31 L529.71,483.86 L528.54,483.31 L527.37,482.69 L526.2,482 L525.03,481.28 L523.86,480.52 L522.69,479.72 L521.52,478.86 L520.35,477.94 L519.18,476.95 L518.01,475.87 L516.84,474.69 L515.67,473.39 L514.5,471.94 L513.32,470.33 L512.15,468.58 L510.98,466.72 L509.81,464.81 L508.64,462.89 L507.47,460.98 L506.3,459.08 L505.13,457.19 L503.96,455.32 L502.79,453.5 L501.62,451.79 L500.45,450.24 L499.28,448.9 L498.11,447.76 L496.94,446.79 L495.77,445.97 L494.6,445.25 L493.43,444.65 L492.26,444.17 L491.09,443.82 L489.92,443.62 L488.75,443.53 L487.58,443.55 L486.41,443.63 L485.24,443.75 L484.07,443.91 L482.9,444.1 L481.73,444.32 L480.56,444.58 L479.39,444.89 L478.21,445.24 L477.04,445.63 L475.87,446.02 L474.7,446.37 L473.53,446.66 L472.36,446.87 L471.19,447.02 L470.02,447.12 L468.85,447.18 L467.68,447.23 L466.51,447.27 L465.34,447.3 L464.17,447.31 L463,447.31 L461.83,447.3 L460.66,447.28 L459.49,447.25 L458.32,447.2 L457.15,447.15 L455.98,447.09 L454.81,447.02Z" fill="rgb(232,70,85)" fill-opacity="0.14"/>
<path d="M454.81,444 L455.98,444.09 L457.15,444.17 L458.32,444.26 L459.49,444.34 L460.66,444.43 L461.83,444.51 L463,444.6 L464.17,444.69 L465.34,444.79 L466.51,444.89 L467.68,444.99 L468.85,445.08 L470.02,445.15 L471.19,445.2 L472.36,445.23 L473.53,445.24 L474.7,445.25 L475.87,445.25 L477.04,445.26 L478.21,445.27 L479.39,445.31 L480.56,445.4 L481.73,445.6 L482.9,445.92 L484.07,446.38 L485.24,446.98 L486.41,447.68 L487.58,448.47 L488.75,449.35 L489.92,450.33 L491.09,451.43 L492.26,452.64 L493.43,453.97 L494.6,455.37 L495.77,456.85 L496.94,458.36 L498.11,459.93 L499.28,461.55 L500.45,463.23 L501.62,464.98 L502.79,466.77 L503.96,468.58 L505.13,470.37 L506.3,472.1 L507.47,473.75 L508.64,475.31 L509.81,476.8 L510.98,478.23 L512.15,479.61 L513.32,480.91 L514.5,482.12 L515.67,483.21 L516.84,484.17 L518.01,485 L519.18,485.72 L520.35,486.35 L521.52,486.92 L522.69,487.44 L523.86,487.92 L525.03,488.36 L526.2,488.73 L527.37,489.05 L528.54,489.29 L529.71,489.46 L530.88,489.57 L532.05,489.62 L533.22,489.65 L534.39,489.66 L535.56,489.66 L536.73,489.66 L537.9,489.66 L539.07,489.66 L540.24,489.66 L541.41,489.66 L542.58,489.66 L543.75,489.66 L544.92,489.66 L546.09,489.66 L547.26,489.66 L548.43,489.66 L549.61,489.66 L550.78,489.66 L551.95,489.66 L553.12,489.66 L554.29,489.66 L555.46,489.66 L556.63,489.66 L557.8,489.66 L558.97,489.66" fill="none" stroke="#45a266" stroke-width="0.6"/>
<path d="M454.81,445.77 L455.98,445.93 L457.15,446.08 L458.32,446.2 L459.49,446.31 L460.66,446.38 L461.83,446.43 L463,446.45 L464.17,446.45 L465.34,446.42 L466.51,446.36 L467.68,446.27 L468.85,446.16 L470.02,446 L471.19,445.79 L472.36,445.47 L473.53,445.01 L474.7,444.37 L475.87,443.56 L477.04,442.59 L478.21,441.45 L479.39,440.13 L480.56,438.58 L481.73,436.8 L482.9,434.84 L484.07,432.86 L485.24,431.02 L486.41,429.51 L487.58,428.47 L488.75,427.92 L489.92,427.81 L491.09,428.05 L492.26,428.58 L493.43,429.4 L494.6,430.54 L495.77,432.06 L496.94,433.95 L498.11,436.16 L499.28,438.57 L500.45,441.09 L501.62,443.62 L502.79,446.08 L503.96,448.46 L505.13,450.77 L506.3,453.05 L507.47,455.29 L508.64,457.47 L509.81,459.57 L510.98,461.54 L512.15,463.35 L513.32,465.03 L514.5,466.58 L515.67,468.05 L516.84,469.47 L518.01,470.82 L519.18,472.09 L520.35,473.24 L521.52,474.25 L522.69,475.09 L523.86,475.73 L525.03,476.18 L526.2,476.44 L527.37,476.58 L528.54,476.63 L529.71,476.65 L530.88,476.66 L532.05,476.66 L533.22,476.66 L534.39,476.66 L535.56,476.66 L536.73,476.65 L537.9,476.64 L539.07,476.62 L540.24,476.57 L541.41,476.5 L542.58,476.4 L543.75,476.28 L544.92,476.14 L546.09,475.98 L547.26,475.83 L548.43,475.67 L549.61,475.51 L550.78,475.35 L551.95,475.19 L553.12,475.03 L554.29,474.87 L555.46,474.7 L556.63,474.52 L557.8,474.34 L558.97,474.16" fill="none" stroke="#dc5a66" stroke-width="0.6"/>
<rect x="449.5" y="404.5" width="115" height="92" fill="none" stroke="#5a5a5a" stroke-width="1"/>
<line x1="447.4" y1="425.7" x2="449.6" y2="425.7" stroke="#5a5a5a" stroke-width="0.8"/>
<text x="445.6" y="428.2" font-size="6.25" fill="#1e1e1e" text-anchor="end" textLength="3.82" lengthAdjust="spacingAndGlyphs">2</text>
<line x1="447.4" y1="446.5" x2="449.6" y2="446.5" stroke="#5a5a5a" stroke-width="0.8"/>
<text x="445.6" y="449" font-size="6.25" fill="#1e1e1e" text-anchor="end" textLength="3.82" lengthAdjust="spacingAndGlyphs">0</text>
<line x1="447.4" y1="467.3" x2="449.6" y2="467.3" stroke="#5a5a5a" stroke-width="0.8"/>
<text x="445.6" y="469.8" font-size="6.25" fill="#1e1e1e" text-anchor="end" textLength="8.84" lengthAdjust="spacingAndGlyphs">−2</text>
<line x1="447.4" y1="488.1" x2="449.6" y2="488.1" stroke="#5a5a5a" stroke-width="0.8"/>
<text x="445.6" y="490.6" font-size="6.25" fill="#1e1e1e" text-anchor="end" textLength="8.84" lengthAdjust="spacingAndGlyphs">−4</text>
<line x1="472.17" y1="496.8" x2="472.17" y2="499" stroke="#5a5a5a" stroke-width="0.8"/>
<text x="472.17" y="506.1" font-size="6.25" fill="#1e1e1e" text-anchor="middle" textLength="9.54" lengthAdjust="spacingAndGlyphs">0.0</text>
<line x1="506.89" y1="496.8" x2="506.89" y2="499" stroke="#5a5a5a" stroke-width="0.8"/>
<text x="506.89" y="506.1" font-size="6.25" fill="#1e1e1e" text-anchor="middle" textLength="9.54" lengthAdjust="spacingAndGlyphs">0.2</text>
<line x1="541.61" y1="496.8" x2="541.61" y2="499" stroke="#5a5a5a" stroke-width="0.8"/>
<text x="541.61" y="506.1" font-size="6.25" fill="#1e1e1e" text-anchor="middle" textLength="9.54" lengthAdjust="spacingAndGlyphs">0.4</text>
<text x="549.3" y="506.4" font-size="7.3" fill="#1e1e1e" textLength="17.3" lengthAdjust="spacingAndGlyphs">(sec)</text>
<text x="514.6" y="443.4" font-size="10.8" fill="#e0202a" text-anchor="start" >CP</text>
<text x="464.3" y="466" font-size="10.8" fill="#22a050" text-anchor="start" >HCs</text>
<text x="456.3" y="491.4" font-size="10.8" fill="#231f20" text-anchor="start" >Face</text>
<defs><filter id="sb" x="-5%" y="-5%" width="110%" height="110%"><feGaussianBlur stdDeviation="0.28"/></filter><pattern id="sp" patternUnits="userSpaceOnUse" width="9" height="11"><rect x="0" y="0" width="1" height="1" fill="#3170a8"/><rect x="1" y="0" width="1" height="1" fill="#3170a8"/><rect x="2" y="0" width="1" height="1" fill="#225890"/><rect x="3" y="0" width="1" height="1" fill="#a82848"/><rect x="4" y="0" width="1" height="1" fill="#3170a8"/><rect x="5" y="0" width="1" height="1" fill="#3170a8"/><rect x="6" y="0" width="1" height="1" fill="#ddd2dc"/><rect x="7" y="0" width="1" height="1" fill="#a82848"/><rect x="8" y="0" width="1" height="1" fill="#3170a8"/><rect x="0" y="1" width="1" height="1" fill="#225890"/><rect x="1" y="1" width="1" height="1" fill="#a82848"/><rect x="2" y="1" width="1" height="1" fill="#3170a8"/><rect x="3" y="1" width="1" height="1" fill="#a82848"/><rect x="4" y="1" width="1" height="1" fill="#3170a8"/><rect x="5" y="1" width="1" height="1" fill="#3170a8"/><rect x="6" y="1" width="1" height="1" fill="#3170a8"/><rect x="7" y="1" width="1" height="1" fill="#225890"/><rect x="8" y="1" width="1" height="1" fill="#225890"/><rect x="0" y="2" width="1" height="1" fill="#3170a8"/><rect x="1" y="2" width="1" height="1" fill="#3170a8"/><rect x="2" y="2" width="1" height="1" fill="#3170a8"/><rect x="3" y="2" width="1" height="1" fill="#a82848"/><rect x="4" y="2" width="1" height="1" fill="#225890"/><rect x="5" y="2" width="1" height="1" fill="#3170a8"/><rect x="6" y="2" width="1" height="1" fill="#ddd2dc"/><rect x="7" y="2" width="1" height="1" fill="#a82848"/><rect x="8" y="2" width="1" height="1" fill="#3170a8"/><rect x="0" y="3" width="1" height="1" fill="#3170a8"/><rect x="1" y="3" width="1" height="1" fill="#a82848"/><rect x="2" y="3" width="1" height="1" fill="#a82848"/><rect x="3" y="3" width="1" height="1" fill="#a82848"/><rect x="4" y="3" width="1" height="1" fill="#3170a8"/><rect x="5" y="3" width="1" height="1" fill="#a82848"/><rect x="6" y="3" width="1" height="1" fill="#a82848"/><rect x="7" y="3" width="1" height="1" fill="#225890"/><rect x="8" y="3" width="1" height="1" fill="#3170a8"/><rect x="0" y="4" width="1" height="1" fill="#3170a8"/><rect x="1" y="4" width="1" height="1" fill="#3170a8"/><rect x="2" y="4" width="1" height="1" fill="#a82848"/><rect x="3" y="4" width="1" height="1" fill="#ddd2dc"/><rect x="4" y="4" width="1" height="1" fill="#3170a8"/><rect x="5" y="4" width="1" height="1" fill="#3170a8"/><rect x="6" y="4" width="1" height="1" fill="#225890"/><rect x="7" y="4" width="1" height="1" fill="#3170a8"/><rect x="8" y="4" width="1" height="1" fill="#a82848"/><rect x="0" y="5" width="1" height="1" fill="#3170a8"/><rect x="1" y="5" width="1" height="1" fill="#a82848"/><rect x="2" y="5" width="1" height="1" fill="#3170a8"/><rect x="3" y="5" width="1" height="1" fill="#a82848"/><rect x="4" y="5" width="1" height="1" fill="#ddd2dc"/><rect x="5" y="5" width="1" height="1" fill="#a82848"/><rect x="6" y="5" width="1" height="1" fill="#3170a8"/><rect x="7" y="5" width="1" height="1" fill="#3170a8"/><rect x="8" y="5" width="1" height="1" fill="#a82848"/><rect x="0" y="6" width="1" height="1" fill="#a82848"/><rect x="1" y="6" width="1" height="1" fill="#a82848"/><rect x="2" y="6" width="1" height="1" fill="#3170a8"/><rect x="3" y="6" width="1" height="1" fill="#225890"/><rect x="4" y="6" width="1" height="1" fill="#3170a8"/><rect x="5" y="6" width="1" height="1" fill="#a82848"/><rect x="6" y="6" width="1" height="1" fill="#c0405a"/><rect x="7" y="6" width="1" height="1" fill="#3170a8"/><rect x="8" y="6" width="1" height="1" fill="#a82848"/><rect x="0" y="7" width="1" height="1" fill="#3170a8"/><rect x="1" y="7" width="1" height="1" fill="#a82848"/><rect x="2" y="7" width="1" height="1" fill="#3170a8"/><rect x="3" y="7" width="1" height="1" fill="#a82848"/><rect x="4" y="7" width="1" height="1" fill="#a82848"/><rect x="5" y="7" width="1" height="1" fill="#a82848"/><rect x="6" y="7" width="1" height="1" fill="#225890"/><rect x="7" y="7" width="1" height="1" fill="#93afd4"/><rect x="8" y="7" width="1" height="1" fill="#3170a8"/><rect x="0" y="8" width="1" height="1" fill="#a82848"/><rect x="1" y="8" width="1" height="1" fill="#a82848"/><rect x="2" y="8" width="1" height="1" fill="#a82848"/><rect x="3" y="8" width="1" height="1" fill="#225890"/><rect x="4" y="8" width="1" height="1" fill="#3170a8"/><rect x="5" y="8" width="1" height="1" fill="#3170a8"/><rect x="6" y="8" width="1" height="1" fill="#93afd4"/><rect x="7" y="8" width="1" height="1" fill="#3170a8"/><rect x="8" y="8" width="1" height="1" fill="#c0405a"/><rect x="0" y="9" width="1" height="1" fill="#93afd4"/><rect x="1" y="9" width="1" height="1" fill="#3170a8"/><rect x="2" y="9" width="1" height="1" fill="#3170a8"/><rect x="3" y="9" width="1" height="1" fill="#a82848"/><rect x="4" y="9" width="1" height="1" fill="#3170a8"/><rect x="5" y="9" width="1" height="1" fill="#a82848"/><rect x="6" y="9" width="1" height="1" fill="#a82848"/><rect x="7" y="9" width="1" height="1" fill="#3170a8"/><rect x="8" y="9" width="1" height="1" fill="#c0405a"/><rect x="0" y="10" width="1" height="1" fill="#a82848"/><rect x="1" y="10" width="1" height="1" fill="#3170a8"/><rect x="2" y="10" width="1" height="1" fill="#a82848"/><rect x="3" y="10" width="1" height="1" fill="#3170a8"/><rect x="4" y="10" width="1" height="1" fill="#3170a8"/><rect x="5" y="10" width="1" height="1" fill="#a82848"/><rect x="6" y="10" width="1" height="1" fill="#225890"/><rect x="7" y="10" width="1" height="1" fill="#3170a8"/><rect x="8" y="10" width="1" height="1" fill="#93afd4"/></pattern></defs>
<path d="M208,227.4 C210.02,225 211.38,222.55 214,221.2 C216.62,219.85 219.53,219.32 223.7,219.3 C227.87,219.28 235.37,219.9 239,221.1 C242.63,222.3 243.87,224.12 245.5,226.5 C247.13,228.88 247.83,232.2 248.8,235.4 C249.77,238.6 250.35,241.85 251.3,245.7 C252.25,249.55 253.13,255.58 254.5,258.5 C255.87,261.42 258.15,261.53 259.5,263.2 C260.85,264.87 262.05,266.12 262.6,268.5 C263.15,270.88 263.32,275.45 262.8,277.5 C262.28,279.55 264.63,280.08 259.5,280.8 C254.37,281.52 240.92,281.4 232,281.8 C223.08,282.2 211.42,283.42 206,283.2 C200.58,282.98 201.12,282.2 199.5,280.5 C197.88,278.8 196.98,276.08 196.3,273 C195.62,269.92 195.23,266.5 195.4,262 C195.57,257.5 196.22,250.4 197.3,246 C198.38,241.6 200.12,238.7 201.9,235.6 C203.68,232.5 205.98,229.8 208,227.4Z" fill="#f9cdd2"/>
<path d="M374.6,227.4 C372.58,225 371.22,222.55 368.6,221.2 C365.98,219.85 363.07,219.32 358.9,219.3 C354.73,219.28 347.23,219.9 343.6,221.1 C339.97,222.3 338.73,224.12 337.1,226.5 C335.47,228.88 334.77,232.2 333.8,235.4 C332.83,238.6 332.25,241.85 331.3,245.7 C330.35,249.55 329.47,255.58 328.1,258.5 C326.73,261.42 324.45,261.53 323.1,263.2 C321.75,264.87 320.55,266.12 320,268.5 C319.45,270.88 319.28,275.45 319.8,277.5 C320.32,279.55 317.97,280.08 323.1,280.8 C328.23,281.52 341.68,281.4 350.6,281.8 C359.52,282.2 371.18,283.42 376.6,283.2 C382.02,282.98 381.48,282.2 383.1,280.5 C384.72,278.8 385.62,276.08 386.3,273 C386.98,269.92 387.37,266.5 387.2,262 C387.03,257.5 386.38,250.4 385.3,246 C384.22,241.6 382.48,238.7 380.7,235.6 C378.92,232.5 376.62,229.8 374.6,227.4Z" fill="#f9cdd2"/>
<path d="M200,285.9 C206.67,285.27 224.42,284.57 237,283.8 C249.58,283.03 268.53,281.33 275.5,281.3 C282.47,281.27 278.42,282.23 278.8,283.6 C279.18,284.97 278.57,287.35 277.8,289.5 C277.03,291.65 275.03,293.92 274.2,296.5 C273.37,299.08 273.2,302.88 272.8,305 C272.4,307.12 275.93,306.37 271.8,309.2 C267.67,312.03 254.63,318.37 248,322 C241.37,325.63 235.92,328.9 232,331 C228.08,333.1 226.9,334.02 224.5,334.6 C222.1,335.18 219.55,335.02 217.6,334.5 C215.65,333.98 214.4,333.1 212.8,331.5 C211.2,329.9 209.6,328 208,324.9 C206.4,321.8 204.6,316.72 203.2,312.9 C201.8,309.08 200.68,305.57 199.6,302 C198.52,298.43 197.13,293.9 196.7,291.5 C196.27,289.1 196.45,288.53 197,287.6 C197.55,286.67 193.33,286.53 200,285.9Z" fill="#d8efd9"/>
<path d="M382.6,285.9 C375.93,285.27 358.18,284.57 345.6,283.8 C333.02,283.03 314.07,281.33 307.1,281.3 C300.13,281.27 304.18,282.23 303.8,283.6 C303.42,284.97 304.03,287.35 304.8,289.5 C305.57,291.65 307.57,293.92 308.4,296.5 C309.23,299.08 309.4,302.88 309.8,305 C310.2,307.12 306.67,306.37 310.8,309.2 C314.93,312.03 327.97,318.37 334.6,322 C341.23,325.63 346.68,328.9 350.6,331 C354.52,333.1 355.7,334.02 358.1,334.6 C360.5,335.18 363.05,335.02 365,334.5 C366.95,333.98 368.2,333.1 369.8,331.5 C371.4,329.9 373,328 374.6,324.9 C376.2,321.8 378,316.72 379.4,312.9 C380.8,309.08 381.92,305.57 383,302 C384.08,298.43 385.47,293.9 385.9,291.5 C386.33,289.1 386.15,288.53 385.6,287.6 C385.05,286.67 389.27,286.53 382.6,285.9Z" fill="#d8efd9"/>
<path d="M277.2,292.3 C278.47,291.88 281.57,291.97 283.5,292 C285.43,292.03 287.77,291.17 288.8,292.5 C289.83,293.83 289.57,293.22 289.7,300 C289.83,306.78 290.38,327.33 289.6,333.2 C288.82,339.07 286.4,334.48 285,335.2 C283.6,335.92 281.95,335.7 281.2,337.5 C280.45,339.3 280.57,342.83 280.5,346 C280.43,349.17 279.92,353.7 280.8,356.5 C281.68,359.3 284.83,360.8 285.8,362.8 C286.77,364.8 286.87,366.8 286.6,368.5 C286.33,370.2 286.4,372.55 284.2,373 C282,373.45 278.12,372.37 273.4,371.2 C268.68,370.03 261.73,368.03 255.9,366 C250.07,363.97 243.22,361.45 238.4,359 C233.58,356.55 229.8,353.93 227,351.3 C224.2,348.67 222.18,345.37 221.6,343.2 C221.02,341.03 220.1,340.7 223.5,338.3 C226.9,335.9 235.83,331.98 242,328.8 C248.17,325.62 255.42,321.92 260.5,319.2 C265.58,316.48 269.92,314.28 272.5,312.5 C275.08,310.72 275.45,310.58 276,308.5 C276.55,306.42 275.82,302.33 275.8,300 C275.78,297.67 275.67,295.78 275.9,294.5 C276.13,293.22 275.93,292.72 277.2,292.3Z" fill="#d3d7ea"/>
<path d="M305.4,292.3 C304.13,291.88 301.03,291.97 299.1,292 C297.17,292.03 294.83,291.17 293.8,292.5 C292.77,293.83 293.03,293.22 292.9,300 C292.77,306.78 292.22,327.33 293,333.2 C293.78,339.07 296.2,334.48 297.6,335.2 C299,335.92 300.65,335.7 301.4,337.5 C302.15,339.3 302.03,342.83 302.1,346 C302.17,349.17 302.68,353.7 301.8,356.5 C300.92,359.3 297.77,360.8 296.8,362.8 C295.83,364.8 295.73,366.8 296,368.5 C296.27,370.2 296.2,372.55 298.4,373 C300.6,373.45 304.48,372.37 309.2,371.2 C313.92,370.03 320.87,368.03 326.7,366 C332.53,363.97 339.38,361.45 344.2,359 C349.02,356.55 352.8,353.93 355.6,351.3 C358.4,348.67 360.42,345.37 361,343.2 C361.58,341.03 362.5,340.7 359.1,338.3 C355.7,335.9 346.77,331.98 340.6,328.8 C334.43,325.62 327.18,321.92 322.1,319.2 C317.02,316.48 312.68,314.28 310.1,312.5 C307.52,310.72 307.15,310.58 306.6,308.5 C306.05,306.42 306.78,302.33 306.8,300 C306.82,297.67 306.93,295.78 306.7,294.5 C306.47,293.22 306.67,292.72 305.4,292.3Z" fill="#d3d7ea"/>
<g filter="url(#sb)">
<rect x="271" y="196.7" width="6.7" height="11.8" fill="#2b619c"/>
<rect x="271.45" y="197.8" width="5.8" height="9.6" fill="url(#sp)"/>
<rect x="277.8" y="199.7" width="6" height="6" fill="#2b619c"/>
<rect x="278.25" y="200.8" width="5.1" height="3.8" fill="url(#sp)"/>
<rect x="271" y="209" width="6.7" height="11.8" fill="#2b619c"/>
<rect x="271.45" y="210.1" width="5.8" height="9.6" fill="url(#sp)"/>
<rect x="277.8" y="212" width="6" height="6" fill="#2b619c"/>
<rect x="278.25" y="213.1" width="5.1" height="3.8" fill="url(#sp)"/>
<rect x="271" y="222.2" width="6.7" height="11.8" fill="#2b619c"/>
<rect x="271.45" y="223.3" width="5.8" height="9.6" fill="url(#sp)"/>
<rect x="277.8" y="225.2" width="6" height="6" fill="#2b619c"/>
<rect x="278.25" y="226.3" width="5.1" height="3.8" fill="url(#sp)"/>
<rect x="271" y="234.8" width="6.7" height="11.8" fill="#2b619c"/>
<rect x="271.45" y="235.9" width="5.8" height="9.6" fill="url(#sp)"/>
<rect x="277.8" y="237.8" width="6" height="6" fill="#2b619c"/>
<rect x="278.25" y="238.9" width="5.1" height="3.8" fill="url(#sp)"/>
<rect x="257.5" y="201.3" width="6.7" height="11.8" fill="#2b619c"/>
<rect x="257.95" y="202.4" width="5.8" height="9.6" fill="url(#sp)"/>
<rect x="264.3" y="204.3" width="6" height="6" fill="#2b619c"/>
<rect x="264.75" y="205.4" width="5.1" height="3.8" fill="url(#sp)"/>
<rect x="257.5" y="215.1" width="6.7" height="11.8" fill="#2b619c"/>
<rect x="257.95" y="216.2" width="5.8" height="9.6" fill="url(#sp)"/>
<rect x="264.3" y="218.1" width="6" height="6" fill="#2b619c"/>
<rect x="264.75" y="219.2" width="5.1" height="3.8" fill="url(#sp)"/>
<rect x="257.3" y="233.1" width="6.7" height="11.8" fill="#2b619c"/>
<rect x="257.75" y="234.2" width="5.8" height="9.6" fill="url(#sp)"/>
<rect x="264.1" y="236.1" width="6" height="6" fill="#2b619c"/>
<rect x="264.55" y="237.2" width="5.1" height="3.8" fill="url(#sp)"/>
<rect x="243.5" y="211" width="6.7" height="11.8" fill="#2b619c"/>
<rect x="243.95" y="212.1" width="5.8" height="9.6" fill="url(#sp)"/>
<rect x="250.3" y="214" width="6" height="6" fill="#2b619c"/>
<rect x="250.75" y="215.1" width="5.1" height="3.8" fill="url(#sp)"/>
<rect x="206.3" y="228.3" width="6.7" height="11.8" fill="#2b619c"/>
<rect x="206.75" y="229.4" width="5.8" height="9.6" fill="url(#sp)"/>
<rect x="213.1" y="231.3" width="6" height="6" fill="#2b619c"/>
<rect x="213.55" y="232.4" width="5.1" height="3.8" fill="url(#sp)"/>
<rect x="221.7" y="222.2" width="6.7" height="11.8" fill="#2b619c"/>
<rect x="222.15" y="223.3" width="5.8" height="9.6" fill="url(#sp)"/>
<rect x="228.5" y="225.2" width="6" height="6" fill="#2b619c"/>
<rect x="228.95" y="226.3" width="5.1" height="3.8" fill="url(#sp)"/>
<rect x="232.9" y="226.8" width="6.7" height="11.8" fill="#2b619c"/>
<rect x="233.35" y="227.9" width="5.8" height="9.6" fill="url(#sp)"/>
<rect x="239.7" y="229.8" width="6" height="6" fill="#2b619c"/>
<rect x="240.15" y="230.9" width="5.1" height="3.8" fill="url(#sp)"/>
<rect x="212.2" y="244.9" width="6.7" height="11.8" fill="#2b619c"/>
<rect x="212.65" y="246" width="5.8" height="9.6" fill="url(#sp)"/>
<rect x="219" y="247.9" width="6" height="6" fill="#2b619c"/>
<rect x="219.45" y="249" width="5.1" height="3.8" fill="url(#sp)"/>
<rect x="224.2" y="247.8" width="6.7" height="11.8" fill="#2b619c"/>
<rect x="224.65" y="248.9" width="5.8" height="9.6" fill="url(#sp)"/>
<rect x="231" y="250.8" width="6" height="6" fill="#2b619c"/>
<rect x="231.45" y="251.9" width="5.1" height="3.8" fill="url(#sp)"/>
<rect x="238.4" y="246.4" width="6.7" height="11.8" fill="#2b619c"/>
<rect x="238.85" y="247.5" width="5.8" height="9.6" fill="url(#sp)"/>
<rect x="245.2" y="249.4" width="6" height="6" fill="#2b619c"/>
<rect x="245.65" y="250.5" width="5.1" height="3.8" fill="url(#sp)"/>
<rect x="197.9" y="257.3" width="6.7" height="11.8" fill="#2b619c"/>
<rect x="198.35" y="258.4" width="5.8" height="9.6" fill="url(#sp)"/>
<rect x="204.7" y="260.3" width="6" height="6" fill="#2b619c"/>
<rect x="205.15" y="261.4" width="5.1" height="3.8" fill="url(#sp)"/>
<rect x="208.5" y="269" width="6.7" height="11.8" fill="#2b619c"/>
<rect x="208.95" y="270.1" width="5.8" height="9.6" fill="url(#sp)"/>
<rect x="215.3" y="272" width="6" height="6" fill="#2b619c"/>
<rect x="215.75" y="273.1" width="5.1" height="3.8" fill="url(#sp)"/>
<rect x="222" y="269.7" width="6.7" height="11.8" fill="#2b619c"/>
<rect x="222.45" y="270.8" width="5.8" height="9.6" fill="url(#sp)"/>
<rect x="228.8" y="272.7" width="6" height="6" fill="#2b619c"/>
<rect x="229.25" y="273.8" width="5.1" height="3.8" fill="url(#sp)"/>
<rect x="235.9" y="266.8" width="6.7" height="11.8" fill="#2b619c"/>
<rect x="236.35" y="267.9" width="5.8" height="9.6" fill="url(#sp)"/>
<rect x="242.7" y="269.8" width="6" height="6" fill="#2b619c"/>
<rect x="243.15" y="270.9" width="5.1" height="3.8" fill="url(#sp)"/>
<rect x="249.4" y="266.4" width="6.7" height="11.8" fill="#2b619c"/>
<rect x="249.85" y="267.5" width="5.8" height="9.6" fill="url(#sp)"/>
<rect x="256.2" y="269.4" width="6" height="6" fill="#2b619c"/>
<rect x="256.65" y="270.5" width="5.1" height="3.8" fill="url(#sp)"/>
<rect x="251.2" y="248.5" width="6.7" height="11.8" fill="#2b619c"/>
<rect x="251.65" y="249.6" width="5.8" height="9.6" fill="url(#sp)"/>
<rect x="258" y="251.5" width="6" height="6" fill="#2b619c"/>
<rect x="258.45" y="252.6" width="5.1" height="3.8" fill="url(#sp)"/>
<rect x="264.7" y="249.8" width="6.7" height="11.8" fill="#2b619c"/>
<rect x="265.15" y="250.9" width="5.8" height="9.6" fill="url(#sp)"/>
<rect x="271.5" y="252.8" width="6" height="6" fill="#2b619c"/>
<rect x="271.95" y="253.9" width="5.1" height="3.8" fill="url(#sp)"/>
<rect x="277.7" y="249.4" width="6.7" height="11.8" fill="#2b619c"/>
<rect x="278.15" y="250.5" width="5.8" height="9.6" fill="url(#sp)"/>
<rect x="284.5" y="252.4" width="6" height="6" fill="#2b619c"/>
<rect x="284.95" y="253.5" width="5.1" height="3.8" fill="url(#sp)"/>
<rect x="263.8" y="266.9" width="6.7" height="11.8" fill="#2b619c"/>
<rect x="264.25" y="268" width="5.8" height="9.6" fill="url(#sp)"/>
<rect x="270.6" y="269.9" width="6" height="6" fill="#2b619c"/>
<rect x="271.05" y="271" width="5.1" height="3.8" fill="url(#sp)"/>
<rect x="277.7" y="265.5" width="6.7" height="11.8" fill="#2b619c"/>
<rect x="278.15" y="266.6" width="5.8" height="9.6" fill="url(#sp)"/>
<rect x="284.5" y="268.5" width="6" height="6" fill="#2b619c"/>
<rect x="284.95" y="269.6" width="5.1" height="3.8" fill="url(#sp)"/>
<rect x="250.8" y="284.3" width="6.7" height="11.8" fill="#2b619c"/>
<rect x="251.25" y="285.4" width="5.8" height="9.6" fill="url(#sp)"/>
<rect x="257.6" y="287.3" width="6" height="6" fill="#2b619c"/>
<rect x="258.05" y="288.4" width="5.1" height="3.8" fill="url(#sp)"/>
<rect x="263.8" y="283.4" width="6.7" height="11.8" fill="#2b619c"/>
<rect x="264.25" y="284.5" width="5.8" height="9.6" fill="url(#sp)"/>
<rect x="270.6" y="286.4" width="6" height="6" fill="#2b619c"/>
<rect x="271.05" y="287.5" width="5.1" height="3.8" fill="url(#sp)"/>
<rect x="277.3" y="279.3" width="6.7" height="11.8" fill="#2b619c"/>
<rect x="277.75" y="280.4" width="5.8" height="9.6" fill="url(#sp)"/>
<rect x="284.1" y="282.3" width="6" height="6" fill="#2b619c"/>
<rect x="284.55" y="283.4" width="5.1" height="3.8" fill="url(#sp)"/>
<rect x="199" y="287.9" width="6.7" height="11.8" fill="#2b619c"/>
<rect x="199.45" y="289" width="5.8" height="9.6" fill="url(#sp)"/>
<rect x="205.8" y="290.9" width="6" height="6" fill="#2b619c"/>
<rect x="206.25" y="292" width="5.1" height="3.8" fill="url(#sp)"/>
<rect x="212.9" y="297.3" width="6.7" height="11.8" fill="#2b619c"/>
<rect x="213.35" y="298.4" width="5.8" height="9.6" fill="url(#sp)"/>
<rect x="219.7" y="300.3" width="6" height="6" fill="#2b619c"/>
<rect x="220.15" y="301.4" width="5.1" height="3.8" fill="url(#sp)"/>
<rect x="224.6" y="291" width="6.7" height="11.8" fill="#2b619c"/>
<rect x="225.05" y="292.1" width="5.8" height="9.6" fill="url(#sp)"/>
<rect x="231.4" y="294" width="6" height="6" fill="#2b619c"/>
<rect x="231.85" y="295.1" width="5.1" height="3.8" fill="url(#sp)"/>
<rect x="237.6" y="286.1" width="6.7" height="11.8" fill="#2b619c"/>
<rect x="238.05" y="287.2" width="5.8" height="9.6" fill="url(#sp)"/>
<rect x="244.4" y="289.1" width="6" height="6" fill="#2b619c"/>
<rect x="244.85" y="290.2" width="5.1" height="3.8" fill="url(#sp)"/>
<rect x="208" y="314.4" width="6.7" height="11.8" fill="#2b619c"/>
<rect x="208.45" y="315.5" width="5.8" height="9.6" fill="url(#sp)"/>
<rect x="214.8" y="317.4" width="6" height="6" fill="#2b619c"/>
<rect x="215.25" y="318.5" width="5.1" height="3.8" fill="url(#sp)"/>
<rect x="234" y="309.9" width="6.7" height="11.8" fill="#2b619c"/>
<rect x="234.45" y="311" width="5.8" height="9.6" fill="url(#sp)"/>
<rect x="240.8" y="312.9" width="6" height="6" fill="#2b619c"/>
<rect x="241.25" y="314" width="5.1" height="3.8" fill="url(#sp)"/>
<rect x="224.4" y="319" width="6.7" height="11.8" fill="#2b619c"/>
<rect x="224.85" y="320.1" width="5.8" height="9.6" fill="url(#sp)"/>
<rect x="231.2" y="322" width="6" height="6" fill="#2b619c"/>
<rect x="231.65" y="323.1" width="5.1" height="3.8" fill="url(#sp)"/>
<rect x="245.7" y="303.4" width="6.7" height="11.8" fill="#2b619c"/>
<rect x="246.15" y="304.5" width="5.8" height="9.6" fill="url(#sp)"/>
<rect x="252.5" y="306.4" width="6" height="6" fill="#2b619c"/>
<rect x="252.95" y="307.5" width="5.1" height="3.8" fill="url(#sp)"/>
<rect x="260.2" y="299.1" width="6.7" height="11.8" fill="#2b619c"/>
<rect x="260.65" y="300.2" width="5.8" height="9.6" fill="url(#sp)"/>
<rect x="267" y="302.1" width="6" height="6" fill="#2b619c"/>
<rect x="267.45" y="303.2" width="5.1" height="3.8" fill="url(#sp)"/>
<rect x="277.3" y="295.5" width="6.7" height="11.8" fill="#2b619c"/>
<rect x="277.75" y="296.6" width="5.8" height="9.6" fill="url(#sp)"/>
<rect x="284.1" y="298.5" width="6" height="6" fill="#2b619c"/>
<rect x="284.55" y="299.6" width="5.1" height="3.8" fill="url(#sp)"/>
<rect x="277.3" y="307.6" width="6.7" height="11.8" fill="#2b619c"/>
<rect x="277.75" y="308.7" width="5.8" height="9.6" fill="url(#sp)"/>
<rect x="284.1" y="310.6" width="6" height="6" fill="#2b619c"/>
<rect x="284.55" y="311.7" width="5.1" height="3.8" fill="url(#sp)"/>
<rect x="277.3" y="321.1" width="6.7" height="11.8" fill="#2b619c"/>
<rect x="277.75" y="322.2" width="5.8" height="9.6" fill="url(#sp)"/>
<rect x="284.1" y="324.1" width="6" height="6" fill="#2b619c"/>
<rect x="284.55" y="325.2" width="5.1" height="3.8" fill="url(#sp)"/>
<rect x="260.2" y="317.5" width="6.7" height="11.8" fill="#2b619c"/>
<rect x="260.65" y="318.6" width="5.8" height="9.6" fill="url(#sp)"/>
<rect x="267" y="320.5" width="6" height="6" fill="#2b619c"/>
<rect x="267.45" y="321.6" width="5.1" height="3.8" fill="url(#sp)"/>
<rect x="247.7" y="325.6" width="6.7" height="11.8" fill="#2b619c"/>
<rect x="248.15" y="326.7" width="5.8" height="9.6" fill="url(#sp)"/>
<rect x="254.5" y="328.6" width="6" height="6" fill="#2b619c"/>
<rect x="254.95" y="329.7" width="5.1" height="3.8" fill="url(#sp)"/>
<rect x="224.9" y="338.4" width="6.7" height="11.8" fill="#2b619c"/>
<rect x="225.35" y="339.5" width="5.8" height="9.6" fill="url(#sp)"/>
<rect x="231.7" y="341.4" width="6" height="6" fill="#2b619c"/>
<rect x="232.15" y="342.5" width="5.1" height="3.8" fill="url(#sp)"/>
<rect x="241.3" y="336.1" width="6.7" height="11.8" fill="#2b619c"/>
<rect x="241.75" y="337.2" width="5.8" height="9.6" fill="url(#sp)"/>
<rect x="248.1" y="339.1" width="6" height="6" fill="#2b619c"/>
<rect x="248.55" y="340.2" width="5.1" height="3.8" fill="url(#sp)"/>
<rect x="265.2" y="333.8" width="6.7" height="11.8" fill="#2b619c"/>
<rect x="265.65" y="334.9" width="5.8" height="9.6" fill="url(#sp)"/>
<rect x="272" y="336.8" width="6" height="6" fill="#2b619c"/>
<rect x="272.45" y="337.9" width="5.1" height="3.8" fill="url(#sp)"/>
<rect x="261.7" y="346.6" width="6.7" height="11.8" fill="#2b619c"/>
<rect x="262.15" y="347.7" width="5.8" height="9.6" fill="url(#sp)"/>
<rect x="268.5" y="349.6" width="6" height="6" fill="#2b619c"/>
<rect x="268.95" y="350.7" width="5.1" height="3.8" fill="url(#sp)"/>
<rect x="246.5" y="352.5" width="6.7" height="11.8" fill="#2b619c"/>
<rect x="246.95" y="353.6" width="5.8" height="9.6" fill="url(#sp)"/>
<rect x="253.3" y="355.5" width="6" height="6" fill="#2b619c"/>
<rect x="253.75" y="356.6" width="5.1" height="3.8" fill="url(#sp)"/>
<rect x="271.6" y="361.2" width="6.7" height="11.8" fill="#2b619c"/>
<rect x="272.05" y="362.3" width="5.8" height="9.6" fill="url(#sp)"/>
<rect x="278.4" y="364.2" width="6" height="6" fill="#2b619c"/>
<rect x="278.85" y="365.3" width="5.1" height="3.8" fill="url(#sp)"/>
<rect x="298.8" y="196.7" width="6.7" height="11.8" fill="#2b619c"/>
<rect x="299.25" y="197.8" width="5.8" height="9.6" fill="url(#sp)"/>
<rect x="305.6" y="199.7" width="6" height="6" fill="#2b619c"/>
<rect x="306.05" y="200.8" width="5.1" height="3.8" fill="url(#sp)"/>
<rect x="298.8" y="209" width="6.7" height="11.8" fill="#2b619c"/>
<rect x="299.25" y="210.1" width="5.8" height="9.6" fill="url(#sp)"/>
<rect x="305.6" y="212" width="6" height="6" fill="#2b619c"/>
<rect x="306.05" y="213.1" width="5.1" height="3.8" fill="url(#sp)"/>
<rect x="298.8" y="222.2" width="6.7" height="11.8" fill="#2b619c"/>
<rect x="299.25" y="223.3" width="5.8" height="9.6" fill="url(#sp)"/>
<rect x="305.6" y="225.2" width="6" height="6" fill="#2b619c"/>
<rect x="306.05" y="226.3" width="5.1" height="3.8" fill="url(#sp)"/>
<rect x="298.8" y="234.8" width="6.7" height="11.8" fill="#2b619c"/>
<rect x="299.25" y="235.9" width="5.8" height="9.6" fill="url(#sp)"/>
<rect x="305.6" y="237.8" width="6" height="6" fill="#2b619c"/>
<rect x="306.05" y="238.9" width="5.1" height="3.8" fill="url(#sp)"/>
<rect x="312.3" y="201.3" width="6.7" height="11.8" fill="#2b619c"/>
<rect x="312.75" y="202.4" width="5.8" height="9.6" fill="url(#sp)"/>
<rect x="319.1" y="204.3" width="6" height="6" fill="#2b619c"/>
<rect x="319.55" y="205.4" width="5.1" height="3.8" fill="url(#sp)"/>
<rect x="312.3" y="215.1" width="6.7" height="11.8" fill="#2b619c"/>
<rect x="312.75" y="216.2" width="5.8" height="9.6" fill="url(#sp)"/>
<rect x="319.1" y="218.1" width="6" height="6" fill="#2b619c"/>
<rect x="319.55" y="219.2" width="5.1" height="3.8" fill="url(#sp)"/>
<rect x="312.5" y="233.1" width="6.7" height="11.8" fill="#2b619c"/>
<rect x="312.95" y="234.2" width="5.8" height="9.6" fill="url(#sp)"/>
<rect x="319.3" y="236.1" width="6" height="6" fill="#2b619c"/>
<rect x="319.75" y="237.2" width="5.1" height="3.8" fill="url(#sp)"/>
<rect x="326.3" y="211" width="6.7" height="11.8" fill="#2b619c"/>
<rect x="326.75" y="212.1" width="5.8" height="9.6" fill="url(#sp)"/>
<rect x="333.1" y="214" width="6" height="6" fill="#2b619c"/>
<rect x="333.55" y="215.1" width="5.1" height="3.8" fill="url(#sp)"/>
<rect x="363.5" y="228.3" width="6.7" height="11.8" fill="#2b619c"/>
<rect x="363.95" y="229.4" width="5.8" height="9.6" fill="url(#sp)"/>
<rect x="370.3" y="231.3" width="6" height="6" fill="#2b619c"/>
<rect x="370.75" y="232.4" width="5.1" height="3.8" fill="url(#sp)"/>
<rect x="348.1" y="222.2" width="6.7" height="11.8" fill="#2b619c"/>
<rect x="348.55" y="223.3" width="5.8" height="9.6" fill="url(#sp)"/>
<rect x="354.9" y="225.2" width="6" height="6" fill="#2b619c"/>
<rect x="355.35" y="226.3" width="5.1" height="3.8" fill="url(#sp)"/>
<rect x="336.9" y="226.8" width="6.7" height="11.8" fill="#2b619c"/>
<rect x="337.35" y="227.9" width="5.8" height="9.6" fill="url(#sp)"/>
<rect x="343.7" y="229.8" width="6" height="6" fill="#2b619c"/>
<rect x="344.15" y="230.9" width="5.1" height="3.8" fill="url(#sp)"/>
<rect x="357.6" y="244.9" width="6.7" height="11.8" fill="#2b619c"/>
<rect x="358.05" y="246" width="5.8" height="9.6" fill="url(#sp)"/>
<rect x="364.4" y="247.9" width="6" height="6" fill="#2b619c"/>
<rect x="364.85" y="249" width="5.1" height="3.8" fill="url(#sp)"/>
<rect x="345.6" y="247.8" width="6.7" height="11.8" fill="#2b619c"/>
<rect x="346.05" y="248.9" width="5.8" height="9.6" fill="url(#sp)"/>
<rect x="352.4" y="250.8" width="6" height="6" fill="#2b619c"/>
<rect x="352.85" y="251.9" width="5.1" height="3.8" fill="url(#sp)"/>
<rect x="331.4" y="246.4" width="6.7" height="11.8" fill="#2b619c"/>
<rect x="331.85" y="247.5" width="5.8" height="9.6" fill="url(#sp)"/>
<rect x="338.2" y="249.4" width="6" height="6" fill="#2b619c"/>
<rect x="338.65" y="250.5" width="5.1" height="3.8" fill="url(#sp)"/>
<rect x="371.9" y="257.3" width="6.7" height="11.8" fill="#2b619c"/>
<rect x="372.35" y="258.4" width="5.8" height="9.6" fill="url(#sp)"/>
<rect x="378.7" y="260.3" width="6" height="6" fill="#2b619c"/>
<rect x="379.15" y="261.4" width="5.1" height="3.8" fill="url(#sp)"/>
<rect x="361.3" y="269" width="6.7" height="11.8" fill="#2b619c"/>
<rect x="361.75" y="270.1" width="5.8" height="9.6" fill="url(#sp)"/>
<rect x="368.1" y="272" width="6" height="6" fill="#2b619c"/>
<rect x="368.55" y="273.1" width="5.1" height="3.8" fill="url(#sp)"/>
<rect x="347.8" y="269.7" width="6.7" height="11.8" fill="#2b619c"/>
<rect x="348.25" y="270.8" width="5.8" height="9.6" fill="url(#sp)"/>
<rect x="354.6" y="272.7" width="6" height="6" fill="#2b619c"/>
<rect x="355.05" y="273.8" width="5.1" height="3.8" fill="url(#sp)"/>
<rect x="333.9" y="266.8" width="6.7" height="11.8" fill="#2b619c"/>
<rect x="334.35" y="267.9" width="5.8" height="9.6" fill="url(#sp)"/>
<rect x="340.7" y="269.8" width="6" height="6" fill="#2b619c"/>
<rect x="341.15" y="270.9" width="5.1" height="3.8" fill="url(#sp)"/>
<rect x="320.4" y="266.4" width="6.7" height="11.8" fill="#2b619c"/>
<rect x="320.85" y="267.5" width="5.8" height="9.6" fill="url(#sp)"/>
<rect x="327.2" y="269.4" width="6" height="6" fill="#2b619c"/>
<rect x="327.65" y="270.5" width="5.1" height="3.8" fill="url(#sp)"/>
<rect x="318.6" y="248.5" width="6.7" height="11.8" fill="#2b619c"/>
<rect x="319.05" y="249.6" width="5.8" height="9.6" fill="url(#sp)"/>
<rect x="325.4" y="251.5" width="6" height="6" fill="#2b619c"/>
<rect x="325.85" y="252.6" width="5.1" height="3.8" fill="url(#sp)"/>
<rect x="305.1" y="249.8" width="6.7" height="11.8" fill="#2b619c"/>
<rect x="305.55" y="250.9" width="5.8" height="9.6" fill="url(#sp)"/>
<rect x="311.9" y="252.8" width="6" height="6" fill="#2b619c"/>
<rect x="312.35" y="253.9" width="5.1" height="3.8" fill="url(#sp)"/>
<rect x="292.1" y="249.4" width="6.7" height="11.8" fill="#2b619c"/>
<rect x="292.55" y="250.5" width="5.8" height="9.6" fill="url(#sp)"/>
<rect x="298.9" y="252.4" width="6" height="6" fill="#2b619c"/>
<rect x="299.35" y="253.5" width="5.1" height="3.8" fill="url(#sp)"/>
<rect x="306" y="266.9" width="6.7" height="11.8" fill="#2b619c"/>
<rect x="306.45" y="268" width="5.8" height="9.6" fill="url(#sp)"/>
<rect x="312.8" y="269.9" width="6" height="6" fill="#2b619c"/>
<rect x="313.25" y="271" width="5.1" height="3.8" fill="url(#sp)"/>
<rect x="292.1" y="265.5" width="6.7" height="11.8" fill="#2b619c"/>
<rect x="292.55" y="266.6" width="5.8" height="9.6" fill="url(#sp)"/>
<rect x="298.9" y="268.5" width="6" height="6" fill="#2b619c"/>
<rect x="299.35" y="269.6" width="5.1" height="3.8" fill="url(#sp)"/>
<rect x="319" y="284.3" width="6.7" height="11.8" fill="#2b619c"/>
<rect x="319.45" y="285.4" width="5.8" height="9.6" fill="url(#sp)"/>
<rect x="325.8" y="287.3" width="6" height="6" fill="#2b619c"/>
<rect x="326.25" y="288.4" width="5.1" height="3.8" fill="url(#sp)"/>
<rect x="306" y="283.4" width="6.7" height="11.8" fill="#2b619c"/>
<rect x="306.45" y="284.5" width="5.8" height="9.6" fill="url(#sp)"/>
<rect x="312.8" y="286.4" width="6" height="6" fill="#2b619c"/>
<rect x="313.25" y="287.5" width="5.1" height="3.8" fill="url(#sp)"/>
<rect x="292.5" y="279.3" width="6.7" height="11.8" fill="#2b619c"/>
<rect x="292.95" y="280.4" width="5.8" height="9.6" fill="url(#sp)"/>
<rect x="299.3" y="282.3" width="6" height="6" fill="#2b619c"/>
<rect x="299.75" y="283.4" width="5.1" height="3.8" fill="url(#sp)"/>
<rect x="370.8" y="287.9" width="6.7" height="11.8" fill="#2b619c"/>
<rect x="371.25" y="289" width="5.8" height="9.6" fill="url(#sp)"/>
<rect x="377.6" y="290.9" width="6" height="6" fill="#2b619c"/>
<rect x="378.05" y="292" width="5.1" height="3.8" fill="url(#sp)"/>
<rect x="356.9" y="297.3" width="6.7" height="11.8" fill="#2b619c"/>
<rect x="357.35" y="298.4" width="5.8" height="9.6" fill="url(#sp)"/>
<rect x="363.7" y="300.3" width="6" height="6" fill="#2b619c"/>
<rect x="364.15" y="301.4" width="5.1" height="3.8" fill="url(#sp)"/>
<rect x="345.2" y="291" width="6.7" height="11.8" fill="#2b619c"/>
<rect x="345.65" y="292.1" width="5.8" height="9.6" fill="url(#sp)"/>
<rect x="352" y="294" width="6" height="6" fill="#2b619c"/>
<rect x="352.45" y="295.1" width="5.1" height="3.8" fill="url(#sp)"/>
<rect x="332.2" y="286.1" width="6.7" height="11.8" fill="#2b619c"/>
<rect x="332.65" y="287.2" width="5.8" height="9.6" fill="url(#sp)"/>
<rect x="339" y="289.1" width="6" height="6" fill="#2b619c"/>
<rect x="339.45" y="290.2" width="5.1" height="3.8" fill="url(#sp)"/>
<rect x="361.8" y="314.4" width="6.7" height="11.8" fill="#2b619c"/>
<rect x="362.25" y="315.5" width="5.8" height="9.6" fill="url(#sp)"/>
<rect x="368.6" y="317.4" width="6" height="6" fill="#2b619c"/>
<rect x="369.05" y="318.5" width="5.1" height="3.8" fill="url(#sp)"/>
<rect x="335.8" y="309.9" width="6.7" height="11.8" fill="#2b619c"/>
<rect x="336.25" y="311" width="5.8" height="9.6" fill="url(#sp)"/>
<rect x="342.6" y="312.9" width="6" height="6" fill="#2b619c"/>
<rect x="343.05" y="314" width="5.1" height="3.8" fill="url(#sp)"/>
<rect x="345.4" y="319" width="6.7" height="11.8" fill="#2b619c"/>
<rect x="345.85" y="320.1" width="5.8" height="9.6" fill="url(#sp)"/>
<rect x="352.2" y="322" width="6" height="6" fill="#2b619c"/>
<rect x="352.65" y="323.1" width="5.1" height="3.8" fill="url(#sp)"/>
<rect x="324.1" y="303.4" width="6.7" height="11.8" fill="#2b619c"/>
<rect x="324.55" y="304.5" width="5.8" height="9.6" fill="url(#sp)"/>
<rect x="330.9" y="306.4" width="6" height="6" fill="#2b619c"/>
<rect x="331.35" y="307.5" width="5.1" height="3.8" fill="url(#sp)"/>
<rect x="309.6" y="299.1" width="6.7" height="11.8" fill="#2b619c"/>
<rect x="310.05" y="300.2" width="5.8" height="9.6" fill="url(#sp)"/>
<rect x="316.4" y="302.1" width="6" height="6" fill="#2b619c"/>
<rect x="316.85" y="303.2" width="5.1" height="3.8" fill="url(#sp)"/>
<rect x="292.5" y="295.5" width="6.7" height="11.8" fill="#2b619c"/>
<rect x="292.95" y="296.6" width="5.8" height="9.6" fill="url(#sp)"/>
<rect x="299.3" y="298.5" width="6" height="6" fill="#2b619c"/>
<rect x="299.75" y="299.6" width="5.1" height="3.8" fill="url(#sp)"/>
<rect x="292.5" y="307.6" width="6.7" height="11.8" fill="#2b619c"/>
<rect x="292.95" y="308.7" width="5.8" height="9.6" fill="url(#sp)"/>
<rect x="299.3" y="310.6" width="6" height="6" fill="#2b619c"/>
<rect x="299.75" y="311.7" width="5.1" height="3.8" fill="url(#sp)"/>
<rect x="292.5" y="321.1" width="6.7" height="11.8" fill="#2b619c"/>
<rect x="292.95" y="322.2" width="5.8" height="9.6" fill="url(#sp)"/>
<rect x="299.3" y="324.1" width="6" height="6" fill="#2b619c"/>
<rect x="299.75" y="325.2" width="5.1" height="3.8" fill="url(#sp)"/>
<rect x="309.6" y="317.5" width="6.7" height="11.8" fill="#2b619c"/>
<rect x="310.05" y="318.6" width="5.8" height="9.6" fill="url(#sp)"/>
<rect x="316.4" y="320.5" width="6" height="6" fill="#2b619c"/>
<rect x="316.85" y="321.6" width="5.1" height="3.8" fill="url(#sp)"/>
<rect x="322.1" y="325.6" width="6.7" height="11.8" fill="#2b619c"/>
<rect x="322.55" y="326.7" width="5.8" height="9.6" fill="url(#sp)"/>
<rect x="328.9" y="328.6" width="6" height="6" fill="#2b619c"/>
<rect x="329.35" y="329.7" width="5.1" height="3.8" fill="url(#sp)"/>
<rect x="344.9" y="338.4" width="6.7" height="11.8" fill="#2b619c"/>
<rect x="345.35" y="339.5" width="5.8" height="9.6" fill="url(#sp)"/>
<rect x="351.7" y="341.4" width="6" height="6" fill="#2b619c"/>
<rect x="352.15" y="342.5" width="5.1" height="3.8" fill="url(#sp)"/>
<rect x="328.5" y="336.1" width="6.7" height="11.8" fill="#2b619c"/>
<rect x="328.95" y="337.2" width="5.8" height="9.6" fill="url(#sp)"/>
<rect x="335.3" y="339.1" width="6" height="6" fill="#2b619c"/>
<rect x="335.75" y="340.2" width="5.1" height="3.8" fill="url(#sp)"/>
<rect x="304.6" y="333.8" width="6.7" height="11.8" fill="#2b619c"/>
<rect x="305.05" y="334.9" width="5.8" height="9.6" fill="url(#sp)"/>
<rect x="311.4" y="336.8" width="6" height="6" fill="#2b619c"/>
<rect x="311.85" y="337.9" width="5.1" height="3.8" fill="url(#sp)"/>
<rect x="308.1" y="346.6" width="6.7" height="11.8" fill="#2b619c"/>
<rect x="308.55" y="347.7" width="5.8" height="9.6" fill="url(#sp)"/>
<rect x="314.9" y="349.6" width="6" height="6" fill="#2b619c"/>
<rect x="315.35" y="350.7" width="5.1" height="3.8" fill="url(#sp)"/>
<rect x="323.3" y="352.5" width="6.7" height="11.8" fill="#2b619c"/>
<rect x="323.75" y="353.6" width="5.8" height="9.6" fill="url(#sp)"/>
<rect x="330.1" y="355.5" width="6" height="6" fill="#2b619c"/>
<rect x="330.55" y="356.6" width="5.1" height="3.8" fill="url(#sp)"/>
<rect x="298.2" y="361.2" width="6.7" height="11.8" fill="#2b619c"/>
<rect x="298.65" y="362.3" width="5.8" height="9.6" fill="url(#sp)"/>
<rect x="305" y="364.2" width="6" height="6" fill="#2b619c"/>
<rect x="305.45" y="365.3" width="5.1" height="3.8" fill="url(#sp)"/>
<rect x="284.5" y="195" width="6.7" height="11.8" fill="#2b619c"/>
<rect x="284.95" y="196.1" width="5.8" height="9.6" fill="url(#sp)"/>
<rect x="291.3" y="198" width="6" height="6" fill="#2b619c"/>
<rect x="291.75" y="199.1" width="5.1" height="3.8" fill="url(#sp)"/>
<rect x="284.5" y="207.9" width="6.7" height="11.8" fill="#2b619c"/>
<rect x="284.95" y="209" width="5.8" height="9.6" fill="url(#sp)"/>
<rect x="291.3" y="210.9" width="6" height="6" fill="#2b619c"/>
<rect x="291.75" y="212" width="5.1" height="3.8" fill="url(#sp)"/>
<rect x="284.5" y="220.7" width="6.7" height="11.8" fill="#2b619c"/>
<rect x="284.95" y="221.8" width="5.8" height="9.6" fill="url(#sp)"/>
<rect x="291.3" y="223.7" width="6" height="6" fill="#2b619c"/>
<rect x="291.75" y="224.8" width="5.1" height="3.8" fill="url(#sp)"/>
<rect x="284.5" y="232.5" width="6.7" height="11.8" fill="#2b619c"/>
<rect x="284.95" y="233.6" width="5.8" height="9.6" fill="url(#sp)"/>
<rect x="291.3" y="235.5" width="6" height="6" fill="#2b619c"/>
<rect x="291.75" y="236.6" width="5.1" height="3.8" fill="url(#sp)"/>
<rect x="284.5" y="336.1" width="6.7" height="11.8" fill="#2b619c"/>
<rect x="284.95" y="337.2" width="5.8" height="9.6" fill="url(#sp)"/>
<rect x="291.3" y="339.1" width="6" height="6" fill="#2b619c"/>
<rect x="291.75" y="340.2" width="5.1" height="3.8" fill="url(#sp)"/>
<rect x="284.5" y="350.1" width="6.7" height="11.8" fill="#2b619c"/>
<rect x="284.95" y="351.2" width="5.8" height="9.6" fill="url(#sp)"/>
<rect x="291.3" y="353.1" width="6" height="6" fill="#2b619c"/>
<rect x="291.75" y="354.2" width="5.1" height="3.8" fill="url(#sp)"/>
<rect x="245.3" y="234.6" width="6" height="6" fill="#2b619c"/>
<rect x="245.75" y="235.7" width="5.1" height="3.8" fill="url(#sp)"/>
<rect x="252.4" y="231" width="6" height="6" fill="#2b619c"/>
<rect x="252.85" y="232.1" width="5.1" height="3.8" fill="url(#sp)"/>
<rect x="331.3" y="234.6" width="6" height="6" fill="#2b619c"/>
<rect x="331.75" y="235.7" width="5.1" height="3.8" fill="url(#sp)"/>
<rect x="324.2" y="231" width="6" height="6" fill="#2b619c"/>
<rect x="324.65" y="232.1" width="5.1" height="3.8" fill="url(#sp)"/>
</g>
<path d="M208,227.4 C210.02,225 211.38,222.55 214,221.2 C216.62,219.85 219.53,219.32 223.7,219.3 C227.87,219.28 235.37,219.9 239,221.1 C242.63,222.3 243.87,224.12 245.5,226.5 C247.13,228.88 247.83,232.2 248.8,235.4 C249.77,238.6 250.35,241.85 251.3,245.7 C252.25,249.55 253.13,255.58 254.5,258.5 C255.87,261.42 258.15,261.53 259.5,263.2 C260.85,264.87 262.05,266.12 262.6,268.5 C263.15,270.88 263.32,275.45 262.8,277.5 C262.28,279.55 264.63,280.08 259.5,280.8 C254.37,281.52 240.92,281.4 232,281.8 C223.08,282.2 211.42,283.42 206,283.2 C200.58,282.98 201.12,282.2 199.5,280.5 C197.88,278.8 196.98,276.08 196.3,273 C195.62,269.92 195.23,266.5 195.4,262 C195.57,257.5 196.22,250.4 197.3,246 C198.38,241.6 200.12,238.7 201.9,235.6 C203.68,232.5 205.98,229.8 208,227.4Z" fill="none" stroke="#e3101c" stroke-width="2.4" stroke-linejoin="round"/>
<path d="M374.6,227.4 C372.58,225 371.22,222.55 368.6,221.2 C365.98,219.85 363.07,219.32 358.9,219.3 C354.73,219.28 347.23,219.9 343.6,221.1 C339.97,222.3 338.73,224.12 337.1,226.5 C335.47,228.88 334.77,232.2 333.8,235.4 C332.83,238.6 332.25,241.85 331.3,245.7 C330.35,249.55 329.47,255.58 328.1,258.5 C326.73,261.42 324.45,261.53 323.1,263.2 C321.75,264.87 320.55,266.12 320,268.5 C319.45,270.88 319.28,275.45 319.8,277.5 C320.32,279.55 317.97,280.08 323.1,280.8 C328.23,281.52 341.68,281.4 350.6,281.8 C359.52,282.2 371.18,283.42 376.6,283.2 C382.02,282.98 381.48,282.2 383.1,280.5 C384.72,278.8 385.62,276.08 386.3,273 C386.98,269.92 387.37,266.5 387.2,262 C387.03,257.5 386.38,250.4 385.3,246 C384.22,241.6 382.48,238.7 380.7,235.6 C378.92,232.5 376.62,229.8 374.6,227.4Z" fill="none" stroke="#e3101c" stroke-width="2.4" stroke-linejoin="round"/>
<path d="M200,285.9 C206.67,285.27 224.42,284.57 237,283.8 C249.58,283.03 268.53,281.33 275.5,281.3 C282.47,281.27 278.42,282.23 278.8,283.6 C279.18,284.97 278.57,287.35 277.8,289.5 C277.03,291.65 275.03,293.92 274.2,296.5 C273.37,299.08 273.2,302.88 272.8,305 C272.4,307.12 275.93,306.37 271.8,309.2 C267.67,312.03 254.63,318.37 248,322 C241.37,325.63 235.92,328.9 232,331 C228.08,333.1 226.9,334.02 224.5,334.6 C222.1,335.18 219.55,335.02 217.6,334.5 C215.65,333.98 214.4,333.1 212.8,331.5 C211.2,329.9 209.6,328 208,324.9 C206.4,321.8 204.6,316.72 203.2,312.9 C201.8,309.08 200.68,305.57 199.6,302 C198.52,298.43 197.13,293.9 196.7,291.5 C196.27,289.1 196.45,288.53 197,287.6 C197.55,286.67 193.33,286.53 200,285.9Z" fill="none" stroke="#1fa53a" stroke-width="2.4" stroke-linejoin="round"/>
<path d="M382.6,285.9 C375.93,285.27 358.18,284.57 345.6,283.8 C333.02,283.03 314.07,281.33 307.1,281.3 C300.13,281.27 304.18,282.23 303.8,283.6 C303.42,284.97 304.03,287.35 304.8,289.5 C305.57,291.65 307.57,293.92 308.4,296.5 C309.23,299.08 309.4,302.88 309.8,305 C310.2,307.12 306.67,306.37 310.8,309.2 C314.93,312.03 327.97,318.37 334.6,322 C341.23,325.63 346.68,328.9 350.6,331 C354.52,333.1 355.7,334.02 358.1,334.6 C360.5,335.18 363.05,335.02 365,334.5 C366.95,333.98 368.2,333.1 369.8,331.5 C371.4,329.9 373,328 374.6,324.9 C376.2,321.8 378,316.72 379.4,312.9 C380.8,309.08 381.92,305.57 383,302 C384.08,298.43 385.47,293.9 385.9,291.5 C386.33,289.1 386.15,288.53 385.6,287.6 C385.05,286.67 389.27,286.53 382.6,285.9Z" fill="none" stroke="#1fa53a" stroke-width="2.4" stroke-linejoin="round"/>
<path d="M277.2,292.3 C278.47,291.88 281.57,291.97 283.5,292 C285.43,292.03 287.77,291.17 288.8,292.5 C289.83,293.83 289.57,293.22 289.7,300 C289.83,306.78 290.38,327.33 289.6,333.2 C288.82,339.07 286.4,334.48 285,335.2 C283.6,335.92 281.95,335.7 281.2,337.5 C280.45,339.3 280.57,342.83 280.5,346 C280.43,349.17 279.92,353.7 280.8,356.5 C281.68,359.3 284.83,360.8 285.8,362.8 C286.77,364.8 286.87,366.8 286.6,368.5 C286.33,370.2 286.4,372.55 284.2,373 C282,373.45 278.12,372.37 273.4,371.2 C268.68,370.03 261.73,368.03 255.9,366 C250.07,363.97 243.22,361.45 238.4,359 C233.58,356.55 229.8,353.93 227,351.3 C224.2,348.67 222.18,345.37 221.6,343.2 C221.02,341.03 220.1,340.7 223.5,338.3 C226.9,335.9 235.83,331.98 242,328.8 C248.17,325.62 255.42,321.92 260.5,319.2 C265.58,316.48 269.92,314.28 272.5,312.5 C275.08,310.72 275.45,310.58 276,308.5 C276.55,306.42 275.82,302.33 275.8,300 C275.78,297.67 275.67,295.78 275.9,294.5 C276.13,293.22 275.93,292.72 277.2,292.3Z" fill="none" stroke="#102c96" stroke-width="2.4" stroke-linejoin="round"/>
<path d="M305.4,292.3 C304.13,291.88 301.03,291.97 299.1,292 C297.17,292.03 294.83,291.17 293.8,292.5 C292.77,293.83 293.03,293.22 292.9,300 C292.77,306.78 292.22,327.33 293,333.2 C293.78,339.07 296.2,334.48 297.6,335.2 C299,335.92 300.65,335.7 301.4,337.5 C302.15,339.3 302.03,342.83 302.1,346 C302.17,349.17 302.68,353.7 301.8,356.5 C300.92,359.3 297.77,360.8 296.8,362.8 C295.83,364.8 295.73,366.8 296,368.5 C296.27,370.2 296.2,372.55 298.4,373 C300.6,373.45 304.48,372.37 309.2,371.2 C313.92,370.03 320.87,368.03 326.7,366 C332.53,363.97 339.38,361.45 344.2,359 C349.02,356.55 352.8,353.93 355.6,351.3 C358.4,348.67 360.42,345.37 361,343.2 C361.58,341.03 362.5,340.7 359.1,338.3 C355.7,335.9 346.77,331.98 340.6,328.8 C334.43,325.62 327.18,321.92 322.1,319.2 C317.02,316.48 312.68,314.28 310.1,312.5 C307.52,310.72 307.15,310.58 306.6,308.5 C306.05,306.42 306.78,302.33 306.8,300 C306.82,297.67 306.93,295.78 306.7,294.5 C306.47,293.22 306.67,292.72 305.4,292.3Z" fill="none" stroke="#102c96" stroke-width="2.4" stroke-linejoin="round"/>
<path d="M290,189.4 C299.57,189.83 315.1,191.68 325,194 C334.9,196.32 343.18,200.43 349.4,203.3 C355.62,206.17 358.35,208.22 362.3,211.2 C366.25,214.18 369.87,217.73 373.1,221.2 C376.33,224.67 379.37,228.27 381.7,232 C384.03,235.73 385.47,239.6 387.1,243.6 C388.73,247.6 390.13,250.27 391.5,256 C392.87,261.73 394.63,271.5 395.3,278 C395.97,284.5 395.93,288.92 395.5,295 C395.07,301.08 395.03,308.02 392.7,314.5 C390.37,320.98 385,328.32 381.5,333.9 C378,339.48 376.12,343.65 371.7,348 C367.28,352.35 360.83,356.42 355,360 C349.17,363.58 345.58,367.07 336.7,369.5 C327.82,371.93 310.32,373.62 301.7,374.6 C293.08,375.58 293.62,376.03 285,375.4 C276.38,374.77 259.72,372.95 250,370.8 C240.28,368.65 233.12,365.72 226.7,362.5 C220.28,359.28 215.9,355.48 211.5,351.5 C207.1,347.52 203.58,343.88 200.3,338.6 C197.02,333.32 194.23,325.7 191.8,319.8 C189.37,313.9 186.98,309.17 185.7,303.2 C184.42,297.23 183.88,291.4 184.1,284 C184.32,276.6 185.42,265.67 187,258.8 C188.58,251.93 191.43,246.93 193.6,242.8 C195.77,238.67 198.03,236.37 200,234 C201.97,231.63 203.15,231 205.4,228.6 C207.65,226.2 210.67,222.52 213.5,219.6 C216.33,216.68 219.42,213.63 222.4,211.1 C225.38,208.57 228.4,206.35 231.4,204.4 C234.4,202.45 237.3,200.9 240.4,199.4 C243.5,197.9 245.47,196.73 250,195.4 C254.53,194.07 260.93,192.4 267.6,191.4 C274.27,190.4 280.43,188.97 290,189.4Z" fill="none" stroke="#3a2016" stroke-width="2.4"/>
<path d="M278.3,190.2 L291.3,175.6 L304.3,190.2" fill="none" stroke="#3a2016" stroke-width="2.3" stroke-linejoin="miter"/>
<path d="M185,279.5 C184.25,278.78 182.08,275.2 180.5,275.2 C178.92,275.2 176.85,276.98 175.5,279.5 C174.15,282.02 172.6,286.38 172.4,290.3 C172.2,294.22 173.2,299.22 174.3,303 C175.4,306.78 177.5,310.33 179,313 C180.5,315.67 182.1,318.42 183.3,319 C184.5,319.58 185.68,317.87 186.2,316.5 C186.72,315.13 185.85,312.08 186.4,310.8 C186.95,309.52 188.98,309.13 189.5,308.8" fill="none" stroke="#3a2016" stroke-width="2.0" stroke-linecap="round"/>
<path d="M396,279 C396.58,278.27 398,274.52 399.5,274.6 C401,274.68 403.47,277.27 405,279.5 C406.53,281.73 408.43,284.08 408.7,288 C408.97,291.92 407.8,298.83 406.6,303 C405.4,307.17 403,310.5 401.5,313 C400,315.5 398.75,317.67 397.6,318 C396.45,318.33 395.15,316.42 394.6,315 C394.05,313.58 394.82,310.67 394.3,309.5 C393.78,308.33 391.97,308.25 391.5,308" fill="none" stroke="#3a2016" stroke-width="2.0" stroke-linecap="round"/>
<text x="275" y="168.2" font-size="10.4" fill="#231f20" text-anchor="start" textLength="36.7" lengthAdjust="spacingAndGlyphs">Anterior</text>
<text x="207.3" y="201.9" font-size="10.6" fill="#231f20" text-anchor="start" >Left</text>
<text x="350.2" y="201.9" font-size="10.3" fill="#231f20" text-anchor="start" >Right</text>
<text x="269.9" y="388.9" font-size="10.4" fill="#231f20" text-anchor="start" textLength="41.6" lengthAdjust="spacingAndGlyphs">Posterior</text>
<rect x="621" y="156" width="28.1" height="219.91" fill="#1a7a3e"/>
<rect x="649.1" y="156" width="28" height="28.4" fill="#e52421"/>
<line x1="635.3" y1="341.2" x2="635.3" y2="410.1" stroke="#4d4d4d" stroke-width="1.1"/>
<line x1="633" y1="341.2" x2="637.8" y2="341.2" stroke="#4d4d4d" stroke-width="1.1"/>
<line x1="633" y1="410.1" x2="637.8" y2="410.1" stroke="#4d4d4d" stroke-width="1.1"/>
<line x1="663.1" y1="104.8" x2="663.1" y2="264.1" stroke="#4d4d4d" stroke-width="1.1"/>
<line x1="660.6" y1="104.8" x2="665.6" y2="104.8" stroke="#4d4d4d" stroke-width="1.1"/>
<line x1="660.6" y1="264.1" x2="665.6" y2="264.1" stroke="#4d4d4d" stroke-width="1.1"/>
<line x1="608.5" y1="77.5" x2="608.5" y2="524.3" stroke="#8a8a8a" stroke-width="1"/>
<line x1="608" y1="524" x2="684.5" y2="524" stroke="#8a8a8a" stroke-width="1"/>
<line x1="604.3" y1="156" x2="608.5" y2="156" stroke="#8a8a8a" stroke-width="1"/>
<text x="589.8" y="160.7" font-size="13" fill="#231f20" text-anchor="start" >0</text>
<line x1="604.3" y1="263.8" x2="608.5" y2="263.8" stroke="#8a8a8a" stroke-width="1"/>
<text x="589.8" y="268.5" font-size="13" fill="#231f20" text-anchor="start" >-1</text>
<line x1="604.3" y1="371.6" x2="608.5" y2="371.6" stroke="#8a8a8a" stroke-width="1"/>
<text x="589.8" y="376.3" font-size="13" fill="#231f20" text-anchor="start" >-2</text>
<line x1="604.3" y1="479.4" x2="608.5" y2="479.4" stroke="#8a8a8a" stroke-width="1"/>
<text x="589.8" y="484.1" font-size="13" fill="#231f20" text-anchor="start" >-3</text>
<text x="0" y="0" font-size="20.3" fill="#231f20" transform="translate(603.6,458.3) rotate(-90)">Power</text>
<text x="625.7" y="513.9" font-size="13" fill="#231f20" text-anchor="start" >HCs</text>
<text x="661.7" y="513.9" font-size="13" fill="#231f20" text-anchor="start" >CP</text>
<path d="M642.65,95.6 L643.65,91.18 L643.65,91.18 L643.44,90.14 L642.88,89.38 L642.1,89.1 L641.33,89.38 L640.76,90.14 L640.55,91.18 L640.55,91.18 L641.55,95.6ZM642.38,95.12 L639.05,92.05 L639.05,92.05 L638.04,91.71 L637.1,91.82 L636.47,92.35 L636.32,93.16 L636.7,94.03 L637.5,94.73 L637.5,94.73 L641.83,96.08ZM641.83,95.12 L637.5,96.47 L637.5,96.47 L636.7,97.17 L636.32,98.04 L636.47,98.85 L637.1,99.38 L638.04,99.49 L639.05,99.15 L639.05,99.15 L642.38,96.08ZM641.55,95.6 L640.55,100.02 L640.55,100.02 L640.76,101.06 L641.33,101.82 L642.1,102.1 L642.88,101.82 L643.44,101.06 L643.65,100.02 L643.65,100.02 L642.65,95.6ZM641.83,96.08 L645.15,99.15 L645.15,99.15 L646.16,99.49 L647.1,99.38 L647.73,98.85 L647.88,98.04 L647.5,97.17 L646.7,96.47 L646.7,96.47 L642.38,95.12ZM642.38,96.08 L646.7,94.73 L646.7,94.73 L647.5,94.03 L647.88,93.16 L647.73,92.35 L647.1,91.82 L646.16,91.71 L645.15,92.05 L645.15,92.05 L641.83,95.12Z" fill="#111111"/>
<path d="M527.5,65.65 L527.5,71.15 M529.49,67.25 L525.51,69.55 M529.49,69.55 L525.51,67.25 M529.84,65.65 L529.84,71.15 M531.83,67.25 L527.85,69.55 M531.83,69.55 L527.85,67.25 M532.18,65.65 L532.18,71.15 M534.17,67.25 L530.19,69.55 M534.17,69.55 L530.19,67.25 M534.52,65.65 L534.52,71.15 M536.51,67.25 L532.53,69.55 M536.51,69.55 L532.53,67.25 M536.86,65.65 L536.86,71.15 M538.85,67.25 L534.87,69.55 M538.85,69.55 L534.87,67.25 M539.2,65.65 L539.2,71.15 M541.19,67.25 L537.21,69.55 M541.19,69.55 L537.21,67.25 M541.54,65.65 L541.54,71.15 M543.53,67.25 L539.55,69.55 M543.53,69.55 L539.55,67.25 M543.88,65.65 L543.88,71.15 M545.87,67.25 L541.89,69.55 M545.87,69.55 L541.89,67.25 M546.22,65.65 L546.22,71.15 M548.21,67.25 L544.23,69.55 M548.21,69.55 L544.23,67.25 M548.56,65.65 L548.56,71.15 M550.55,67.25 L546.57,69.55 M550.55,69.55 L546.57,67.25 M550.9,65.65 L550.9,71.15 M552.89,67.25 L548.91,69.55 M552.89,69.55 L548.91,67.25 M553.24,65.65 L553.24,71.15 M555.23,67.25 L551.25,69.55 M555.23,69.55 L551.25,67.25 " fill="none" stroke="#2a2a2a" stroke-width="1.05"/>
<path d="M525.9,72.6 L525.9,78.1 L554.8,78.1 L554.8,72.6" fill="none" stroke="#231f20" stroke-width="1.6"/>
<path d="M556.5,77.6 C577,77.8 603,88 626.5,113.5" fill="none" stroke="#231815" stroke-width="2"/>
<path d="M634.6,122 L620.3,116.8 Q626.2,114.4 626.8,113 Q628.5,111.5 630.8,107.9 Z" fill="#231815"/>
<rect x="467.8" y="536.6" width="111.6" height="18.2" fill="#ffffff" stroke="#dcdcdc" stroke-width="0.8"/>
<line x1="470.8" y1="545.2" x2="494.9" y2="545.2" stroke="#109a40" stroke-width="2"/>
<line x1="527" y1="545.2" x2="551.2" y2="545.2" stroke="#e8141e" stroke-width="2"/>
<text x="499.3" y="549.7" font-size="10.6" fill="#231f20" text-anchor="start" >HCs</text>
<text x="557.3" y="549.7" font-size="10.6" fill="#231f20" text-anchor="start" >CP</text>
</svg>
</body></html>
